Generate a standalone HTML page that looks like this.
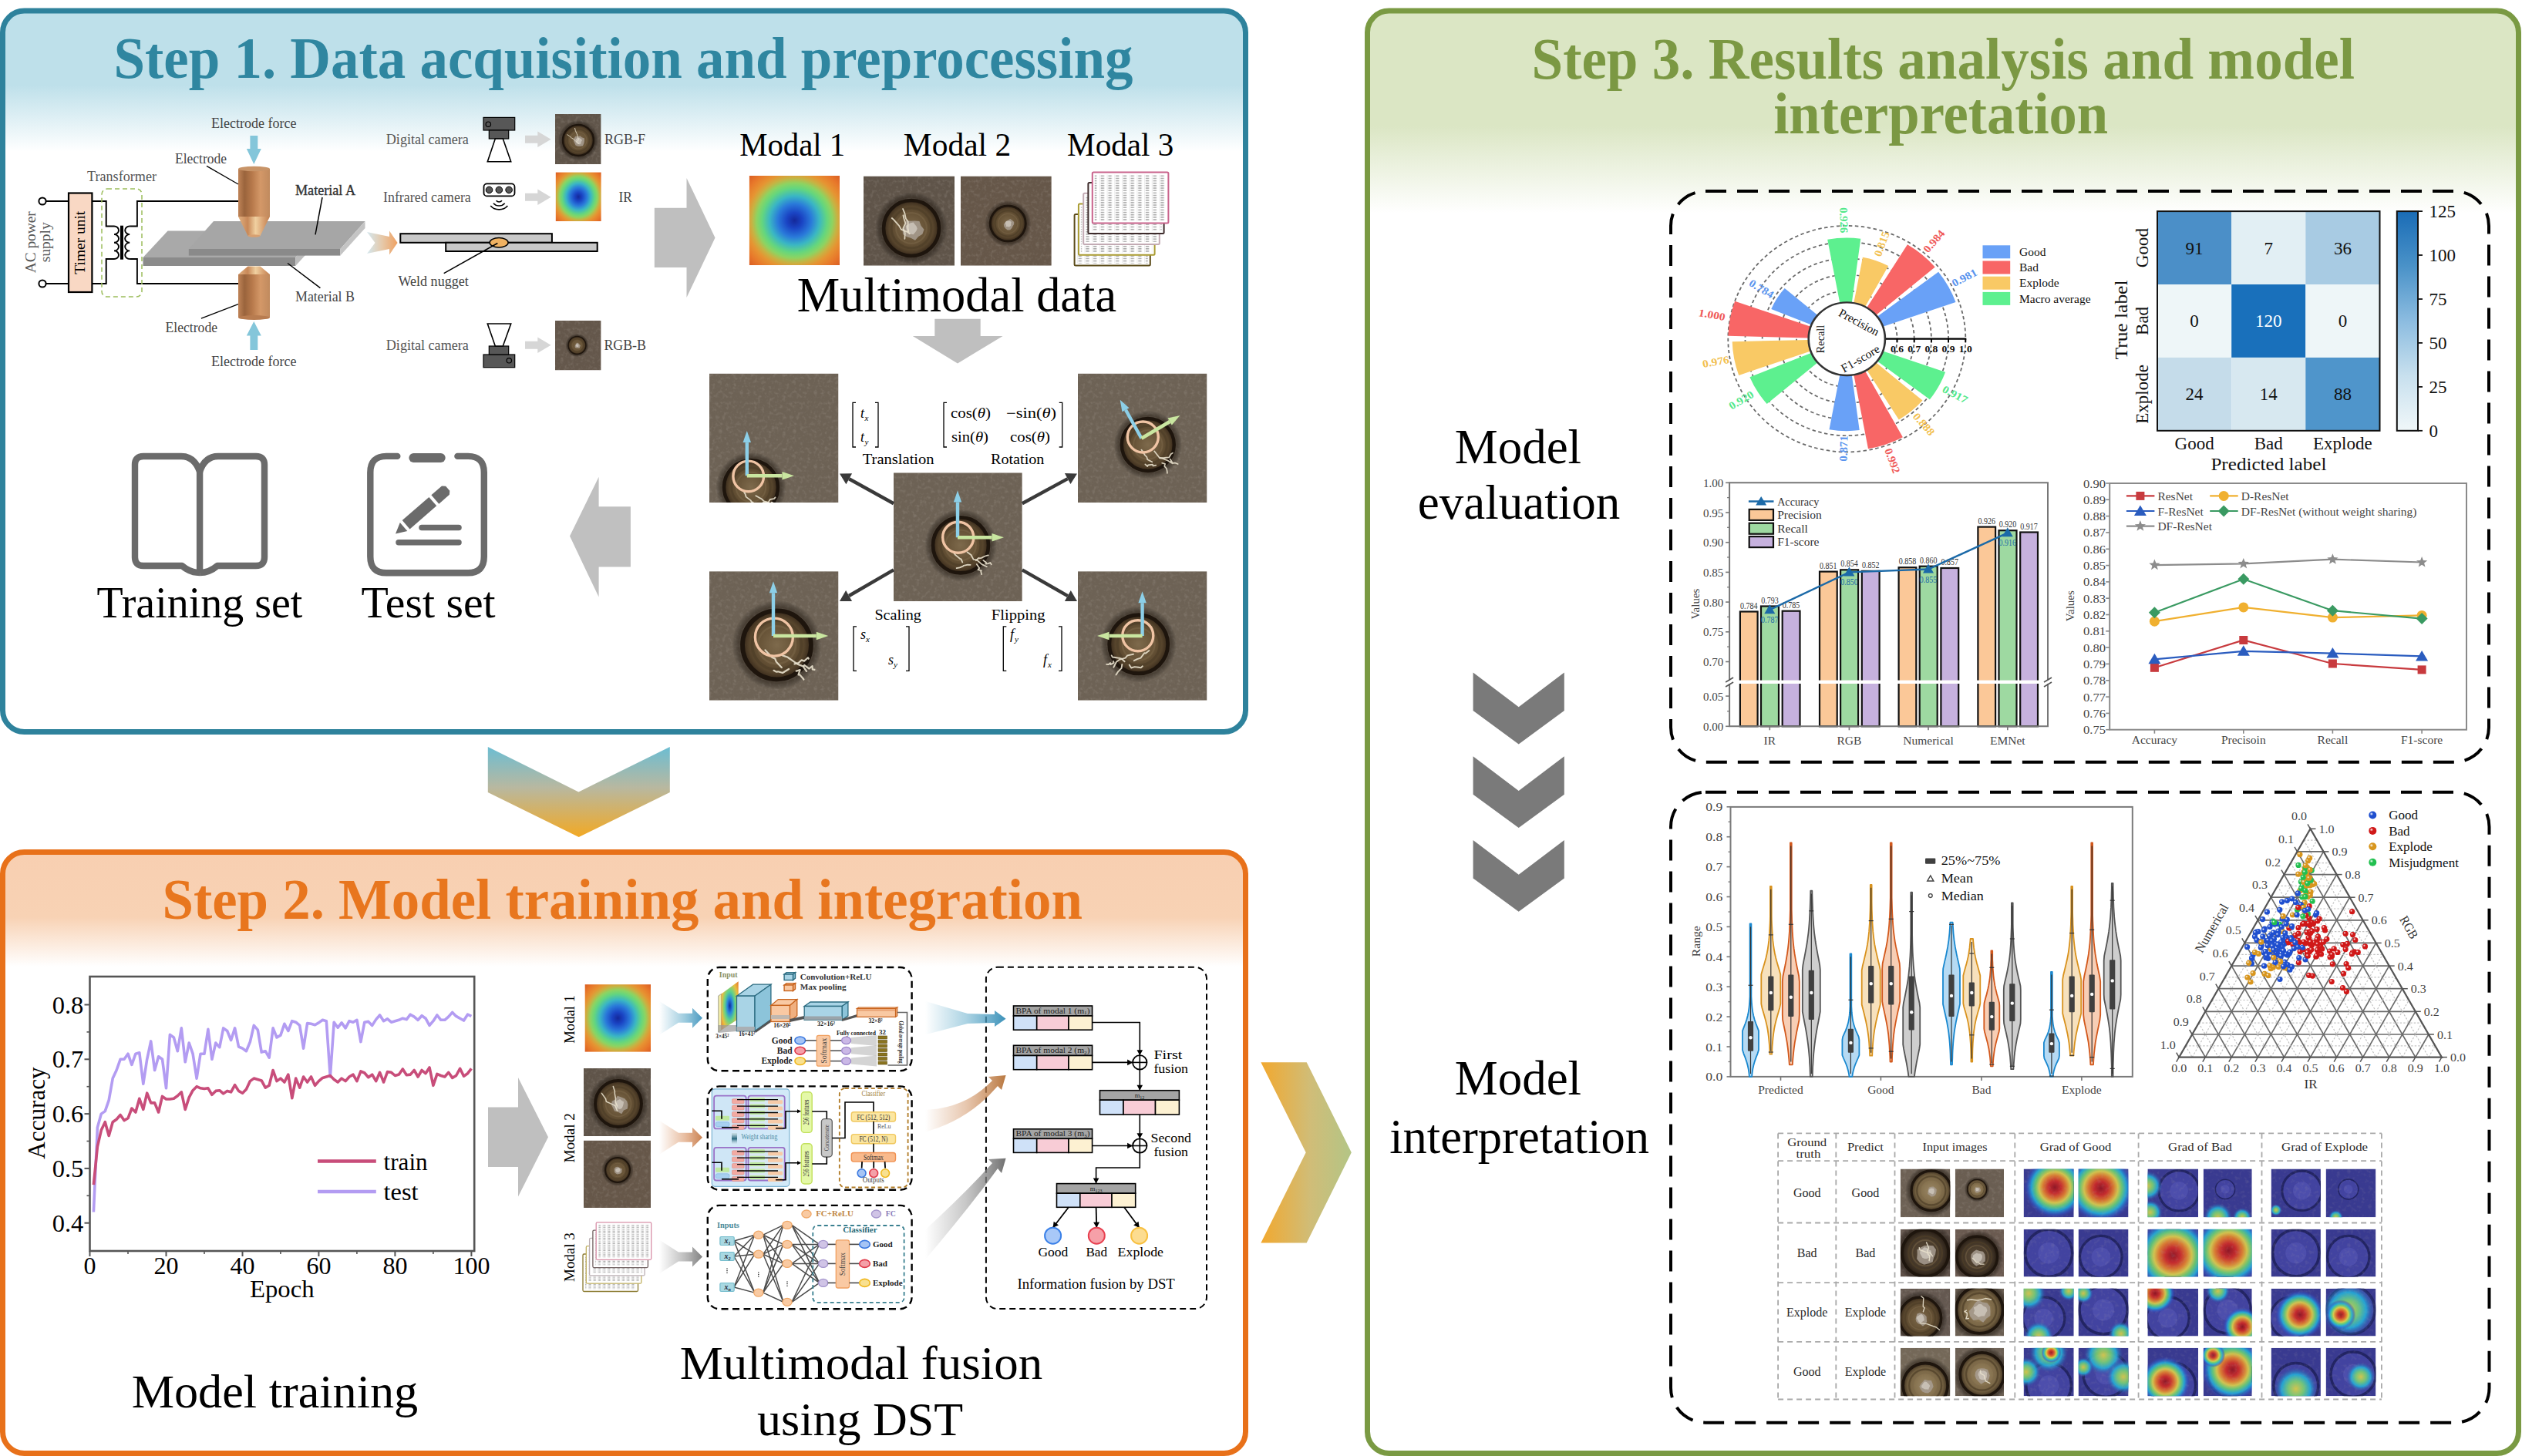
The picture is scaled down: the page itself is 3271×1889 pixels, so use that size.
<!DOCTYPE html>
<html><head><meta charset="utf-8"><title>Multimodal weld quality pipeline</title>
<style>html,body{margin:0;padding:0;background:#fff;}body{width:3271px;height:1889px;overflow:hidden;}
svg{display:block;font-family:"Liberation Serif",serif;}</style></head>
<body><svg width="3271" height="1889" viewBox="0 0 3271 1889">
<defs><radialGradient id="gIR" gradientUnits="objectBoundingBox" cx="0.5" cy="0.5" r="0.72" ><stop offset="0" stop-color="#14289a"/><stop offset="0.12" stop-color="#1a44c4"/><stop offset="0.26" stop-color="#2a7ada"/><stop offset="0.38" stop-color="#3ab6c4"/><stop offset="0.5" stop-color="#64d67e"/><stop offset="0.58" stop-color="#8cd462"/><stop offset="0.66" stop-color="#c8b242"/><stop offset="0.74" stop-color="#e69432"/><stop offset="0.86" stop-color="#e8782a"/><stop offset="1" stop-color="#d85a22"/></radialGradient>
<radialGradient id="gHalo" gradientUnits="objectBoundingBox" cx="0.5" cy="0.5" r="0.5" ><stop offset="0" stop-color="#000" stop-opacity="0"/><stop offset="0.7" stop-color="#000" stop-opacity="0"/><stop offset="0.85" stop-color="#1a120a" stop-opacity="0.45"/><stop offset="1" stop-color="#000" stop-opacity="0"/></radialGradient>
<radialGradient id="gNug" gradientUnits="objectBoundingBox" cx="0.5" cy="0.5" r="0.5" ><stop offset="0" stop-color="#7e6a4c"/><stop offset="0.55" stop-color="#665236"/><stop offset="0.8" stop-color="#56442c"/><stop offset="1" stop-color="#36281a"/></radialGradient>
<radialGradient id="gNugL" gradientUnits="objectBoundingBox" cx="0.5" cy="0.5" r="0.5" ><stop offset="0" stop-color="#9a8766"/><stop offset="0.5" stop-color="#86724f"/><stop offset="0.8" stop-color="#6e5c3e"/><stop offset="1" stop-color="#3e3020"/></radialGradient>
<radialGradient id="gNugD" gradientUnits="objectBoundingBox" cx="0.5" cy="0.5" r="0.5" ><stop offset="0" stop-color="#5a4a38"/><stop offset="0.55" stop-color="#4a3c2c"/><stop offset="0.8" stop-color="#3c3024"/><stop offset="1" stop-color="#261c12"/></radialGradient>
<radialGradient id="gSil" gradientUnits="objectBoundingBox" cx="0.5" cy="0.5" r="0.5" ><stop offset="0" stop-color="#d0c8be"/><stop offset="0.45" stop-color="#b0a598"/><stop offset="1" stop-color="#8c8070" stop-opacity="0"/></radialGradient>
<radialGradient id="gJet" gradientUnits="objectBoundingBox" cx="0.5" cy="0.5" r="0.5" ><stop offset="0" stop-color="#a01010"/><stop offset="0.2" stop-color="#e02818"/><stop offset="0.38" stop-color="#f88a20"/><stop offset="0.5" stop-color="#f0e040"/><stop offset="0.62" stop-color="#70e070"/><stop offset="0.75" stop-color="#20b8e0"/><stop offset="0.88" stop-color="#3060d0" stop-opacity="0.6"/><stop offset="1" stop-color="#3a3ea0" stop-opacity="0"/></radialGradient>
<radialGradient id="gJet2" gradientUnits="objectBoundingBox" cx="0.5" cy="0.5" r="0.5" ><stop offset="0" stop-color="#f0e040"/><stop offset="0.35" stop-color="#80e070"/><stop offset="0.65" stop-color="#20b8e0"/><stop offset="1" stop-color="#3a3ea0" stop-opacity="0"/></radialGradient>
<filter id="fNoise" x="0" y="0" width="100%" height="100%"><feTurbulence type="fractalNoise" baseFrequency="0.22" numOctaves="2" seed="3" stitchTiles="stitch"/><feColorMatrix type="matrix" values="0 0 0 0 0.5  0 0 0 0 0.45  0 0 0 0 0.4  1.6 0 0 0 -0.8"/></filter>
<pattern id="pNoise" patternUnits="userSpaceOnUse" width="96" height="96"><rect width="96" height="96" filter="url(#fNoise)"/></pattern>
<filter id="fNoiseD" x="0" y="0" width="100%" height="100%"><feTurbulence type="fractalNoise" baseFrequency="0.3" numOctaves="2" seed="8" stitchTiles="stitch"/><feColorMatrix type="matrix" values="0 0 0 0 0.2  0 0 0 0 0.17  0 0 0 0 0.15  1.6 0 0 0 -0.85"/></filter>
<pattern id="pNoiseD" patternUnits="userSpaceOnUse" width="80" height="80"><rect width="80" height="80" filter="url(#fNoiseD)"/></pattern>
<linearGradient id="gS1" gradientUnits="userSpaceOnUse" x1="0" y1="14" x2="0" y2="950"><stop offset="0" stop-color="#bee0ea"/><stop offset="0.103" stop-color="#bee0ea"/><stop offset="0.195" stop-color="#ffffff"/><stop offset="1" stop-color="#ffffff"/></linearGradient>
<linearGradient id="gS2" gradientUnits="userSpaceOnUse" x1="0" y1="1105" x2="0" y2="1889"><stop offset="0" stop-color="#f8cfb1"/><stop offset="0.108" stop-color="#f8d2b4"/><stop offset="0.19" stop-color="#ffffff"/><stop offset="1" stop-color="#ffffff"/></linearGradient>
<linearGradient id="gS3" gradientUnits="userSpaceOnUse" x1="0" y1="14" x2="0" y2="1889"><stop offset="0" stop-color="#dbe6c4"/><stop offset="0.08" stop-color="#dbe6c4"/><stop offset="0.14" stop-color="#ffffff"/><stop offset="1" stop-color="#ffffff"/></linearGradient>
<linearGradient id="gCh1" gradientUnits="userSpaceOnUse" x1="0" y1="969" x2="0" y2="1086"><stop offset="0" stop-color="#6cbdd2"/><stop offset="0.45" stop-color="#b8b8a0"/><stop offset="1" stop-color="#f2a924"/></linearGradient>
<linearGradient id="gCh2" gradientUnits="userSpaceOnUse" x1="1635" y1="0" x2="1753" y2="0"><stop offset="0" stop-color="#f2a82e"/><stop offset="0.55" stop-color="#d0bd78"/><stop offset="1" stop-color="#b3c586"/></linearGradient>
<linearGradient id="gCu" gradientUnits="userSpaceOnUse" x1="309" y1="0" x2="350" y2="0"><stop offset="0" stop-color="#c08458"/><stop offset="0.2" stop-color="#9a643c"/><stop offset="0.45" stop-color="#b87a4c"/><stop offset="0.7" stop-color="#d49868"/><stop offset="1" stop-color="#c08a5e"/></linearGradient>
<linearGradient id="gCu2" gradientUnits="userSpaceOnUse" x1="309" y1="0" x2="350" y2="0"><stop offset="0" stop-color="#e0b080"/><stop offset="0.3" stop-color="#c88858"/><stop offset="0.55" stop-color="#f0d0a0"/><stop offset="0.8" stop-color="#d8a070"/><stop offset="1" stop-color="#c08050"/></linearGradient>
<linearGradient id="gBO" gradientUnits="userSpaceOnUse" x1="476" y1="0" x2="516" y2="0"><stop offset="0" stop-color="#d4e8f0"/><stop offset="0.5" stop-color="#e6c8a8"/><stop offset="1" stop-color="#efa060"/></linearGradient>
<clipPath id="c1"><rect x="720" y="148" width="59.6" height="65"/></clipPath>
<clipPath id="c2"><rect x="720" y="416" width="59.6" height="64.4"/></clipPath>
<clipPath id="c3"><rect x="1120" y="228.5" width="118" height="116.2"/></clipPath>
<clipPath id="c4"><rect x="1246" y="228.5" width="117.8" height="116.2"/></clipPath>
<pattern id="tblpat" patternUnits="userSpaceOnUse" width="9.7" height="3.15"><rect x="1.8" y="0.7" width="4.4" height="1.5" fill="#a6a6a6"/><rect x="0" y="0" width="0.6" height="3.15" fill="#dedede"/></pattern>
<pattern id="tblpat2" patternUnits="userSpaceOnUse" width="6.2" height="2.3"><rect x="1.2" y="0.5" width="2.9" height="1.1" fill="#a6a6a6"/><rect x="0" y="0" width="0.5" height="2.3" fill="#dedede"/></pattern>
<clipPath id="c5"><rect x="920" y="484.6" width="167.5" height="167.5"/></clipPath>
<clipPath id="c6"><rect x="920" y="484.6" width="167.5" height="167.5"/></clipPath>
<clipPath id="c7"><rect x="1398" y="484.6" width="167.5" height="167.5"/></clipPath>
<clipPath id="c8"><rect x="1398" y="484.6" width="167.5" height="167.5"/></clipPath>
<clipPath id="c9"><rect x="1159" y="613.3" width="166.8" height="166.8"/></clipPath>
<clipPath id="c10"><rect x="1159" y="613.3" width="166.8" height="166.8"/></clipPath>
<clipPath id="c11"><rect x="920" y="741.2" width="167.5" height="167.5"/></clipPath>
<clipPath id="c12"><rect x="920" y="741.2" width="167.5" height="167.5"/></clipPath>
<clipPath id="c13"><rect x="1398" y="741.2" width="167.5" height="167.5"/></clipPath>
<clipPath id="c14"><rect x="1398" y="741.2" width="167.5" height="167.5"/></clipPath>
<clipPath id="c15"><rect x="116.5" y="1267" width="498.7" height="356"/></clipPath>
<clipPath id="c16"><rect x="757" y="1386" width="87" height="88"/></clipPath>
<clipPath id="c17"><rect x="757" y="1479.6" width="87" height="87.4"/></clipPath>
<linearGradient id="gFB" gradientUnits="userSpaceOnUse" x1="855" y1="0" x2="911" y2="0"><stop offset="0" stop-color="#5aa8c8" stop-opacity="0"/><stop offset="0.6" stop-color="#5aa8c8" stop-opacity="0.6"/><stop offset="1" stop-color="#4a98c0"/></linearGradient>
<linearGradient id="gFO" gradientUnits="userSpaceOnUse" x1="855" y1="0" x2="911" y2="0"><stop offset="0" stop-color="#d89060" stop-opacity="0"/><stop offset="0.6" stop-color="#d89060" stop-opacity="0.6"/><stop offset="1" stop-color="#c88050"/></linearGradient>
<linearGradient id="gFG" gradientUnits="userSpaceOnUse" x1="855" y1="0" x2="911" y2="0"><stop offset="0" stop-color="#909090" stop-opacity="0"/><stop offset="0.6" stop-color="#909090" stop-opacity="0.6"/><stop offset="1" stop-color="#808080"/></linearGradient>
<radialGradient id="gIRv" gradientUnits="objectBoundingBox" cx="0.5" cy="0.5" r="0.75" ><stop offset="0" stop-color="#0c2a9c"/><stop offset="0.2" stop-color="#2a86dc"/><stop offset="0.4" stop-color="#5ed48a"/><stop offset="0.65" stop-color="#e8c040"/><stop offset="1" stop-color="#e66428"/></radialGradient>
<linearGradient id="gWS" gradientUnits="userSpaceOnUse" x1="0" y1="1471" x2="0" y2="1484"><stop offset="0" stop-color="#c0d8e0"/><stop offset="0.5" stop-color="#2a6a80"/><stop offset="1" stop-color="#c0d8e0" stop-opacity="0.3"/></linearGradient>
<linearGradient id="gIA1" gradientUnits="userSpaceOnUse" x1="1200" y1="0" x2="1305" y2="0"><stop offset="0" stop-color="#5aa8c8" stop-opacity="0"/><stop offset="0.5" stop-color="#5aa8c8" stop-opacity="0.5"/><stop offset="1" stop-color="#3a90b8"/></linearGradient>
<linearGradient id="gIA2" gradientUnits="userSpaceOnUse" x1="1200" y1="0" x2="1305" y2="0"><stop offset="0" stop-color="#d09060" stop-opacity="0"/><stop offset="0.5" stop-color="#d09060" stop-opacity="0.5"/><stop offset="1" stop-color="#b87840"/></linearGradient>
<linearGradient id="gIA3" gradientUnits="userSpaceOnUse" x1="1200" y1="0" x2="1305" y2="0"><stop offset="0" stop-color="#909090" stop-opacity="0"/><stop offset="0.5" stop-color="#909090" stop-opacity="0.5"/><stop offset="1" stop-color="#707070"/></linearGradient>
<linearGradient id="gCB" gradientUnits="userSpaceOnUse" x1="0" y1="274.1" x2="0" y2="558.8"><stop offset="0" stop-color="#1a6cb6"/><stop offset="0.25" stop-color="#4a92c8"/><stop offset="0.5" stop-color="#8cbce0"/><stop offset="0.75" stop-color="#c8e0ee"/><stop offset="1" stop-color="#f0f7f9"/></linearGradient>
<radialGradient id="pB" gradientUnits="objectBoundingBox" cx="0.35" cy="0.35" r="0.65" ><stop offset="0" stop-color="#ffffff"/><stop offset="0.35" stop-color="#1f4fcf"/><stop offset="1" stop-color="#1f4fcf"/></radialGradient>
<radialGradient id="pR" gradientUnits="objectBoundingBox" cx="0.35" cy="0.35" r="0.65" ><stop offset="0" stop-color="#ffffff"/><stop offset="0.35" stop-color="#d01818"/><stop offset="1" stop-color="#d01818"/></radialGradient>
<radialGradient id="pO" gradientUnits="objectBoundingBox" cx="0.35" cy="0.35" r="0.65" ><stop offset="0" stop-color="#ffffff"/><stop offset="0.35" stop-color="#d8961e"/><stop offset="1" stop-color="#d8961e"/></radialGradient>
<radialGradient id="pG" gradientUnits="objectBoundingBox" cx="0.35" cy="0.35" r="0.65" ><stop offset="0" stop-color="#ffffff"/><stop offset="0.35" stop-color="#22c050"/><stop offset="1" stop-color="#22c050"/></radialGradient>
<clipPath id="c18"><rect x="2464.8" y="1516.5" width="64.5" height="62.8"/></clipPath>
<clipPath id="c19"><rect x="2535.8" y="1516.5" width="63.2" height="62.8"/></clipPath>
<clipPath id="c20"><rect x="2624.6" y="1516.5" width="65.1" height="62.8"/></clipPath>
<clipPath id="c21"><rect x="2695.6" y="1516.5" width="64.9" height="62.8"/></clipPath>
<clipPath id="c22"><rect x="2785.4" y="1516.5" width="65.6" height="62.8"/></clipPath>
<clipPath id="c23"><rect x="2857.7" y="1516.5" width="63" height="62.8"/></clipPath>
<clipPath id="c24"><rect x="2945.6" y="1516.5" width="64.3" height="62.8"/></clipPath>
<clipPath id="c25"><rect x="3016.6" y="1516.5" width="64.8" height="62.8"/></clipPath>
<clipPath id="c26"><rect x="2464.8" y="1594.8" width="64.5" height="61.7"/></clipPath>
<clipPath id="c27"><rect x="2535.8" y="1594.8" width="63.2" height="61.7"/></clipPath>
<clipPath id="c28"><rect x="2624.6" y="1594.8" width="65.1" height="61.7"/></clipPath>
<clipPath id="c29"><rect x="2695.6" y="1594.8" width="64.9" height="61.7"/></clipPath>
<clipPath id="c30"><rect x="2785.4" y="1594.8" width="65.6" height="61.7"/></clipPath>
<clipPath id="c31"><rect x="2857.7" y="1594.8" width="63" height="61.7"/></clipPath>
<clipPath id="c32"><rect x="2945.6" y="1594.8" width="64.3" height="61.7"/></clipPath>
<clipPath id="c33"><rect x="3016.6" y="1594.8" width="64.8" height="61.7"/></clipPath>
<clipPath id="c34"><rect x="2464.8" y="1671.8" width="64.5" height="61.7"/></clipPath>
<clipPath id="c35"><rect x="2535.8" y="1671.8" width="63.2" height="61.7"/></clipPath>
<clipPath id="c36"><rect x="2624.6" y="1671.8" width="65.1" height="61.7"/></clipPath>
<clipPath id="c37"><rect x="2695.6" y="1671.8" width="64.9" height="61.7"/></clipPath>
<clipPath id="c38"><rect x="2785.4" y="1671.8" width="65.6" height="61.7"/></clipPath>
<clipPath id="c39"><rect x="2857.7" y="1671.8" width="63" height="61.7"/></clipPath>
<clipPath id="c40"><rect x="2945.6" y="1671.8" width="64.3" height="61.7"/></clipPath>
<clipPath id="c41"><rect x="3016.6" y="1671.8" width="64.8" height="61.7"/></clipPath>
<clipPath id="c42"><rect x="2464.8" y="1748.8" width="64.5" height="62.5"/></clipPath>
<clipPath id="c43"><rect x="2535.8" y="1748.8" width="63.2" height="62.5"/></clipPath>
<clipPath id="c44"><rect x="2624.6" y="1748.8" width="65.1" height="62.5"/></clipPath>
<clipPath id="c45"><rect x="2695.6" y="1748.8" width="64.9" height="62.5"/></clipPath>
<clipPath id="c46"><rect x="2785.4" y="1748.8" width="65.6" height="62.5"/></clipPath>
<clipPath id="c47"><rect x="2857.7" y="1748.8" width="63" height="62.5"/></clipPath>
<clipPath id="c48"><rect x="2945.6" y="1748.8" width="64.3" height="62.5"/></clipPath>
<clipPath id="c49"><rect x="3016.6" y="1748.8" width="64.8" height="62.5"/></clipPath></defs>
<rect x="0" y="0" width="3271" height="1889" fill="#ffffff"/>
<rect x="3.5" y="14" width="1612" height="935.5" fill="url(#gS1)" stroke="#2e829c" stroke-width="7" rx="28"/>
<rect x="3.5" y="1105.5" width="1612" height="780" fill="url(#gS2)" stroke="#e8711a" stroke-width="7" rx="28"/>
<rect x="1773.5" y="14" width="1493" height="1871.5" fill="url(#gS3)" stroke="#7a9a43" stroke-width="7" rx="28"/>
<text x="147.5" y="101" font-size="77" fill="#2f86a0" font-weight="bold" textLength="1322" lengthAdjust="spacingAndGlyphs">Step 1. Data acquisition and preprocessing</text>
<text x="210.5" y="1191.5" font-size="75" fill="#e8761e" font-weight="bold" textLength="1193.5" lengthAdjust="spacingAndGlyphs">Step 2. Model training and integration</text>
<text x="1986.5" y="102.3" font-size="77" fill="#7b9843" font-weight="bold" textLength="1067.5" lengthAdjust="spacingAndGlyphs">Step 3. Results analysis and model</text>
<text x="2300.2" y="172.5" font-size="77" fill="#7b9843" font-weight="bold" textLength="434" lengthAdjust="spacingAndGlyphs">interpretation</text>
<polygon points="632.8,969 750.4,1027.4 868.8,969 868.8,1028 750.7,1086 632.8,1028" fill="url(#gCh1)"/>
<polygon points="1635.4,1378.2 1694.7,1378.2 1752.8,1495.2 1694.7,1612.6 1635.4,1612.6 1693.7,1495.2" fill="url(#gCh2)"/>
<circle cx="55" cy="261" r="4.6" fill="#fff" stroke="#000" stroke-width="2"/>
<circle cx="55" cy="368" r="4.6" fill="#fff" stroke="#000" stroke-width="2"/>
<polyline points="59.6,261 89,261" fill="none" stroke="#000" stroke-width="2" />
<polyline points="59.6,368 89,368" fill="none" stroke="#000" stroke-width="2" />
<rect x="89" y="250.5" width="30.4" height="128.5" fill="#f9d8c4" stroke="#000" stroke-width="2.2"/>
<text x="110.4" y="314.7" font-size="18.5" text-anchor="middle" textLength="82" lengthAdjust="spacingAndGlyphs" transform="rotate(-90 110.4 314.7)">Timer unit</text>
<text x="46" y="314.3" font-size="18" fill="#555" text-anchor="middle" textLength="80" lengthAdjust="spacingAndGlyphs" transform="rotate(-90 46 314.3)">AC power</text>
<text x="65.5" y="314.3" font-size="18" fill="#555" text-anchor="middle" textLength="52" lengthAdjust="spacingAndGlyphs" transform="rotate(-90 65.5 314.3)">supply</text>
<polyline points="119.4,261 137.7,261 137.7,293.5 148,293.5" fill="none" stroke="#000" stroke-width="2" />
<polyline points="119.4,368 137.7,368 137.7,336 148,336" fill="none" stroke="#000" stroke-width="2" />
<path d="M148,293.5 A6,5.3 0 0 1 148,304.1 A6,5.3 0 0 1 148,314.8 A6,5.3 0 0 1 148,325.4 A6,5.3 0 0 1 148,336" fill="none" stroke="#000" stroke-width="1.9"/>
<path d="M168.2,293.5 A6,5.3 0 0 0 168.2,304.1 A6,5.3 0 0 0 168.2,314.8 A6,5.3 0 0 0 168.2,325.4 A6,5.3 0 0 0 168.2,336" fill="none" stroke="#000" stroke-width="1.9"/>
<rect x="156" y="292.7" width="4" height="44" fill="#000"/>
<polyline points="168.2,293.5 177.9,293.5 177.9,261 309,261" fill="none" stroke="#000" stroke-width="1.9" />
<polyline points="168.2,336 177.9,336 177.9,368 309,368" fill="none" stroke="#000" stroke-width="1.9" />
<rect x="132" y="245" width="52" height="140" fill="none" stroke="#9cbd5c" stroke-width="1.5" rx="7" stroke-dasharray="6,4"/>
<text x="113" y="235" font-size="18" fill="#555" textLength="90" lengthAdjust="spacingAndGlyphs">Transformer</text>
<polygon points="185.5,334 217.6,299.5 415,299.5 383.3,334" fill="#a9a9a9"/>
<rect x="185.5" y="334" width="197.8" height="11" fill="#8b8b8b"/>
<polygon points="383.3,334 415,299.5 415,310 383.3,345" fill="#bcbcbc"/>
<polygon points="244.8,323 277,287 473.5,287 441.4,323" fill="#a6a6a6"/>
<rect x="244.8" y="323" width="196.6" height="8.6" fill="#8a8a8a"/>
<polygon points="441.4,323 473.5,287 473.5,296 441.4,331.6" fill="#c4c4c4"/>
<rect x="309" y="219" width="41" height="62" fill="url(#gCu)"/>
<ellipse cx="329.5" cy="219" rx="20.5" ry="3.2" fill="#c89468"/>
<polygon points="309,281 350,281 337.5,306 321.5,306" fill="url(#gCu2)"/>
<ellipse cx="329.5" cy="306" rx="8" ry="1.8" fill="#d8a070"/>
<polygon points="321.5,345.5 337.5,345.5 350,356 309,356" fill="url(#gCu2)"/>
<rect x="309" y="356" width="41" height="56" fill="url(#gCu)"/>
<ellipse cx="329.5" cy="412" rx="20.5" ry="3" fill="#b87c50"/>
<polygon points="324.4,176 334.3,176 334.3,193 338.8,193 329.3,213 319.8,193 324.4,193" fill="#84c6da"/>
<polygon points="324.4,454 334.3,454 334.3,435.5 338.8,435.5 329.3,417 319.8,435.5 324.4,435.5" fill="#84c6da"/>
<text x="274" y="165.5" font-size="18" fill="#444" textLength="110.5" lengthAdjust="spacingAndGlyphs">Electrode force</text>
<text x="274" y="475" font-size="18" fill="#444" textLength="110.5" lengthAdjust="spacingAndGlyphs">Electrode force</text>
<text x="227" y="211.7" font-size="18" fill="#444" textLength="67" lengthAdjust="spacingAndGlyphs">Electrode</text>
<text x="214.6" y="430.5" font-size="18" fill="#444" textLength="67.4" lengthAdjust="spacingAndGlyphs">Electrode</text>
<line x1="268" y1="215.4" x2="309" y2="239" stroke="#000" stroke-width="1.3" />
<line x1="260.9" y1="413.2" x2="309" y2="394.7" stroke="#000" stroke-width="1.3" />
<text x="383" y="252.5" font-size="18" fill="#333" textLength="78" lengthAdjust="spacingAndGlyphs" stroke="#333" stroke-width="0.35">Material A</text>
<text x="383" y="391" font-size="18" fill="#444" textLength="77" lengthAdjust="spacingAndGlyphs">Material B</text>
<line x1="418" y1="256" x2="409" y2="304.4" stroke="#000" stroke-width="1.5" />
<line x1="373" y1="341.5" x2="415.4" y2="373.7" stroke="#000" stroke-width="1.5" />
<polygon points="476,301 505,307 505,299.5 515.6,315 505,330.4 505,323 476,329 486.5,315" fill="url(#gBO)"/>
<rect x="519.3" y="303.2" width="196.6" height="11.6" fill="#c8c8c8" stroke="#000" stroke-width="2"/>
<rect x="578.2" y="314.8" width="196.5" height="11.2" fill="#c8c8c8" stroke="#000" stroke-width="2"/>
<ellipse cx="647.1" cy="314.8" rx="12" ry="6.2" fill="#f0b262" stroke="#000" stroke-width="1.5"/>
<line x1="645.4" y1="315.5" x2="575.7" y2="354.6" stroke="#000" stroke-width="1.5" />
<text x="516.4" y="371" font-size="18" fill="#444" textLength="91.4" lengthAdjust="spacingAndGlyphs">Weld nugget</text>
<text x="500.8" y="187" font-size="18" fill="#555" textLength="107" lengthAdjust="spacingAndGlyphs">Digital camera</text>
<text x="497" y="261.9" font-size="18" fill="#555" textLength="113.8" lengthAdjust="spacingAndGlyphs">Infrared camera</text>
<text x="500.8" y="454" font-size="18" fill="#555" textLength="107" lengthAdjust="spacingAndGlyphs">Digital camera</text>
<rect x="627" y="152.4" width="40.7" height="16.6" fill="#575757" stroke="#000" stroke-width="1.2"/>
<circle cx="633.3" cy="161.2" r="3.2" fill="#575757" stroke="#000" stroke-width="1.2"/>
<rect x="634.3" y="169" width="25.4" height="11" fill="#575757" stroke="#000" stroke-width="1.2"/>
<polygon points="642.3,180 652.3,180 662.7,209.7 632.3,209.7" fill="#fff" stroke="#000" stroke-width="1.6"/>
<rect x="627" y="460" width="40.7" height="16.7" fill="#575757" stroke="#000" stroke-width="1.2"/>
<circle cx="660.3" cy="467.8" r="3.2" fill="#575757" stroke="#000" stroke-width="1.2"/>
<rect x="634.3" y="449" width="25.4" height="11" fill="#575757" stroke="#000" stroke-width="1.2"/>
<polygon points="642.3,449 652.3,449 662.7,420 632.3,420" fill="#fff" stroke="#000" stroke-width="1.6"/>
<rect x="627.5" y="238.4" width="40" height="16" fill="#fff" stroke="#000" stroke-width="1.8" rx="4"/>
<circle cx="634.5" cy="246.4" r="4.3" fill="#575757" stroke="#000" stroke-width="1"/>
<circle cx="647.3" cy="246.4" r="4.3" fill="#575757" stroke="#000" stroke-width="1"/>
<circle cx="660.1" cy="246.4" r="4.3" fill="#575757" stroke="#000" stroke-width="1"/>
<path d="M643.6,260.3 A5,5 0 0 0 651,260.3" fill="none" stroke="#000" stroke-width="1.6"/>
<path d="M639.9,263.7 A10,10 0 0 0 654.7,263.7" fill="none" stroke="#000" stroke-width="1.6"/>
<path d="M636.2,267 A15,15 0 0 0 658.4,267" fill="none" stroke="#000" stroke-width="1.6"/>
<polygon points="681,175.8 697.3,175.8 697.3,170.5 714.6,180.8 697.3,191.1 697.3,185.8 681,185.8" fill="#d6d6d6"/>
<polygon points="681,250.7 697.3,250.7 697.3,245.4 714.6,255.7 697.3,266 697.3,260.7 681,260.7" fill="#d6d6d6"/>
<polygon points="681,442.8 697.3,442.8 697.3,437.5 714.6,447.8 697.3,458.1 697.3,452.8 681,452.8" fill="#d6d6d6"/>
<g clip-path="url(#c1)">
<rect x="720" y="148" width="59.6" height="65" fill="#5f5449"/>
<rect x="720" y="148" width="59.6" height="65" fill="url(#pNoise)" opacity="0.35"/>
<rect x="720" y="148" width="59.6" height="65" fill="url(#pNoiseD)" opacity="0.35"/>
<circle cx="750" cy="182" r="26" fill="url(#gHalo)"/>
<circle cx="750" cy="182" r="20" fill="url(#gNug)" stroke="#1e150d" stroke-width="2.6"/>
<circle cx="750" cy="182" r="14.4" fill="none" stroke="#4e3e28" stroke-width="1.6" opacity="0.7"/>
<circle cx="750" cy="182" r="11" fill="none" stroke="#7c684a" stroke-width="1.2" opacity="0.5"/>
<polygon points="757.9,183 757.4,186.1 756,189.3 752.5,189.7 749.4,189.8 746.5,188.6 745.4,185.7 744,183 744.4,179.8 746.2,177 749.7,177.1 752.5,176.6 754.7,178.3 758,179.6" fill="#a89e92" opacity="0.85"/>
<polygon points="754.9,182.4 753.6,183.9 753.5,186.2 751.5,187.2 749.4,186.7 747.7,185.8 747.1,184 746.9,182.4 746.6,180.6 748.2,179.6 749.6,178.7 751.3,178.7 752.6,179.7 754.1,180.6" fill="#cfc8be" opacity="0.8"/>
<polyline points="735.9,174.8 738.8,176.7 741.6,179.2 744.3,180.7 748.4,184.8 750.8,186.5" fill="none" stroke="#e8e0cc" stroke-width="1" stroke-linejoin="round" stroke-linecap="round" opacity="0.9"/>
<polyline points="745.6,166.4 746.3,169.4 748.2,173.6 749.2,176.9 750.3,181.4 748.8,183.3" fill="none" stroke="#e8e0cc" stroke-width="1" stroke-linejoin="round" stroke-linecap="round" opacity="0.9"/>
</g>
<rect x="720.8" y="223.6" width="58.8" height="63.4" fill="url(#gIR)"/>
<g clip-path="url(#c2)">
<rect x="720" y="416" width="59.6" height="64.4" fill="#64574b"/>
<rect x="720" y="416" width="59.6" height="64.4" fill="url(#pNoise)" opacity="0.35"/>
<rect x="720" y="416" width="59.6" height="64.4" fill="url(#pNoiseD)" opacity="0.35"/>
<circle cx="748.5" cy="448" r="15" fill="url(#gHalo)"/>
<circle cx="748.5" cy="448" r="11.5" fill="url(#gNug)" stroke="#1e150d" stroke-width="1.5"/>
<circle cx="748.5" cy="448" r="8.3" fill="none" stroke="#4e3e28" stroke-width="0.9" opacity="0.7"/>
<circle cx="748.5" cy="448" r="6.3" fill="none" stroke="#7c684a" stroke-width="0.7" opacity="0.5"/>
<polygon points="753,448.6 752.2,450.1 751.6,451.7 749.8,451.8 748.4,451.4 746.8,451.4 745.7,450.2 745.9,448.6 746.4,447.3 747.1,446 748.2,444.7 749.9,444.9 750.9,446.2 751.9,447.2" fill="#a89e92" opacity="0.85"/>
<polygon points="750.5,448.2 750.3,449 750.2,450 749.1,450 748.3,450.3 747.5,449.8 747.1,449 746.5,448.2 747.1,447.4 747.4,446.5 748.3,446.5 749.2,446.3 749.9,446.8 750.4,447.4" fill="#cfc8be" opacity="0.8"/>
</g>
<text x="783.9" y="187" font-size="18" fill="#444" textLength="53" lengthAdjust="spacingAndGlyphs">RGB-F</text>
<text x="802.4" y="261.9" font-size="18" fill="#444" textLength="17.3" lengthAdjust="spacingAndGlyphs">IR</text>
<text x="783.4" y="454" font-size="18" fill="#444" textLength="54.6" lengthAdjust="spacingAndGlyphs">RGB-B</text>
<polygon points="848.8,269.8 890.5,269.8 890.5,230.9 927.5,308.4 890.5,385.9 890.5,347 848.8,347" fill="#bfbfbf"/>
<text x="959.2" y="202.3" font-size="42" textLength="137" lengthAdjust="spacingAndGlyphs">Modal 1</text>
<text x="1171.8" y="202.3" font-size="42" textLength="139.4" lengthAdjust="spacingAndGlyphs">Modal 2</text>
<text x="1384.1" y="202.3" font-size="42" textLength="138.1" lengthAdjust="spacingAndGlyphs">Modal 3</text>
<rect x="971.9" y="228" width="117.1" height="116" fill="url(#gIR)"/>
<g clip-path="url(#c3)">
<rect x="1120" y="228.5" width="118" height="116.2" fill="#5f5449"/>
<rect x="1120" y="228.5" width="118" height="116.2" fill="url(#pNoise)" opacity="0.35"/>
<rect x="1120" y="228.5" width="118" height="116.2" fill="url(#pNoiseD)" opacity="0.35"/>
<circle cx="1182" cy="296" r="46.8" fill="url(#gHalo)"/>
<circle cx="1182" cy="296" r="36" fill="url(#gNug)" stroke="#1e150d" stroke-width="4.7"/>
<circle cx="1182" cy="296" r="25.9" fill="none" stroke="#4e3e28" stroke-width="2.9" opacity="0.7"/>
<circle cx="1182" cy="296" r="19.8" fill="none" stroke="#7c684a" stroke-width="2.2" opacity="0.5"/>
<polygon points="1198.5,297.8 1196.4,303.8 1191.1,307 1187,311.7 1181.3,308.8 1176.2,307.3 1171,303.9 1170.6,297.8 1174,293.1 1174.6,286.3 1181.3,286.7 1186.4,286.6 1192.4,287 1194.5,292.7" fill="#a89e92" opacity="0.85"/>
<polygon points="1189.7,296.7 1188.5,299.5 1186.8,301.8 1184.5,304.3 1181.2,303.4 1177.8,302.8 1176.2,299.9 1175.3,296.7 1174.8,292.9 1178,290.8 1181,289.2 1184.6,288.4 1186.9,291.5 1188.7,293.8" fill="#cfc8be" opacity="0.8"/>
<polyline points="1156.8,283 1159,284.9 1166.1,292.9 1168.8,297.6 1176.8,300.8 1179.9,303.3" fill="none" stroke="#e8e0cc" stroke-width="1.8" stroke-linejoin="round" stroke-linecap="round" opacity="0.9"/>
<polyline points="1171,271 1173.3,276.4 1174.8,283.4 1177.7,287.5 1177.4,295.9 1178.3,300.2" fill="none" stroke="#e8e0cc" stroke-width="1.8" stroke-linejoin="round" stroke-linecap="round" opacity="0.9"/>
<polyline points="1171.5,279.5 1172.4,283.5 1174.4,289.7 1171.3,296.4 1173.8,302 1173.4,309.8" fill="none" stroke="#e8e0cc" stroke-width="1.8" stroke-linejoin="round" stroke-linecap="round" opacity="0.9"/>
</g>
<g clip-path="url(#c4)">
<rect x="1246" y="228.5" width="117.8" height="116.2" fill="#665749"/>
<rect x="1246" y="228.5" width="117.8" height="116.2" fill="url(#pNoise)" opacity="0.35"/>
<rect x="1246" y="228.5" width="117.8" height="116.2" fill="url(#pNoiseD)" opacity="0.35"/>
<circle cx="1307.3" cy="290" r="29.9" fill="url(#gHalo)"/>
<circle cx="1307.3" cy="290" r="23" fill="url(#gNug)" stroke="#1e150d" stroke-width="3"/>
<circle cx="1307.3" cy="290" r="16.6" fill="none" stroke="#4e3e28" stroke-width="1.8" opacity="0.7"/>
<circle cx="1307.3" cy="290" r="12.7" fill="none" stroke="#7c684a" stroke-width="1.4" opacity="0.5"/>
<polygon points="1315.1,291.1 1313.5,293.6 1312.3,295.9 1310.1,298.3 1306.8,298.5 1304.2,296.5 1302.3,294.1 1301.8,291.1 1303.4,288.7 1305.1,286.9 1307.3,285.9 1310.1,284 1312.7,285.8 1315.2,287.9" fill="#a89e92" opacity="0.85"/>
<polygon points="1311,290.5 1311.4,292.2 1310.2,293.5 1308.7,294.5 1307,294 1304.9,294 1304.8,291.9 1303.8,290.5 1304,288.6 1305,287 1306.8,286.4 1308.7,286.4 1310.4,287.1 1311.7,288.5" fill="#cfc8be" opacity="0.8"/>
</g>
<rect x="1393.6" y="278" width="98.2" height="66.6" fill="#fff"/>
<rect x="1396.6" y="281" width="92.2" height="60.6" fill="url(#tblpat)"/>
<rect x="1393.6" y="278" width="98.2" height="66.6" fill="none" stroke="#5c4c1a" stroke-width="2" rx="1.5"/>
<rect x="1398.9" y="264.6" width="98.7" height="66.1" fill="#fff"/>
<rect x="1401.9" y="267.6" width="92.7" height="60.1" fill="url(#tblpat)"/>
<rect x="1398.9" y="264.6" width="98.7" height="66.1" fill="none" stroke="#aa9c32" stroke-width="2" rx="1.5"/>
<rect x="1405.2" y="250.8" width="98.6" height="66.1" fill="#fff"/>
<rect x="1408.2" y="253.8" width="92.6" height="60.1" fill="url(#tblpat)"/>
<rect x="1405.2" y="250.8" width="98.6" height="66.1" fill="none" stroke="#c3abb4" stroke-width="2" rx="1.5"/>
<rect x="1411.4" y="237" width="98.2" height="66" fill="#fff"/>
<rect x="1414.4" y="240" width="92.2" height="60" fill="url(#tblpat)"/>
<rect x="1411.4" y="237" width="98.2" height="66" fill="none" stroke="#3e2c2c" stroke-width="2" rx="1.5"/>
<rect x="1416.8" y="223.6" width="98.6" height="66" fill="#fff"/>
<rect x="1419.8" y="226.6" width="92.6" height="60" fill="url(#tblpat)"/>
<rect x="1416.8" y="223.6" width="98.6" height="66" fill="none" stroke="#c9638c" stroke-width="2" rx="1.5"/>
<text x="1033.8" y="403.8" font-size="63" textLength="414.3" lengthAdjust="spacingAndGlyphs">Multimodal data</text>
<polygon points="1212.3,413.7 1271.7,413.7 1271.7,436 1300.6,436 1242,471.6 1183.8,436 1212.3,436" fill="#bfbfbf"/>
<g clip-path="url(#c5)">
<rect x="920" y="484.6" width="167.5" height="167.5" fill="#6d6255"/>
<rect x="920" y="484.6" width="167.5" height="167.5" fill="url(#pNoise)" opacity="0.35"/>
<rect x="920" y="484.6" width="167.5" height="167.5" fill="url(#pNoiseD)" opacity="0.35"/>
<circle cx="974" cy="632" r="45.5" fill="url(#gHalo)"/>
<circle cx="974" cy="632" r="35" fill="url(#gNug)" stroke="#1e150d" stroke-width="4.5"/>
<circle cx="974" cy="632" r="25.2" fill="none" stroke="#4e3e28" stroke-width="2.8" opacity="0.7"/>
<circle cx="974" cy="632" r="19.2" fill="none" stroke="#7c684a" stroke-width="2.1" opacity="0.5"/>
<polyline points="980.4,643.3 987.6,647.2 990.5,650 997.2,652.3 1001.1,654.6 1005.8,658.7" fill="none" stroke="#e8e0cc" stroke-width="1.8" stroke-linejoin="round" stroke-linecap="round" opacity="0.9"/>
<polyline points="989.7,651.8 996.7,651.4 998.8,648 1001.9,647.4 1003.9,647.1 1005.5,645.3" fill="none" stroke="#e8e0cc" stroke-width="1.8" stroke-linejoin="round" stroke-linecap="round" opacity="0.9"/>
<polyline points="993,656.9 996,657.8 997.9,661.4 998.6,665.6 998.2,664.2 999.4,669.5" fill="none" stroke="#e8e0cc" stroke-width="1.8" stroke-linejoin="round" stroke-linecap="round" opacity="0.9"/>
<polyline points="1000.8,651.6 1005.8,654.4 1006,656 1007.6,655.8 1009.1,655.5 1013.8,658.2" fill="none" stroke="#e8e0cc" stroke-width="1.8" stroke-linejoin="round" stroke-linecap="round" opacity="0.9"/>
<polyline points="965.1,638.5 966.6,641 967.6,644.6 973.3,648.9 975.6,652.1 976.6,651.6" fill="none" stroke="#e8e0cc" stroke-width="1.8" stroke-linejoin="round" stroke-linecap="round" opacity="0.9"/>
<polyline points="984.3,657.3 980.5,658.2 979.4,658.9 975.3,660.7 975.3,659.5 968.7,658" fill="none" stroke="#e8e0cc" stroke-width="1.8" stroke-linejoin="round" stroke-linecap="round" opacity="0.9"/>
</g>
<g clip-path="url(#c6)">
<circle cx="970.7" cy="617.9" r="19.8" fill="none" stroke="#f0c4a4" stroke-width="3.4"/>
<line x1="968.8" y1="617.2" x2="968.8" y2="574.1" stroke="#8ccfe8" stroke-width="4.4" />
<polygon points="968.8,559.1 974,574.1 963.6,574.1" fill="#8ccfe8"/>
<line x1="968.8" y1="617.2" x2="1014.5" y2="617.2" stroke="#c9e6a0" stroke-width="4.6" />
<polygon points="1030,617.2 1014.5,622.4 1014.5,612" fill="#c9e6a0"/>
</g>
<g clip-path="url(#c7)">
<rect x="1398" y="484.6" width="167.5" height="167.5" fill="#6d6255"/>
<rect x="1398" y="484.6" width="167.5" height="167.5" fill="url(#pNoise)" opacity="0.35"/>
<rect x="1398" y="484.6" width="167.5" height="167.5" fill="url(#pNoiseD)" opacity="0.35"/>
<circle cx="1488.8" cy="577" r="44.2" fill="url(#gHalo)"/>
<circle cx="1488.8" cy="577" r="34" fill="url(#gNug)" stroke="#1e150d" stroke-width="4.4"/>
<circle cx="1488.8" cy="577" r="24.5" fill="none" stroke="#4e3e28" stroke-width="2.7" opacity="0.7"/>
<circle cx="1488.8" cy="577" r="18.7" fill="none" stroke="#7c684a" stroke-width="2" opacity="0.5"/>
<polyline points="1497.1,585.3 1501.2,590.5 1504.3,594.5 1507.9,594.9 1514.5,597.5 1520.7,601.4" fill="none" stroke="#e8e0cc" stroke-width="1.7" stroke-linejoin="round" stroke-linecap="round" opacity="0.9"/>
<polyline points="1504.3,593.9 1509.4,594.1 1512.5,593.6 1516.2,593.5 1518.8,589 1521,587.6" fill="none" stroke="#e8e0cc" stroke-width="1.7" stroke-linejoin="round" stroke-linecap="round" opacity="0.9"/>
<polyline points="1507.2,600.7 1511.1,601.9 1510.3,604.9 1513.1,608 1513.7,611.4 1513.9,613.9" fill="none" stroke="#e8e0cc" stroke-width="1.7" stroke-linejoin="round" stroke-linecap="round" opacity="0.9"/>
<polyline points="1517.7,595.7 1519.8,599 1518.6,598.6 1522.6,601.1 1523.7,600.4 1527.7,602" fill="none" stroke="#e8e0cc" stroke-width="1.7" stroke-linejoin="round" stroke-linecap="round" opacity="0.9"/>
<polyline points="1480.4,583.7 1481.9,585.3 1484.9,590.5 1487.3,592.8 1488.3,596.3 1494.2,599.3" fill="none" stroke="#e8e0cc" stroke-width="1.7" stroke-linejoin="round" stroke-linecap="round" opacity="0.9"/>
<polyline points="1499.2,603.7 1495.5,604.5 1495,602.6 1489.1,603.3 1488.3,605 1485.3,602.3" fill="none" stroke="#e8e0cc" stroke-width="1.7" stroke-linejoin="round" stroke-linecap="round" opacity="0.9"/>
</g>
<g clip-path="url(#c8)">
<circle cx="1482.3" cy="567" r="20" fill="none" stroke="#f0c4a4" stroke-width="3.4"/>
<line x1="1480.5" y1="568.8" x2="1460" y2="531.8" stroke="#8ccfe8" stroke-width="4.4" />
<polygon points="1452.7,518.7 1464.5,529.3 1455.4,534.3" fill="#8ccfe8"/>
<line x1="1480.5" y1="568.8" x2="1517.2" y2="546.9" stroke="#c9e6a0" stroke-width="4.6" />
<polygon points="1530.5,539 1519.8,551.4 1514.5,542.5" fill="#c9e6a0"/>
</g>
<g clip-path="url(#c9)">
<rect x="1159" y="613.3" width="166.8" height="166.8" fill="#6d6255"/>
<rect x="1159" y="613.3" width="166.8" height="166.8" fill="url(#pNoise)" opacity="0.35"/>
<rect x="1159" y="613.3" width="166.8" height="166.8" fill="url(#pNoiseD)" opacity="0.35"/>
<circle cx="1246" cy="707.4" r="46.8" fill="url(#gHalo)"/>
<circle cx="1246" cy="707.4" r="36" fill="url(#gNug)" stroke="#1e150d" stroke-width="4.7"/>
<circle cx="1246" cy="707.4" r="25.9" fill="none" stroke="#4e3e28" stroke-width="2.9" opacity="0.7"/>
<circle cx="1246" cy="707.4" r="19.8" fill="none" stroke="#7c684a" stroke-width="2.2" opacity="0.5"/>
<polyline points="1254.5,716.3 1259.5,720 1262.6,725.9 1266.8,726.4 1273.4,732.1 1279.9,735.2" fill="none" stroke="#e8e0cc" stroke-width="1.8" stroke-linejoin="round" stroke-linecap="round" opacity="0.9"/>
<polyline points="1265.9,727.2 1269.2,724 1269.3,724.4 1272.8,723.9 1277.6,721.5 1281.7,720.3" fill="none" stroke="#e8e0cc" stroke-width="1.8" stroke-linejoin="round" stroke-linecap="round" opacity="0.9"/>
<polyline points="1266.8,732.1 1270.2,736.9 1268.5,739.2 1272.9,740.3 1272.2,741.4 1273.2,745.2" fill="none" stroke="#e8e0cc" stroke-width="1.8" stroke-linejoin="round" stroke-linecap="round" opacity="0.9"/>
<polyline points="1275.3,727 1279,729.8 1278.7,731.7 1281.6,731.1 1284.3,730 1285.8,732.2" fill="none" stroke="#e8e0cc" stroke-width="1.8" stroke-linejoin="round" stroke-linecap="round" opacity="0.9"/>
<polyline points="1237.2,716.4 1237.1,717.4 1239.3,720.1 1245.2,725 1246.6,725.3 1248.3,729.5" fill="none" stroke="#e8e0cc" stroke-width="1.8" stroke-linejoin="round" stroke-linecap="round" opacity="0.9"/>
<polyline points="1258.6,732.8 1255.1,732.7 1249.7,733.9 1249,734.7 1244.7,736.4 1240.7,737.2" fill="none" stroke="#e8e0cc" stroke-width="1.8" stroke-linejoin="round" stroke-linecap="round" opacity="0.9"/>
</g>
<g clip-path="url(#c10)">
<circle cx="1242.7" cy="697.2" r="20" fill="none" stroke="#f0c4a4" stroke-width="3.4"/>
<line x1="1242" y1="697.2" x2="1242" y2="651.5" stroke="#8ccfe8" stroke-width="4.4" />
<polygon points="1242,636.5 1247.2,651.5 1236.8,651.5" fill="#8ccfe8"/>
<line x1="1242" y1="697.2" x2="1286.5" y2="697.2" stroke="#c9e6a0" stroke-width="4.6" />
<polygon points="1302,697.2 1286.5,702.4 1286.5,692" fill="#c9e6a0"/>
</g>
<g clip-path="url(#c11)">
<rect x="920" y="741.2" width="167.5" height="167.5" fill="#6d6255"/>
<rect x="920" y="741.2" width="167.5" height="167.5" fill="url(#pNoise)" opacity="0.35"/>
<rect x="920" y="741.2" width="167.5" height="167.5" fill="url(#pNoiseD)" opacity="0.35"/>
<circle cx="1007.5" cy="836.8" r="57.9" fill="url(#gHalo)"/>
<circle cx="1007.5" cy="836.8" r="44.5" fill="url(#gNug)" stroke="#1e150d" stroke-width="5.8"/>
<circle cx="1007.5" cy="836.8" r="32" fill="none" stroke="#4e3e28" stroke-width="3.6" opacity="0.7"/>
<circle cx="1007.5" cy="836.8" r="24.5" fill="none" stroke="#7c684a" stroke-width="2.7" opacity="0.5"/>
<polyline points="1014.4,850.2 1021.3,852.5 1029,857.8 1034.4,861.7 1041.5,864.4 1046,870.9" fill="none" stroke="#e8e0cc" stroke-width="2.2" stroke-linejoin="round" stroke-linecap="round" opacity="0.9"/>
<polyline points="1030.5,861.4 1035.6,860.1 1039.7,856.3 1043.1,857.6 1047.9,853.2 1048.8,854.6" fill="none" stroke="#e8e0cc" stroke-width="2.2" stroke-linejoin="round" stroke-linecap="round" opacity="0.9"/>
<polyline points="1032.7,870.6 1037.6,869.1 1035.5,875.4 1036.9,875.1 1041.3,880 1042.4,881.5" fill="none" stroke="#e8e0cc" stroke-width="2.2" stroke-linejoin="round" stroke-linecap="round" opacity="0.9"/>
<polyline points="1042.6,864.5 1043.2,862.8 1049.4,867.5 1053.6,864.1 1053.8,868.4 1056.5,868.9" fill="none" stroke="#e8e0cc" stroke-width="2.2" stroke-linejoin="round" stroke-linecap="round" opacity="0.9"/>
<polyline points="992.5,843.4 995.6,846.8 1001.5,852.9 1005.2,854.5 1006.7,858.4 1013.8,866.1" fill="none" stroke="#e8e0cc" stroke-width="2.2" stroke-linejoin="round" stroke-linecap="round" opacity="0.9"/>
<polyline points="1023.1,868 1015,873 1013.5,872.5 1009.2,871.3 1006.7,871.6 1003.6,869.8" fill="none" stroke="#e8e0cc" stroke-width="2.2" stroke-linejoin="round" stroke-linecap="round" opacity="0.9"/>
</g>
<g clip-path="url(#c12)">
<circle cx="1003.9" cy="826.6" r="24.5" fill="none" stroke="#f0c4a4" stroke-width="3.4"/>
<line x1="1003" y1="825" x2="1003" y2="769.2" stroke="#8ccfe8" stroke-width="4.4" />
<polygon points="1003,754.2 1008.2,769.2 997.8,769.2" fill="#8ccfe8"/>
<line x1="1003" y1="825" x2="1058.8" y2="825" stroke="#c9e6a0" stroke-width="4.6" />
<polygon points="1074.3,825 1058.8,830.2 1058.8,819.8" fill="#c9e6a0"/>
</g>
<g clip-path="url(#c13)">
<rect x="1398" y="741.2" width="167.5" height="167.5" fill="#6d6255"/>
<rect x="1398" y="741.2" width="167.5" height="167.5" fill="url(#pNoise)" opacity="0.35"/>
<rect x="1398" y="741.2" width="167.5" height="167.5" fill="url(#pNoiseD)" opacity="0.35"/>
<circle cx="1476.7" cy="835.8" r="49.4" fill="url(#gHalo)"/>
<circle cx="1476.7" cy="835.8" r="38" fill="url(#gNug)" stroke="#1e150d" stroke-width="4.9"/>
<circle cx="1476.7" cy="835.8" r="27.4" fill="none" stroke="#4e3e28" stroke-width="3" opacity="0.7"/>
<circle cx="1476.7" cy="835.8" r="20.9" fill="none" stroke="#7c684a" stroke-width="2.3" opacity="0.5"/>
<polyline points="1470,848.8 1462.3,850.4 1459.6,853.6 1451.7,855.9 1447.9,858.7 1444.3,865.7" fill="none" stroke="#e8e0cc" stroke-width="1.9" stroke-linejoin="round" stroke-linecap="round" opacity="0.9"/>
<polyline points="1458.6,858.3 1454.9,854.7 1451.3,853.7 1449.6,853.5 1442.9,852.5 1441.7,850.4" fill="none" stroke="#e8e0cc" stroke-width="1.9" stroke-linejoin="round" stroke-linecap="round" opacity="0.9"/>
<polyline points="1455.3,862 1454.6,866.8 1452.5,868.9 1451.7,870 1450.4,871.1 1447.5,875.6" fill="none" stroke="#e8e0cc" stroke-width="1.9" stroke-linejoin="round" stroke-linecap="round" opacity="0.9"/>
<polyline points="1444.1,857.9 1444.7,859.9 1440.5,862.1 1440.2,860.1 1437.9,862 1435.1,861.9" fill="none" stroke="#e8e0cc" stroke-width="1.9" stroke-linejoin="round" stroke-linecap="round" opacity="0.9"/>
<polyline points="1490.4,844 1486,847.6 1484.2,847.3 1479.5,853.6 1474.8,855.1 1470.9,857.2" fill="none" stroke="#e8e0cc" stroke-width="1.9" stroke-linejoin="round" stroke-linecap="round" opacity="0.9"/>
<polyline points="1464.7,862.5 1467.2,866.5 1471.6,865.1 1476.6,865.7 1479.7,866.4 1481.9,864.3" fill="none" stroke="#e8e0cc" stroke-width="1.9" stroke-linejoin="round" stroke-linecap="round" opacity="0.9"/>
</g>
<g clip-path="url(#c14)">
<circle cx="1475.8" cy="824.7" r="20" fill="none" stroke="#f0c4a4" stroke-width="3.4"/>
<line x1="1481.6" y1="825" x2="1481.6" y2="782.2" stroke="#8ccfe8" stroke-width="4.4" />
<polygon points="1481.6,767.2 1486.8,782.2 1476.4,782.2" fill="#8ccfe8"/>
<line x1="1481.6" y1="825" x2="1438.5" y2="825" stroke="#c9e6a0" stroke-width="4.6" />
<polygon points="1423,825 1438.5,819.8 1438.5,830.2" fill="#c9e6a0"/>
</g>
<line x1="1159" y1="653.3" x2="1101.2" y2="621.2" stroke="#3a3a3a" stroke-width="4.5" />
<polygon points="1089,614.4 1105.1,614.2 1097.4,628.2" fill="#3a3a3a"/>
<line x1="1325.8" y1="653.3" x2="1384.7" y2="621.1" stroke="#3a3a3a" stroke-width="4.5" />
<polygon points="1397,614.4 1388.5,628.1 1380.9,614.1" fill="#3a3a3a"/>
<line x1="1159" y1="739.4" x2="1101.1" y2="773" stroke="#3a3a3a" stroke-width="4.5" />
<polygon points="1089,780 1097.1,766.1 1105.1,779.9" fill="#3a3a3a"/>
<line x1="1325.8" y1="739.4" x2="1384.8" y2="773.1" stroke="#3a3a3a" stroke-width="4.5" />
<polygon points="1397,780 1380.9,780 1388.8,766.1" fill="#3a3a3a"/>
<polyline points="1110,522.4 1106,522.4 1106,580 1110,580" fill="none" stroke="#000" stroke-width="1.3" />
<polyline points="1135,522.4 1139,522.4 1139,580 1135,580" fill="none" stroke="#000" stroke-width="1.3" />
<text x="1116" y="542" font-size="18" font-style="italic">t</text>
<text x="1121.5" y="546" font-size="11" font-style="italic">x</text>
<text x="1116" y="572.5" font-size="18" font-style="italic">t</text>
<text x="1121.5" y="577" font-size="11" font-style="italic">y</text>
<polyline points="1228,522.4 1224,522.4 1224,580 1228,580" fill="none" stroke="#000" stroke-width="1.3" />
<polyline points="1373.7,522.4 1377.7,522.4 1377.7,580 1373.7,580" fill="none" stroke="#000" stroke-width="1.3" />
<text x="1233" y="542" font-size="18" textLength="52" lengthAdjust="spacingAndGlyphs">cos(<tspan font-style="italic">θ</tspan>)</text>
<text x="1305" y="542" font-size="18" textLength="65" lengthAdjust="spacingAndGlyphs">−sin(<tspan font-style="italic">θ</tspan>)</text>
<text x="1234" y="572.5" font-size="18" textLength="48" lengthAdjust="spacingAndGlyphs">sin(<tspan font-style="italic">θ</tspan>)</text>
<text x="1310" y="572.5" font-size="18" textLength="52" lengthAdjust="spacingAndGlyphs">cos(<tspan font-style="italic">θ</tspan>)</text>
<text x="1118.8" y="602" font-size="18" textLength="92.8" lengthAdjust="spacingAndGlyphs">Translation</text>
<text x="1285" y="602" font-size="18" textLength="69.4" lengthAdjust="spacingAndGlyphs">Rotation</text>
<text x="1134.4" y="803.6" font-size="18" textLength="60.5" lengthAdjust="spacingAndGlyphs">Scaling</text>
<text x="1285.8" y="803.6" font-size="18" textLength="69.7" lengthAdjust="spacingAndGlyphs">Flipping</text>
<polyline points="1111,812.8 1107,812.8 1107,870.3 1111,870.3" fill="none" stroke="#000" stroke-width="1.3" />
<polyline points="1175,812.8 1179,812.8 1179,870.3 1175,870.3" fill="none" stroke="#000" stroke-width="1.3" />
<text x="1116" y="829" font-size="18" font-style="italic">s</text>
<text x="1123" y="833" font-size="11" font-style="italic">x</text>
<text x="1152" y="862" font-size="18" font-style="italic">s</text>
<text x="1159" y="866" font-size="11" font-style="italic">y</text>
<polyline points="1305.3,812.8 1301.3,812.8 1301.3,870.3 1305.3,870.3" fill="none" stroke="#000" stroke-width="1.3" />
<polyline points="1373,812.8 1377,812.8 1377,870.3 1373,870.3" fill="none" stroke="#000" stroke-width="1.3" />
<text x="1310" y="829" font-size="18" font-style="italic">f</text>
<text x="1316" y="833" font-size="11" font-style="italic">y</text>
<text x="1353" y="862" font-size="18" font-style="italic">f</text>
<text x="1359" y="866" font-size="11" font-style="italic">x</text>
<path d="M259.1,743 V612" fill="none" stroke="#6b6b6b" stroke-width="8.4"/>
<path d="M259.1,612 C255,600 248,592 235,592 L186,592 Q175,592 175,603 L175,723 Q175,734 186,734 L236,734 C243,740 250,743 259.1,743" fill="none" stroke="#6b6b6b" stroke-width="8.4" stroke-linejoin="round"/>
<path d="M259.1,612 C263,600 270,592 283,592 L332,592 Q343,592 343,603 L343,723 Q343,734 332,734 L282,734 C275,740 268,743 259.1,743" fill="none" stroke="#6b6b6b" stroke-width="8.4" stroke-linejoin="round"/>
<path d="M515.3,591.9 H501 Q480.3,591.9 480.3,613 V722 Q480.3,743.3 501,743.3 H607 Q627.8,743.3 627.8,722 V613 Q627.8,591.9 607,591.9 H593.4" fill="none" stroke="#6b6b6b" stroke-width="8.4" stroke-linecap="round"/>
<rect x="530.4" y="588" width="47.3" height="12" fill="#6b6b6b" rx="6"/>
<polygon points="513,692.6 528.3,688.9 518.8,678" fill="#6b6b6b"/>
<polygon points="531.5,686.5 566.2,656.3 556.4,645 521.7,675.1" fill="#6b6b6b"/>
<polygon points="569.3,653.7 582.9,641.8 583.3,636.8 578.1,630.7 573,630.5 559.4,642.3" fill="#6b6b6b"/>
<line x1="547" y1="684.5" x2="595" y2="684.5" stroke="#6b6b6b" stroke-width="7.5" stroke-linecap="round"/>
<line x1="517" y1="703.8" x2="595" y2="703.8" stroke="#6b6b6b" stroke-width="7.5" stroke-linecap="round"/>
<text x="125.5" y="801.1" font-size="58" textLength="266.9" lengthAdjust="spacingAndGlyphs">Training set</text>
<text x="468.5" y="801.1" font-size="58" textLength="174.1" lengthAdjust="spacingAndGlyphs">Test set</text>
<polygon points="739,695.6 776.6,618.8 776.6,657.3 817.9,657.3 817.9,735.4 776.6,735.4 776.6,774.6" fill="#c0c0c0"/>
<g clip-path="url(#c15)">
<polyline points="121.4,1572.5 126.4,1462.8 131.3,1445.1 136.3,1441.6 141.2,1427.4 146.2,1399.1 151.1,1388.5 156.1,1374.3 161,1374.3 166,1367.2 170.9,1381.4 175.9,1367.2 180.8,1365.8 185.8,1406.2 190.7,1374.3 195.7,1350.9 200.6,1388.5 205.6,1370.8 210.5,1374.3 215.5,1411.8 220.4,1342.4 225.4,1346 230.3,1363.7 235.3,1333.9 240.2,1377.8 245.2,1353.1 250.1,1367.2 255.1,1399.1 260,1367.2 265,1367.2 269.9,1335.4 274.9,1374.3 279.8,1353.1 284.8,1358.7 289.7,1333.9 294.7,1337.5 299.6,1349.5 304.6,1333.9 309.5,1358 314.5,1360.1 319.4,1363.7 324.4,1351.6 329.3,1330.4 334.3,1336.1 339.2,1365.1 344.2,1363.7 349.1,1372.2 354.1,1333.9 359,1346 363.9,1343.1 368.9,1328.3 373.8,1337.5 378.8,1324.7 383.7,1326.2 388.7,1330.4 393.6,1360.1 398.6,1327.6 403.5,1328.3 408.5,1329.7 413.4,1326.9 418.4,1323.3 423.3,1324.7 428.3,1397 433.2,1326.2 438.2,1333.2 443.1,1326.9 448.1,1333.9 453,1324.7 458,1326.2 462.9,1323.3 467.9,1351.6 472.8,1326.2 477.8,1325.4 482.7,1330.4 487.7,1322.6 492.6,1317 497.6,1324.7 502.5,1321.9 507.5,1326.2 512.4,1324.7 517.4,1323.3 522.3,1321.2 527.3,1322.6 532.2,1316.2 537.2,1319.1 542.1,1323.3 547.1,1317.7 552,1321.2 557,1330.4 561.9,1324.7 566.9,1317 571.8,1323.3 576.8,1323.3 581.7,1319.1 586.7,1313.4 591.6,1318.4 596.6,1321.2 601.5,1324 606.5,1316.2 611.4,1318.4" fill="none" stroke="#b39cf2" stroke-width="3.6" stroke-linejoin="round"/>
<polyline points="121.4,1537.1 126.4,1487.6 131.3,1466.3 136.3,1455.7 141.2,1473.4 146.2,1455.7 151.1,1452.2 156.1,1446.5 161,1453.6 166,1450.8 170.9,1438 175.9,1443 180.8,1425.3 185.8,1439.4 190.7,1418.2 195.7,1430.9 200.6,1430.9 205.6,1443 210.5,1422.4 215.5,1426 220.4,1426 225.4,1425.3 230.3,1421.7 235.3,1416.8 240.2,1439.4 245.2,1423.9 250.1,1414.7 255.1,1409.7 260,1411.8 265,1412.5 269.9,1411.8 274.9,1420.3 279.8,1415.4 284.8,1414.7 289.7,1418.9 294.7,1415.4 299.6,1416.8 304.6,1407.6 309.5,1415.4 314.5,1418.2 319.4,1413.2 324.4,1402.6 329.3,1399.1 334.3,1400.5 339.2,1401.9 344.2,1411.1 349.1,1408.3 354.1,1388.5 359,1402.6 363.9,1399.1 368.9,1404 373.8,1394.1 378.8,1424.6 383.7,1399.1 388.7,1411.1 393.6,1397 398.6,1404 403.5,1397 408.5,1408.3 413.4,1402.6 418.4,1398.4 423.3,1397 428.3,1395.5 433.2,1400.5 438.2,1404 443.1,1399.1 448.1,1402.6 453,1397 458,1394.1 462.9,1402.6 467.9,1389.9 472.8,1392 477.8,1397.7 482.7,1394.1 487.7,1402.6 492.6,1391.3 497.6,1404 502.5,1390.6 507.5,1391.3 512.4,1395.5 517.4,1394.1 522.3,1387 527.3,1394.8 532.2,1394.1 537.2,1388.5 542.1,1397 547.1,1388.5 552,1392.7 557,1384.9 561.9,1408.3 566.9,1393.4 571.8,1395.5 576.8,1397 581.7,1391.3 586.7,1398.4 591.6,1395.5 596.6,1386.3 601.5,1396.2 606.5,1392.7 611.4,1386.3" fill="none" stroke="#c84d7a" stroke-width="3.6" stroke-linejoin="round"/>
</g>
<rect x="116.5" y="1267" width="498.7" height="356" fill="none" stroke="#555" stroke-width="2.6"/>
<line x1="109.5" y1="1586.7" x2="116.5" y2="1586.7" stroke="#555" stroke-width="2" />
<text x="108.4" y="1597.7" font-size="32" text-anchor="end" textLength="40.7" lengthAdjust="spacingAndGlyphs">0.4</text>
<line x1="109.5" y1="1515.9" x2="116.5" y2="1515.9" stroke="#555" stroke-width="2" />
<text x="108.4" y="1526.9" font-size="32" text-anchor="end" textLength="40.7" lengthAdjust="spacingAndGlyphs">0.5</text>
<line x1="109.5" y1="1445.1" x2="116.5" y2="1445.1" stroke="#555" stroke-width="2" />
<text x="108.4" y="1456.1" font-size="32" text-anchor="end" textLength="40.7" lengthAdjust="spacingAndGlyphs">0.6</text>
<line x1="109.5" y1="1374.3" x2="116.5" y2="1374.3" stroke="#555" stroke-width="2" />
<text x="108.4" y="1385.3" font-size="32" text-anchor="end" textLength="40.7" lengthAdjust="spacingAndGlyphs">0.7</text>
<line x1="109.5" y1="1303.5" x2="116.5" y2="1303.5" stroke="#555" stroke-width="2" />
<text x="108.4" y="1314.5" font-size="32" text-anchor="end" textLength="40.7" lengthAdjust="spacingAndGlyphs">0.8</text>
<line x1="112.5" y1="1551.3" x2="116.5" y2="1551.3" stroke="#555" stroke-width="1.6" />
<line x1="112.5" y1="1480.5" x2="116.5" y2="1480.5" stroke="#555" stroke-width="1.6" />
<line x1="112.5" y1="1409.7" x2="116.5" y2="1409.7" stroke="#555" stroke-width="1.6" />
<line x1="112.5" y1="1338.9" x2="116.5" y2="1338.9" stroke="#555" stroke-width="1.6" />
<line x1="116.5" y1="1623" x2="116.5" y2="1630" stroke="#555" stroke-width="2" />
<text x="116.5" y="1652.8" font-size="32" text-anchor="middle">0</text>
<line x1="215.5" y1="1623" x2="215.5" y2="1630" stroke="#555" stroke-width="2" />
<text x="215.5" y="1652.8" font-size="32" text-anchor="middle">20</text>
<line x1="314.5" y1="1623" x2="314.5" y2="1630" stroke="#555" stroke-width="2" />
<text x="314.5" y="1652.8" font-size="32" text-anchor="middle">40</text>
<line x1="413.4" y1="1623" x2="413.4" y2="1630" stroke="#555" stroke-width="2" />
<text x="413.4" y="1652.8" font-size="32" text-anchor="middle">60</text>
<line x1="512.4" y1="1623" x2="512.4" y2="1630" stroke="#555" stroke-width="2" />
<text x="512.4" y="1652.8" font-size="32" text-anchor="middle">80</text>
<line x1="611.4" y1="1623" x2="611.4" y2="1630" stroke="#555" stroke-width="2" />
<text x="611.4" y="1652.8" font-size="32" text-anchor="middle">100</text>
<line x1="166" y1="1623" x2="166" y2="1627" stroke="#555" stroke-width="1.6" />
<line x1="265" y1="1623" x2="265" y2="1627" stroke="#555" stroke-width="1.6" />
<line x1="363.9" y1="1623" x2="363.9" y2="1627" stroke="#555" stroke-width="1.6" />
<line x1="462.9" y1="1623" x2="462.9" y2="1627" stroke="#555" stroke-width="1.6" />
<line x1="561.9" y1="1623" x2="561.9" y2="1627" stroke="#555" stroke-width="1.6" />
<text x="365.8" y="1682.6" font-size="32" text-anchor="middle" textLength="83.6" lengthAdjust="spacingAndGlyphs">Epoch</text>
<text x="57.5" y="1444" font-size="32" text-anchor="middle" textLength="119.3" lengthAdjust="spacingAndGlyphs" transform="rotate(-90 57.5 1444)">Accuracy</text>
<line x1="412" y1="1506.5" x2="487.8" y2="1506.5" stroke="#c84d7a" stroke-width="4.5" />
<line x1="412" y1="1546" x2="487.8" y2="1546" stroke="#b39cf2" stroke-width="4.5" />
<text x="497.6" y="1517.5" font-size="32" textLength="57" lengthAdjust="spacingAndGlyphs">train</text>
<text x="497.6" y="1557" font-size="32" textLength="45" lengthAdjust="spacingAndGlyphs">test</text>
<text x="170.7" y="1826.3" font-size="62" textLength="371.5" lengthAdjust="spacingAndGlyphs">Model training</text>
<polygon points="633,1436.5 672,1436.5 672,1398 711,1475.3 672,1552.6 672,1514.1 633,1514.1" fill="#bfbfbf"/>
<text x="745.5" y="1322.4" font-size="19" text-anchor="middle" textLength="62.7" lengthAdjust="spacingAndGlyphs" transform="rotate(-90 745.5 1322.4)">Modal 1</text>
<text x="745.5" y="1476.3" font-size="19" text-anchor="middle" textLength="64.6" lengthAdjust="spacingAndGlyphs" transform="rotate(-90 745.5 1476.3)">Modal 2</text>
<text x="745.5" y="1631.1" font-size="19" text-anchor="middle" textLength="63.6" lengthAdjust="spacingAndGlyphs" transform="rotate(-90 745.5 1631.1)">Modal 3</text>
<rect x="758.7" y="1277.2" width="85.3" height="87.4" fill="url(#gIR)"/>
<g clip-path="url(#c16)">
<rect x="757" y="1386" width="87" height="88" fill="#5f5449"/>
<rect x="757" y="1386" width="87" height="88" fill="url(#pNoise)" opacity="0.35"/>
<rect x="757" y="1386" width="87" height="88" fill="url(#pNoiseD)" opacity="0.35"/>
<circle cx="802" cy="1432" r="39" fill="url(#gHalo)"/>
<circle cx="802" cy="1432" r="30" fill="url(#gNug)" stroke="#1e150d" stroke-width="3.9"/>
<circle cx="802" cy="1432" r="21.6" fill="none" stroke="#4e3e28" stroke-width="2.4" opacity="0.7"/>
<circle cx="802" cy="1432" r="16.5" fill="none" stroke="#7c684a" stroke-width="1.8" opacity="0.5"/>
<polygon points="814.4,1433.5 813.8,1438.5 809,1440.4 806.2,1445.3 801.4,1442.5 797,1441.6 795.1,1437.5 793,1433.5 793.7,1428.8 798,1426.6 800.8,1421.7 805.8,1423.5 810.1,1425.2 813.3,1428.8" fill="#a89e92" opacity="0.85"/>
<polygon points="808.6,1432.6 807.9,1435.1 806.7,1437.8 804,1438.9 801.3,1438.3 798.4,1437.9 797.3,1435.1 797.4,1432.6 797.4,1430.1 799.3,1428.5 801.4,1427.2 804.1,1425.9 806.4,1427.9 809.1,1429.5" fill="#cfc8be" opacity="0.8"/>
<polyline points="780.4,1418.4 785.5,1425.5 786.4,1429.3 791.8,1431.6 798,1434.7 800.6,1441.1" fill="none" stroke="#e8e0cc" stroke-width="1.5" stroke-linejoin="round" stroke-linecap="round" opacity="0.9"/>
<polyline points="795.3,1409.4 797.4,1416 797.3,1418.9 798.5,1425.5 798.2,1429.5 800.6,1435.1" fill="none" stroke="#e8e0cc" stroke-width="1.5" stroke-linejoin="round" stroke-linecap="round" opacity="0.9"/>
</g>
<g clip-path="url(#c17)">
<rect x="757" y="1479.6" width="87" height="87.4" fill="#665749"/>
<rect x="757" y="1479.6" width="87" height="87.4" fill="url(#pNoise)" opacity="0.35"/>
<rect x="757" y="1479.6" width="87" height="87.4" fill="url(#pNoiseD)" opacity="0.35"/>
<circle cx="801" cy="1518" r="20.8" fill="url(#gHalo)"/>
<circle cx="801" cy="1518" r="16" fill="url(#gNug)" stroke="#1e150d" stroke-width="2.1"/>
<circle cx="801" cy="1518" r="11.5" fill="none" stroke="#4e3e28" stroke-width="1.3" opacity="0.7"/>
<circle cx="801" cy="1518" r="8.8" fill="none" stroke="#7c684a" stroke-width="1" opacity="0.5"/>
<polygon points="806.5,1518.8 806.4,1521 804.7,1522.5 802.8,1523.1 800.7,1523.6 798.9,1522.4 797.1,1521.1 796.9,1518.8 796.7,1516.4 798.3,1514.5 800.6,1513.7 802.8,1514.5 804.4,1515.6 806.7,1516.4" fill="#a89e92" opacity="0.85"/>
<polygon points="804.5,1518.3 804,1519.6 803,1520.5 801.9,1520.9 800.6,1521.3 799.5,1520.6 798.6,1519.6 798.3,1518.3 798.5,1517 799.7,1516.3 800.7,1515.8 802.1,1515 803.4,1515.7 804.3,1516.9" fill="#cfc8be" opacity="0.8"/>
</g>
<rect x="756" y="1627" width="71.5" height="48.5" fill="#fff"/>
<rect x="759" y="1630" width="65.5" height="42.5" fill="url(#tblpat2)"/>
<rect x="756" y="1627" width="71.5" height="48.5" fill="none" stroke="#8a7a30" stroke-width="1.3" rx="1.5"/>
<rect x="760.3" y="1616.7" width="71.5" height="48.5" fill="#fff"/>
<rect x="763.3" y="1619.7" width="65.5" height="42.5" fill="url(#tblpat2)"/>
<rect x="760.3" y="1616.7" width="71.5" height="48.5" fill="none" stroke="#c0b060" stroke-width="1.3" rx="1.5"/>
<rect x="764.6" y="1606.4" width="71.5" height="48.5" fill="#fff"/>
<rect x="767.6" y="1609.4" width="65.5" height="42.5" fill="url(#tblpat2)"/>
<rect x="764.6" y="1606.4" width="71.5" height="48.5" fill="none" stroke="#bcb0b4" stroke-width="1.3" rx="1.5"/>
<rect x="768.9" y="1596.1" width="71.5" height="48.5" fill="#fff"/>
<rect x="771.9" y="1599.1" width="65.5" height="42.5" fill="url(#tblpat2)"/>
<rect x="768.9" y="1596.1" width="71.5" height="48.5" fill="none" stroke="#706060" stroke-width="1.3" rx="1.5"/>
<rect x="773.2" y="1585.8" width="71.5" height="48.5" fill="#fff"/>
<rect x="776.2" y="1588.8" width="65.5" height="42.5" fill="url(#tblpat2)"/>
<rect x="773.2" y="1585.8" width="71.5" height="48.5" fill="none" stroke="#d890a8" stroke-width="1.3" rx="1.5"/>
<polygon points="855,1298.8 880,1314.8 898,1314.8 898,1307.8 911,1320.8 898,1333.8 898,1326.8 880,1326.8 855,1342.8" fill="url(#gFB)"/>
<polygon points="855,1453.7 880,1469.7 898,1469.7 898,1462.7 911,1475.7 898,1488.7 898,1481.7 880,1481.7 855,1497.7" fill="url(#gFO)"/>
<polygon points="855,1608.6 880,1624.6 898,1624.6 898,1617.6 911,1630.6 898,1643.6 898,1636.6 880,1636.6 855,1652.6" fill="url(#gFG)"/>
<rect x="917.8" y="1255" width="264.8" height="134.3" fill="none" stroke="#000" stroke-width="2.4" rx="15" stroke-dasharray="9,5.5"/>
<rect x="917.8" y="1409.4" width="264.8" height="134.4" fill="none" stroke="#000" stroke-width="2.4" rx="15" stroke-dasharray="9,5.5"/>
<rect x="917.8" y="1563.9" width="264.8" height="134.3" fill="none" stroke="#000" stroke-width="2.4" rx="15" stroke-dasharray="9,5.5"/>
<polygon points="931.6,1292 935.5,1289.5 935.5,1336.5 931.6,1339" fill="#efe9a6" stroke="#777" stroke-width="0.6"/>
<polygon points="935.5,1289.5 957.7,1273.3 957.7,1322 935.5,1336.5" fill="url(#gIRv)"/>
<polygon points="931.6,1330 957.7,1330 955.5,1334 955.5,1338 931.6,1340" fill="#9a9a9a" opacity="0.7"/>
<polygon points="955.5,1292.2 976.6,1277.2 999.9,1277.2 978.8,1292.2" fill="#a9d4e6" stroke="#2b6b80" stroke-width="1.3"/>
<polygon points="978.8,1292.2 999.9,1277.2 999.9,1322.7 978.8,1337.7" fill="#8cc4da" stroke="#2b6b80" stroke-width="1.3"/>
<rect x="955.5" y="1292.2" width="23.3" height="45.5" fill="#a9d4e6" stroke="#2b6b80" stroke-width="1.3"/>
<rect x="955.5" y="1332" width="23.3" height="5.7" fill="#aab0b4"/>
<polygon points="978.8,1337.7 999.9,1322.6 1000,1326 980,1340" fill="#555"/>
<polygon points="999.9,1304.4 1009.3,1296.6 1033.8,1296.6 1024.4,1304.4" fill="#f9c9a3" stroke="#c8641e" stroke-width="1.3"/>
<polygon points="1024.4,1304.4 1033.8,1296.6 1033.8,1317.7 1024.4,1325.5" fill="#f0b080" stroke="#c8641e" stroke-width="1.3"/>
<rect x="999.9" y="1304.4" width="24.5" height="21.1" fill="#f9c9a3" stroke="#c8641e" stroke-width="1.3"/>
<rect x="999.9" y="1317" width="24.5" height="5" fill="#c0b8b0"/>
<polygon points="1024.4,1322 1043.2,1318 1043.2,1322 1024.4,1326" fill="#555"/>
<polygon points="1043.2,1305.5 1051,1300 1099.9,1300 1092.1,1305.5" fill="#a9d4e6" stroke="#2b6b80" stroke-width="1.3"/>
<polygon points="1092.1,1305.5 1099.9,1300 1099.9,1317.8 1092.1,1323.3" fill="#8cc4da" stroke="#2b6b80" stroke-width="1.3"/>
<rect x="1043.2" y="1305.5" width="48.9" height="17.8" fill="#a9d4e6" stroke="#2b6b80" stroke-width="1.3"/>
<rect x="1043.2" y="1318.5" width="48.9" height="4.8" fill="#9aa4aa"/>
<polygon points="1092.1,1322 1111.5,1316 1111.5,1319.4 1092.1,1325" fill="#555"/>
<polygon points="1111.5,1308.5 1113.7,1307 1163.7,1307 1161.5,1308.5" fill="#f9c9a3" stroke="#c8641e" stroke-width="1.2"/>
<polygon points="1161.5,1308.5 1163.7,1307 1163.7,1317.9 1161.5,1319.4" fill="#f0b080" stroke="#c8641e" stroke-width="1.2"/>
<rect x="1111.5" y="1308.5" width="50" height="10.9" fill="#f9c9a3" stroke="#c8641e" stroke-width="1.2"/>
<rect x="1112" y="1309.5" width="49" height="2" fill="#e8a070"/>
<text x="928.3" y="1346.6" font-size="8.5" fill="#222" font-weight="bold" textLength="17" lengthAdjust="spacingAndGlyphs">3×45²</text>
<text x="958.3" y="1344.4" font-size="8.5" fill="#222" font-weight="bold" textLength="21" lengthAdjust="spacingAndGlyphs">16×41²</text>
<text x="1003.3" y="1332.7" font-size="8.5" fill="#222" font-weight="bold" textLength="22" lengthAdjust="spacingAndGlyphs">16×20²</text>
<text x="1059.9" y="1330.5" font-size="8.5" fill="#222" font-weight="bold" textLength="23" lengthAdjust="spacingAndGlyphs">32×16²</text>
<text x="1126.5" y="1326.6" font-size="8.5" fill="#222" font-weight="bold" textLength="18" lengthAdjust="spacingAndGlyphs">32×8²</text>
<text x="932.8" y="1268.3" font-size="10" fill="#8a9264" font-weight="bold" textLength="23.8" lengthAdjust="spacingAndGlyphs">Input</text>
<polygon points="1017.1,1264 1020.1,1261.6 1031.5,1261.6 1028.5,1264" fill="#a9d4e6" stroke="#2b6b80" stroke-width="1.4"/>
<polygon points="1028.5,1264 1031.5,1261.6 1031.5,1269.2 1028.5,1271.6" fill="#8cc4da" stroke="#2b6b80" stroke-width="1.4"/>
<rect x="1017.1" y="1264" width="11.4" height="7.6" fill="#a9d4e6" stroke="#2b6b80" stroke-width="1.4"/>
<polygon points="1017.1,1278 1020.1,1275.6 1031.5,1275.6 1028.5,1278" fill="#f9c9a3" stroke="#c8641e" stroke-width="1.4"/>
<polygon points="1028.5,1278 1031.5,1275.6 1031.5,1283.1 1028.5,1285.5" fill="#f0b080" stroke="#c8641e" stroke-width="1.4"/>
<rect x="1017.1" y="1278" width="11.4" height="7.5" fill="#f9c9a3" stroke="#c8641e" stroke-width="1.4"/>
<text x="1037.7" y="1271" font-size="10.5" fill="#333" font-weight="bold" textLength="92.7" lengthAdjust="spacingAndGlyphs">Convolution+ReLU</text>
<text x="1037.7" y="1284.4" font-size="10.5" fill="#333" font-weight="bold" textLength="60" lengthAdjust="spacingAndGlyphs">Max pooling</text>
<polyline points="1163.7,1313.5 1176.5,1313.5 1176.5,1382 1151.5,1382" fill="none" stroke="#666" stroke-width="1.6" />
<text x="1166" y="1352" font-size="7.5" fill="#222" font-weight="bold" text-anchor="middle" textLength="55" lengthAdjust="spacingAndGlyphs" transform="rotate(90 1166 1352)">Global average pooling</text>
<ellipse cx="1037.7" cy="1349.9" rx="6.8" ry="4.9" fill="#a6c4f4" stroke="#3a78e0" stroke-width="1.6"/>
<text x="1027.7" y="1353.7" font-size="11.5" fill="#222" font-weight="bold" text-anchor="end">Good</text>
<line x1="1044.5" y1="1349.9" x2="1059.3" y2="1349.9" stroke="#555" stroke-width="1.6" />
<line x1="1076.5" y1="1349.9" x2="1091" y2="1349.9" stroke="#555" stroke-width="1.6" />
<ellipse cx="1097.6" cy="1349.9" rx="6" ry="4.8" fill="#cab8e6" stroke="#9a84c8" stroke-width="1.3"/>
<polygon points="1104,1345.9 1137,1342.9 1137,1356.9 1104,1353.9" fill="#b0b0b0" opacity="0.55"/>
<ellipse cx="1037.7" cy="1363.2" rx="6.8" ry="4.9" fill="#f4a0a8" stroke="#e03848" stroke-width="1.6"/>
<text x="1027.7" y="1367" font-size="11.5" fill="#222" font-weight="bold" text-anchor="end">Bad</text>
<line x1="1044.5" y1="1363.2" x2="1059.3" y2="1363.2" stroke="#555" stroke-width="1.6" />
<line x1="1076.5" y1="1363.2" x2="1091" y2="1363.2" stroke="#555" stroke-width="1.6" />
<ellipse cx="1097.6" cy="1363.2" rx="6" ry="4.8" fill="#cab8e6" stroke="#9a84c8" stroke-width="1.3"/>
<polygon points="1104,1359.2 1137,1356.2 1137,1370.2 1104,1367.2" fill="#b0b0b0" opacity="0.55"/>
<ellipse cx="1037.7" cy="1376.6" rx="6.8" ry="4.9" fill="#f8e090" stroke="#f0b820" stroke-width="1.6"/>
<text x="1027.7" y="1380.4" font-size="11.5" fill="#222" font-weight="bold" text-anchor="end">Explode</text>
<line x1="1044.5" y1="1376.6" x2="1059.3" y2="1376.6" stroke="#555" stroke-width="1.6" />
<line x1="1076.5" y1="1376.6" x2="1091" y2="1376.6" stroke="#555" stroke-width="1.6" />
<ellipse cx="1097.6" cy="1376.6" rx="6" ry="4.8" fill="#cab8e6" stroke="#9a84c8" stroke-width="1.3"/>
<polygon points="1104,1372.6 1137,1369.6 1137,1383.6 1104,1380.6" fill="#b0b0b0" opacity="0.55"/>
<rect x="1059.3" y="1343.3" width="17.2" height="39.9" fill="#f9c9a3" stroke="#f0a060" stroke-width="1.3" rx="2.5"/>
<text x="1072" y="1363.2" font-size="10" fill="#444" text-anchor="middle" textLength="33" lengthAdjust="spacingAndGlyphs" transform="rotate(-90 1072 1363.2)">Softmax</text>
<rect x="1139" y="1344" width="11.5" height="4" fill="#8a7420" stroke="#5c4a10" stroke-width="0.6"/>
<rect x="1139" y="1349.5" width="11.5" height="4" fill="#8a7420" stroke="#5c4a10" stroke-width="0.6"/>
<rect x="1139" y="1355" width="11.5" height="4" fill="#8a7420" stroke="#5c4a10" stroke-width="0.6"/>
<rect x="1139" y="1360.5" width="11.5" height="4" fill="#8a7420" stroke="#5c4a10" stroke-width="0.6"/>
<rect x="1139" y="1366" width="11.5" height="4" fill="#8a7420" stroke="#5c4a10" stroke-width="0.6"/>
<rect x="1139" y="1371.5" width="11.5" height="4" fill="#8a7420" stroke="#5c4a10" stroke-width="0.6"/>
<rect x="1139" y="1377" width="11.5" height="4" fill="#8a7420" stroke="#5c4a10" stroke-width="0.6"/>
<text x="1084.9" y="1342.7" font-size="8.5" fill="#222" font-weight="bold" textLength="51" lengthAdjust="spacingAndGlyphs">Fully connected</text>
<text x="1140" y="1342" font-size="9" fill="#222" font-weight="bold">32</text>
<rect x="923.3" y="1412.8" width="100.5" height="126.5" fill="#d2e9f8" stroke="#7ab2d2" stroke-width="1.2" rx="4"/>
<rect x="926.1" y="1421.7" width="41.6" height="42.7" fill="#cfe6f6" stroke="#9a72c8" stroke-width="1.8" rx="3"/>
<rect x="970.5" y="1421.7" width="47.2" height="42.7" fill="#d8e8f0" stroke="#9a72c8" stroke-width="1.8" rx="3"/>
<rect x="949.5" y="1425.7" width="15.5" height="6" fill="#f2aaa2" stroke="#e08c84" stroke-width="0.6" rx="1.2"/>
<rect x="972.5" y="1424.2" width="19.5" height="5" fill="#bfe8a0" rx="1.2"/>
<rect x="996" y="1427.2" width="19" height="5" fill="#f8cba8" rx="1.2"/>
<line x1="956" y1="1426.7" x2="1009" y2="1426.7" stroke="#000" stroke-width="1.3" />
<rect x="949.5" y="1434.1" width="15.5" height="6" fill="#f2aaa2" stroke="#e08c84" stroke-width="0.6" rx="1.2"/>
<rect x="972.5" y="1432.6" width="19.5" height="5" fill="#bfe8a0" rx="1.2"/>
<rect x="996" y="1435.6" width="19" height="5" fill="#f8cba8" rx="1.2"/>
<line x1="956" y1="1435.1" x2="1009" y2="1435.1" stroke="#000" stroke-width="1.3" />
<rect x="949.5" y="1442.5" width="15.5" height="6" fill="#f2aaa2" stroke="#e08c84" stroke-width="0.6" rx="1.2"/>
<rect x="972.5" y="1441" width="19.5" height="5" fill="#bfe8a0" rx="1.2"/>
<rect x="996" y="1444" width="19" height="5" fill="#f8cba8" rx="1.2"/>
<line x1="956" y1="1443.5" x2="1009" y2="1443.5" stroke="#000" stroke-width="1.3" />
<rect x="949.5" y="1450.9" width="15.5" height="6" fill="#f2aaa2" stroke="#e08c84" stroke-width="0.6" rx="1.2"/>
<rect x="972.5" y="1449.4" width="19.5" height="5" fill="#bfe8a0" rx="1.2"/>
<rect x="996" y="1452.4" width="19" height="5" fill="#f8cba8" rx="1.2"/>
<line x1="956" y1="1451.9" x2="1009" y2="1451.9" stroke="#000" stroke-width="1.3" />
<rect x="949.5" y="1459.3" width="15.5" height="6" fill="#f2aaa2" stroke="#e08c84" stroke-width="0.6" rx="1.2"/>
<rect x="972.5" y="1457.8" width="19.5" height="5" fill="#bfe8a0" rx="1.2"/>
<rect x="996" y="1460.8" width="19" height="5" fill="#f8cba8" rx="1.2"/>
<line x1="956" y1="1460.3" x2="1009" y2="1460.3" stroke="#000" stroke-width="1.3" />
<rect x="928" y="1447.7" width="18" height="6" fill="#bfe8a0" rx="1.2"/>
<rect x="928" y="1455.7" width="18" height="6" fill="#a8d0f0" stroke="#7ab0e0" stroke-width="0.6" rx="2.5"/>
<polyline points="923.3,1441.2 936,1441.2 936,1451.7" fill="none" stroke="#000" stroke-width="1.6" />
<line x1="936" y1="1462.7" x2="958" y2="1462.7" stroke="#000" stroke-width="1.6" />
<polyline points="1006,1463.7 1019,1463.7 1019,1441.7 1035,1441.7" fill="none" stroke="#000" stroke-width="1.6" />
<polygon points="1039.3,1441.7 1034,1439.2 1034,1444.2" fill="#000"/>
<rect x="926.1" y="1488.8" width="41.6" height="42.7" fill="#cfe6f6" stroke="#9a72c8" stroke-width="1.8" rx="3"/>
<rect x="970.5" y="1488.8" width="47.2" height="42.7" fill="#d8e8f0" stroke="#9a72c8" stroke-width="1.8" rx="3"/>
<rect x="949.5" y="1492.8" width="15.5" height="6" fill="#f2aaa2" stroke="#e08c84" stroke-width="0.6" rx="1.2"/>
<rect x="972.5" y="1491.3" width="19.5" height="5" fill="#bfe8a0" rx="1.2"/>
<rect x="996" y="1494.3" width="19" height="5" fill="#f8cba8" rx="1.2"/>
<line x1="956" y1="1493.8" x2="1009" y2="1493.8" stroke="#000" stroke-width="1.3" />
<rect x="949.5" y="1501.2" width="15.5" height="6" fill="#f2aaa2" stroke="#e08c84" stroke-width="0.6" rx="1.2"/>
<rect x="972.5" y="1499.7" width="19.5" height="5" fill="#bfe8a0" rx="1.2"/>
<rect x="996" y="1502.7" width="19" height="5" fill="#f8cba8" rx="1.2"/>
<line x1="956" y1="1502.2" x2="1009" y2="1502.2" stroke="#000" stroke-width="1.3" />
<rect x="949.5" y="1509.6" width="15.5" height="6" fill="#f2aaa2" stroke="#e08c84" stroke-width="0.6" rx="1.2"/>
<rect x="972.5" y="1508.1" width="19.5" height="5" fill="#bfe8a0" rx="1.2"/>
<rect x="996" y="1511.1" width="19" height="5" fill="#f8cba8" rx="1.2"/>
<line x1="956" y1="1510.6" x2="1009" y2="1510.6" stroke="#000" stroke-width="1.3" />
<rect x="949.5" y="1518" width="15.5" height="6" fill="#f2aaa2" stroke="#e08c84" stroke-width="0.6" rx="1.2"/>
<rect x="972.5" y="1516.5" width="19.5" height="5" fill="#bfe8a0" rx="1.2"/>
<rect x="996" y="1519.5" width="19" height="5" fill="#f8cba8" rx="1.2"/>
<line x1="956" y1="1519" x2="1009" y2="1519" stroke="#000" stroke-width="1.3" />
<rect x="949.5" y="1526.4" width="15.5" height="6" fill="#f2aaa2" stroke="#e08c84" stroke-width="0.6" rx="1.2"/>
<rect x="972.5" y="1524.9" width="19.5" height="5" fill="#bfe8a0" rx="1.2"/>
<rect x="996" y="1527.9" width="19" height="5" fill="#f8cba8" rx="1.2"/>
<line x1="956" y1="1527.4" x2="1009" y2="1527.4" stroke="#000" stroke-width="1.3" />
<rect x="928" y="1514.8" width="18" height="6" fill="#bfe8a0" rx="1.2"/>
<rect x="928" y="1522.8" width="18" height="6" fill="#a8d0f0" stroke="#7ab0e0" stroke-width="0.6" rx="2.5"/>
<polyline points="923.3,1508.3 936,1508.3 936,1518.8" fill="none" stroke="#000" stroke-width="1.6" />
<line x1="936" y1="1529.8" x2="958" y2="1529.8" stroke="#000" stroke-width="1.6" />
<polyline points="1006,1530.8 1019,1530.8 1019,1508.8 1035,1508.8" fill="none" stroke="#000" stroke-width="1.6" />
<polygon points="1039.3,1508.8 1034,1506.3 1034,1511.3" fill="#000"/>
<rect x="949" y="1470" width="7" height="14" fill="url(#gWS)"/>
<text x="961.6" y="1478.3" font-size="9.5" fill="#4a8aa0" textLength="46.7" lengthAdjust="spacingAndGlyphs">Weight sharing</text>
<rect x="1039.3" y="1416.7" width="13.9" height="52.7" fill="#e4f8a8" stroke="#c2e05c" stroke-width="1.4" rx="4"/>
<text x="1049.5" y="1443.1" font-size="9.5" fill="#333" text-anchor="middle" textLength="33" lengthAdjust="spacingAndGlyphs" transform="rotate(-90 1049.5 1443.1)">256 features</text>
<rect x="1039.3" y="1483.8" width="13.9" height="52.2" fill="#e4f8a8" stroke="#c2e05c" stroke-width="1.4" rx="4"/>
<text x="1049.5" y="1509.9" font-size="9.5" fill="#333" text-anchor="middle" textLength="33" lengthAdjust="spacingAndGlyphs" transform="rotate(-90 1049.5 1509.9)">256 features</text>
<rect x="1065.4" y="1451.6" width="13.9" height="49.4" fill="#c8c8c8" stroke="#666" stroke-width="1.4" rx="4"/>
<text x="1075.5" y="1476.3" font-size="9" fill="#444" text-anchor="middle" textLength="34" lengthAdjust="spacingAndGlyphs" transform="rotate(-90 1075.5 1476.3)">Concatenate</text>
<polyline points="1053.2,1442 1072.3,1442 1072.3,1451.6" fill="none" stroke="#000" stroke-width="1.6" />
<polyline points="1053.2,1510 1072.3,1510 1072.3,1501" fill="none" stroke="#000" stroke-width="1.6" />
<polyline points="1079.3,1476.5 1096,1476.5 1096,1430 1133,1430 1133,1442.7" fill="none" stroke="#000" stroke-width="1.6" />
<rect x="1088.8" y="1412.2" width="88.8" height="128.3" fill="none" stroke="#b07a24" stroke-width="1.8" rx="7" stroke-dasharray="5,3.5"/>
<text x="1132.8" y="1421.7" font-size="9.5" fill="#a08040" text-anchor="middle" textLength="30.5" lengthAdjust="spacingAndGlyphs">Classifier</text>
<rect x="1104.3" y="1442.7" width="57.2" height="12.3" fill="#fce6a0" stroke="#f0c860" stroke-width="1.4" rx="3"/>
<text x="1132.9" y="1452.5" font-size="9.5" fill="#333" text-anchor="middle" textLength="43" lengthAdjust="spacingAndGlyphs">FC (512, 512)</text>
<line x1="1133" y1="1455" x2="1133" y2="1471.6" stroke="#000" stroke-width="1.6" />
<text x="1138" y="1464.4" font-size="9" fill="#555" textLength="17.5" lengthAdjust="spacingAndGlyphs">ReLu</text>
<rect x="1104.3" y="1471.6" width="57.2" height="12.2" fill="#fce6a0" stroke="#f0c860" stroke-width="1.4" rx="3"/>
<text x="1132.9" y="1481.3" font-size="9.5" fill="#333" text-anchor="middle" textLength="37" lengthAdjust="spacingAndGlyphs">FC (512, N)</text>
<line x1="1133" y1="1483.8" x2="1133" y2="1495.5" stroke="#000" stroke-width="1.6" />
<rect x="1104.3" y="1495.5" width="57.2" height="11.6" fill="#f9ba8c" stroke="#f09050" stroke-width="1.4" rx="3"/>
<text x="1132.9" y="1504.8" font-size="9.5" fill="#333" text-anchor="middle" textLength="26" lengthAdjust="spacingAndGlyphs">Softmax</text>
<line x1="1118.1" y1="1507.1" x2="1117.6" y2="1515.5" stroke="#000" stroke-width="1.8" />
<circle cx="1117.6" cy="1522.1" r="5.4" fill="#a6c4f4" stroke="#3a78e0" stroke-width="1.6"/>
<line x1="1133.2" y1="1507.1" x2="1133.2" y2="1515.5" stroke="#000" stroke-width="1.8" />
<circle cx="1133.2" cy="1522.1" r="5.4" fill="#f4a0a8" stroke="#e03848" stroke-width="1.6"/>
<line x1="1147.6" y1="1507.1" x2="1148.1" y2="1515.5" stroke="#000" stroke-width="1.8" />
<circle cx="1148.1" cy="1522.1" r="5.4" fill="#f8e090" stroke="#f0b820" stroke-width="1.6"/>
<text x="1132.8" y="1534.3" font-size="10" fill="#444" text-anchor="middle" textLength="28" lengthAdjust="spacingAndGlyphs">Outputs</text>
<ellipse cx="1046" cy="1575" rx="6.1" ry="5" fill="#f9caa2" stroke="#f0a868" stroke-width="1.3"/>
<text x="1058.2" y="1577.8" font-size="10.5" fill="#c08848" font-weight="bold" textLength="48.8" lengthAdjust="spacingAndGlyphs">FC+ReLU</text>
<ellipse cx="1136.5" cy="1575" rx="6.1" ry="5" fill="#d0c4e6" stroke="#a494cc" stroke-width="1.3"/>
<text x="1148.7" y="1577.8" font-size="10.5" fill="#8878b8" font-weight="bold" textLength="13" lengthAdjust="spacingAndGlyphs">FC</text>
<text x="930" y="1592.8" font-size="10.5" fill="#4a8a98" font-weight="bold" textLength="28.9" lengthAdjust="spacingAndGlyphs">Inputs</text>
<line x1="952" y1="1610" x2="978.8" y2="1602.2" stroke="#4a4a4a" stroke-width="1.5" />
<line x1="952" y1="1610" x2="978.8" y2="1627.2" stroke="#4a4a4a" stroke-width="1.5" />
<line x1="952" y1="1610" x2="978.8" y2="1677.1" stroke="#4a4a4a" stroke-width="1.5" />
<line x1="952" y1="1630" x2="978.8" y2="1602.2" stroke="#4a4a4a" stroke-width="1.5" />
<line x1="952" y1="1630" x2="978.8" y2="1627.2" stroke="#4a4a4a" stroke-width="1.5" />
<line x1="952" y1="1630" x2="978.8" y2="1677.1" stroke="#4a4a4a" stroke-width="1.5" />
<line x1="952" y1="1670" x2="978.8" y2="1602.2" stroke="#4a4a4a" stroke-width="1.5" />
<line x1="952" y1="1670" x2="978.8" y2="1627.2" stroke="#4a4a4a" stroke-width="1.5" />
<line x1="952" y1="1670" x2="978.8" y2="1677.1" stroke="#4a4a4a" stroke-width="1.5" />
<line x1="989.8" y1="1602.2" x2="1016" y2="1589.4" stroke="#4a4a4a" stroke-width="1.5" />
<line x1="989.8" y1="1602.2" x2="1016" y2="1614.4" stroke="#4a4a4a" stroke-width="1.5" />
<line x1="989.8" y1="1602.2" x2="1016" y2="1639.4" stroke="#4a4a4a" stroke-width="1.5" />
<line x1="989.8" y1="1602.2" x2="1016" y2="1689.3" stroke="#4a4a4a" stroke-width="1.5" />
<line x1="989.8" y1="1627.2" x2="1016" y2="1589.4" stroke="#4a4a4a" stroke-width="1.5" />
<line x1="989.8" y1="1627.2" x2="1016" y2="1614.4" stroke="#4a4a4a" stroke-width="1.5" />
<line x1="989.8" y1="1627.2" x2="1016" y2="1639.4" stroke="#4a4a4a" stroke-width="1.5" />
<line x1="989.8" y1="1627.2" x2="1016" y2="1689.3" stroke="#4a4a4a" stroke-width="1.5" />
<line x1="989.8" y1="1677.1" x2="1016" y2="1589.4" stroke="#4a4a4a" stroke-width="1.5" />
<line x1="989.8" y1="1677.1" x2="1016" y2="1614.4" stroke="#4a4a4a" stroke-width="1.5" />
<line x1="989.8" y1="1677.1" x2="1016" y2="1639.4" stroke="#4a4a4a" stroke-width="1.5" />
<line x1="989.8" y1="1677.1" x2="1016" y2="1689.3" stroke="#4a4a4a" stroke-width="1.5" />
<line x1="1027" y1="1589.4" x2="1062.7" y2="1614.4" stroke="#4a4a4a" stroke-width="1.5" />
<line x1="1027" y1="1589.4" x2="1062.7" y2="1639.4" stroke="#4a4a4a" stroke-width="1.5" />
<line x1="1027" y1="1589.4" x2="1062.7" y2="1664.4" stroke="#4a4a4a" stroke-width="1.5" />
<line x1="1027" y1="1614.4" x2="1062.7" y2="1614.4" stroke="#4a4a4a" stroke-width="1.5" />
<line x1="1027" y1="1614.4" x2="1062.7" y2="1639.4" stroke="#4a4a4a" stroke-width="1.5" />
<line x1="1027" y1="1614.4" x2="1062.7" y2="1664.4" stroke="#4a4a4a" stroke-width="1.5" />
<line x1="1027" y1="1639.4" x2="1062.7" y2="1614.4" stroke="#4a4a4a" stroke-width="1.5" />
<line x1="1027" y1="1639.4" x2="1062.7" y2="1639.4" stroke="#4a4a4a" stroke-width="1.5" />
<line x1="1027" y1="1639.4" x2="1062.7" y2="1664.4" stroke="#4a4a4a" stroke-width="1.5" />
<line x1="1027" y1="1689.3" x2="1062.7" y2="1614.4" stroke="#4a4a4a" stroke-width="1.5" />
<line x1="1027" y1="1689.3" x2="1062.7" y2="1639.4" stroke="#4a4a4a" stroke-width="1.5" />
<line x1="1027" y1="1689.3" x2="1062.7" y2="1664.4" stroke="#4a4a4a" stroke-width="1.5" />
<rect x="1054.3" y="1590" width="118.3" height="99.9" fill="none" stroke="#3a8090" stroke-width="1.8" rx="6" stroke-dasharray="5,3.5"/>
<text x="1093.2" y="1598.9" font-size="10.5" fill="#2a6a78" font-weight="bold" textLength="44.4" lengthAdjust="spacingAndGlyphs">Classifier</text>
<rect x="933.9" y="1604.5" width="18.3" height="11" fill="#a8d8e2" stroke="#74bccc" stroke-width="1.2" rx="1.5"/>
<text x="939.5" y="1613" font-size="10" fill="#223" font-weight="bold" font-style="italic">x<tspan font-size="6" dy="2">1</tspan></text>
<rect x="933.9" y="1624.5" width="18.3" height="11" fill="#a8d8e2" stroke="#74bccc" stroke-width="1.2" rx="1.5"/>
<text x="939.5" y="1633" font-size="10" fill="#223" font-weight="bold" font-style="italic">x<tspan font-size="6" dy="2">2</tspan></text>
<rect x="933.9" y="1664.5" width="18.3" height="11" fill="#a8d8e2" stroke="#74bccc" stroke-width="1.2" rx="1.5"/>
<text x="939.5" y="1673" font-size="10" fill="#223" font-weight="bold" font-style="italic">x<tspan font-size="6" dy="2">n</tspan></text>
<circle cx="943" cy="1646" r="0.8" fill="#333"/>
<circle cx="943" cy="1648.6" r="0.8" fill="#333"/>
<circle cx="943" cy="1651.2" r="0.8" fill="#333"/>
<circle cx="983.8" cy="1651" r="0.8" fill="#333"/>
<circle cx="983.8" cy="1653.6" r="0.8" fill="#333"/>
<circle cx="983.8" cy="1656.2" r="0.8" fill="#333"/>
<circle cx="1021" cy="1663" r="0.8" fill="#333"/>
<circle cx="1021" cy="1665.6" r="0.8" fill="#333"/>
<circle cx="1021" cy="1668.2" r="0.8" fill="#333"/>
<ellipse cx="983.8" cy="1602.2" rx="6.1" ry="5" fill="#f9caa2" stroke="#f0a868" stroke-width="1.3"/>
<ellipse cx="983.8" cy="1627.2" rx="6.1" ry="5" fill="#f9caa2" stroke="#f0a868" stroke-width="1.3"/>
<ellipse cx="983.8" cy="1677.1" rx="6.1" ry="5" fill="#f9caa2" stroke="#f0a868" stroke-width="1.3"/>
<ellipse cx="1021" cy="1589.4" rx="6.1" ry="5" fill="#f9caa2" stroke="#f0a868" stroke-width="1.3"/>
<ellipse cx="1021" cy="1614.4" rx="6.1" ry="5" fill="#f9caa2" stroke="#f0a868" stroke-width="1.3"/>
<ellipse cx="1021" cy="1639.4" rx="6.1" ry="5" fill="#f9caa2" stroke="#f0a868" stroke-width="1.3"/>
<ellipse cx="1021" cy="1689.3" rx="6.1" ry="5" fill="#f9caa2" stroke="#f0a868" stroke-width="1.3"/>
<ellipse cx="1067.7" cy="1614.4" rx="6" ry="5" fill="#d0c4e6" stroke="#a494cc" stroke-width="1.3"/>
<line x1="1073.7" y1="1614.4" x2="1084.3" y2="1614.4" stroke="#4a4a4a" stroke-width="1.6" />
<ellipse cx="1067.7" cy="1639.4" rx="6" ry="5" fill="#d0c4e6" stroke="#a494cc" stroke-width="1.3"/>
<line x1="1073.7" y1="1639.4" x2="1084.3" y2="1639.4" stroke="#4a4a4a" stroke-width="1.6" />
<ellipse cx="1067.7" cy="1664.4" rx="6" ry="5" fill="#d0c4e6" stroke="#a494cc" stroke-width="1.3"/>
<line x1="1073.7" y1="1664.4" x2="1084.3" y2="1664.4" stroke="#4a4a4a" stroke-width="1.6" />
<rect x="1084.3" y="1608.9" width="17.2" height="62.1" fill="#f9c9a3" stroke="#f0a060" stroke-width="1.3" rx="2.5"/>
<text x="1096" y="1640" font-size="10.5" fill="#444" text-anchor="middle" textLength="30" lengthAdjust="spacingAndGlyphs" transform="rotate(-90 1096 1640)">Softmax</text>
<line x1="1101.5" y1="1614.4" x2="1114" y2="1614.4" stroke="#4a4a4a" stroke-width="1.6" />
<ellipse cx="1121.5" cy="1614.4" rx="6.8" ry="5" fill="#a6c4f4" stroke="#3a78e0" stroke-width="1.6"/>
<text x="1132" y="1618" font-size="11" fill="#222" font-weight="bold">Good</text>
<line x1="1101.5" y1="1639.4" x2="1114" y2="1639.4" stroke="#4a4a4a" stroke-width="1.6" />
<ellipse cx="1121.5" cy="1639.4" rx="6.8" ry="5" fill="#f4a0a8" stroke="#e03848" stroke-width="1.6"/>
<text x="1132" y="1643" font-size="11" fill="#222" font-weight="bold">Bad</text>
<line x1="1101.5" y1="1664.4" x2="1114" y2="1664.4" stroke="#4a4a4a" stroke-width="1.6" />
<ellipse cx="1121.5" cy="1664.4" rx="6.8" ry="5" fill="#f8e090" stroke="#f0b820" stroke-width="1.6"/>
<text x="1132" y="1668" font-size="11" fill="#222" font-weight="bold">Explode</text>
<rect x="1278.9" y="1254.8" width="286.1" height="443.3" fill="none" stroke="#000" stroke-width="2" rx="15" stroke-dasharray="8,5"/>
<rect x="1314.5" y="1305" width="102.1" height="13" fill="#a4a4a4" stroke="#000" stroke-width="1.6"/>
<rect x="1314.5" y="1318" width="30.2" height="18.2" fill="#cfe1f8" stroke="#000" stroke-width="1.6"/>
<rect x="1344.7" y="1318" width="41.2" height="18.2" fill="#f8ccd6" stroke="#000" stroke-width="1.6"/>
<rect x="1386" y="1318" width="30.6" height="18.2" fill="#fdf1d2" stroke="#000" stroke-width="1.6"/>
<text x="1365.5" y="1314.8" font-size="9.5" fill="#222" text-anchor="middle" textLength="96.1" lengthAdjust="spacingAndGlyphs">BPA of modal 1 (m<tspan font-size="6" dy="1.5">1</tspan><tspan dy="-1.5">)</tspan></text>
<rect x="1314.5" y="1356.3" width="102.1" height="13.2" fill="#a4a4a4" stroke="#000" stroke-width="1.6"/>
<rect x="1314.5" y="1369.5" width="30.2" height="18.2" fill="#cfe1f8" stroke="#000" stroke-width="1.6"/>
<rect x="1344.7" y="1369.5" width="41.2" height="18.2" fill="#f8ccd6" stroke="#000" stroke-width="1.6"/>
<rect x="1386" y="1369.5" width="30.6" height="18.2" fill="#fdf1d2" stroke="#000" stroke-width="1.6"/>
<text x="1365.5" y="1366.3" font-size="9.5" fill="#222" text-anchor="middle" textLength="96.1" lengthAdjust="spacingAndGlyphs">BPA of modal 2 (m<tspan font-size="6" dy="1.5">2</tspan><tspan dy="-1.5">)</tspan></text>
<rect x="1314.5" y="1464.8" width="102.1" height="12.5" fill="#a4a4a4" stroke="#000" stroke-width="1.6"/>
<rect x="1314.5" y="1477.3" width="30.2" height="18.1" fill="#cfe1f8" stroke="#000" stroke-width="1.6"/>
<rect x="1344.7" y="1477.3" width="41.2" height="18.1" fill="#f8ccd6" stroke="#000" stroke-width="1.6"/>
<rect x="1386" y="1477.3" width="30.6" height="18.1" fill="#fdf1d2" stroke="#000" stroke-width="1.6"/>
<text x="1365.5" y="1474.1" font-size="9.5" fill="#222" text-anchor="middle" textLength="96.1" lengthAdjust="spacingAndGlyphs">BPA of modal 3 (m<tspan font-size="6" dy="1.5">3</tspan><tspan dy="-1.5">)</tspan></text>
<rect x="1426.5" y="1414.7" width="102.9" height="12.5" fill="#a4a4a4" stroke="#000" stroke-width="1.6"/>
<rect x="1426.5" y="1427.2" width="30.5" height="18.8" fill="#cfe1f8" stroke="#000" stroke-width="1.6"/>
<rect x="1457" y="1427.2" width="41.6" height="18.8" fill="#f8ccd6" stroke="#000" stroke-width="1.6"/>
<rect x="1498.5" y="1427.2" width="30.9" height="18.8" fill="#fdf1d2" stroke="#000" stroke-width="1.6"/>
<text x="1478" y="1424" font-size="8.5" fill="#222" text-anchor="middle">m<tspan font-size="6" dy="1.5">12</tspan></text>
<rect x="1370.5" y="1535.6" width="102.2" height="12.6" fill="#a4a4a4" stroke="#000" stroke-width="1.6"/>
<rect x="1370.5" y="1548.2" width="30.3" height="18.1" fill="#cfe1f8" stroke="#000" stroke-width="1.6"/>
<rect x="1400.8" y="1548.2" width="41.3" height="18.1" fill="#f8ccd6" stroke="#000" stroke-width="1.6"/>
<rect x="1442" y="1548.2" width="30.7" height="18.1" fill="#fdf1d2" stroke="#000" stroke-width="1.6"/>
<text x="1421.6" y="1545" font-size="8.5" fill="#222" text-anchor="middle">m<tspan font-size="6" dy="1.5">123</tspan></text>
<polyline points="1416.6,1326.5 1478.3,1326.5 1478.3,1369.2" fill="none" stroke="#000" stroke-width="1.6" />
<polygon points="1478.3,1369.2 1474.5,1362.2 1482.1,1362.2" fill="#000"/>
<polyline points="1416.6,1378.4 1469.1,1378.4" fill="none" stroke="#000" stroke-width="1.6" />
<polygon points="1469.1,1378.4 1462.1,1382.2 1462.1,1374.6" fill="#000"/>
<polyline points="1478.3,1387.6 1478.3,1414.7" fill="none" stroke="#000" stroke-width="1.6" />
<polygon points="1478.3,1414.7 1474.5,1407.7 1482.1,1407.7" fill="#000"/>
<polyline points="1478.3,1446 1478.3,1477.3" fill="none" stroke="#000" stroke-width="1.6" />
<polygon points="1478.3,1477.3 1474.5,1470.3 1482.1,1470.3" fill="#000"/>
<polyline points="1416.6,1486.5 1469.1,1486.5" fill="none" stroke="#000" stroke-width="1.6" />
<polygon points="1469.1,1486.5 1462.1,1490.3 1462.1,1482.7" fill="#000"/>
<polyline points="1478.3,1495.7 1478.3,1515 1421.6,1515 1421.6,1535.6" fill="none" stroke="#000" stroke-width="1.6" />
<polygon points="1421.6,1535.6 1417.8,1528.6 1425.4,1528.6" fill="#000"/>
<circle cx="1478.3" cy="1378.4" r="9.2" fill="#fff" stroke="#000" stroke-width="1.8"/>
<line x1="1469.1" y1="1378.4" x2="1487.5" y2="1378.4" stroke="#000" stroke-width="1.6" />
<line x1="1478.3" y1="1369.2" x2="1478.3" y2="1387.6" stroke="#000" stroke-width="1.6" />
<circle cx="1478.3" cy="1486.5" r="9.2" fill="#fff" stroke="#000" stroke-width="1.8"/>
<line x1="1469.1" y1="1486.5" x2="1487.5" y2="1486.5" stroke="#000" stroke-width="1.6" />
<line x1="1478.3" y1="1477.3" x2="1478.3" y2="1495.7" stroke="#000" stroke-width="1.6" />
<text x="1496.4" y="1373.5" font-size="17.5" textLength="37" lengthAdjust="spacingAndGlyphs">First</text>
<text x="1496.4" y="1391.6" font-size="17.5" textLength="44.6" lengthAdjust="spacingAndGlyphs">fusion</text>
<text x="1492.5" y="1482.3" font-size="17.5" textLength="52.5" lengthAdjust="spacingAndGlyphs">Second</text>
<text x="1496.4" y="1500.4" font-size="17.5" textLength="44.6" lengthAdjust="spacingAndGlyphs">fusion</text>
<polyline points="1386,1566.3 1365.6,1592.7" fill="none" stroke="#000" stroke-width="1.8" />
<polygon points="1365.6,1592.7 1366.7,1584.7 1373,1589.6" fill="#000"/>
<circle cx="1365.6" cy="1603.2" r="10.5" fill="#a8c8f8" stroke="#3a80e8" stroke-width="2"/>
<text x="1346.4" y="1630" font-size="17.5" textLength="38.9" lengthAdjust="spacingAndGlyphs">Good</text>
<polyline points="1421.6,1566.3 1422.3,1592.7" fill="none" stroke="#000" stroke-width="1.8" />
<polygon points="1422.3,1592.7 1418.1,1585.8 1426.1,1585.6" fill="#000"/>
<circle cx="1422.3" cy="1603.2" r="10.5" fill="#f6a0a8" stroke="#e84050" stroke-width="2"/>
<text x="1408.4" y="1630" font-size="17.5" textLength="27.6" lengthAdjust="spacingAndGlyphs">Bad</text>
<polyline points="1458,1566.3 1477.6,1592.7" fill="none" stroke="#000" stroke-width="1.8" />
<polygon points="1477.6,1592.7 1470.2,1589.5 1476.6,1584.7" fill="#000"/>
<circle cx="1477.6" cy="1603.2" r="10.5" fill="#fcdc90" stroke="#f8c040" stroke-width="2"/>
<text x="1449.6" y="1630" font-size="17.5" textLength="59.4" lengthAdjust="spacingAndGlyphs">Explode</text>
<text x="1319.4" y="1671.8" font-size="19" textLength="204.4" lengthAdjust="spacingAndGlyphs">Information fusion by DST</text>
<polygon points="1190,1296 1255,1315 1290,1316 1290,1311 1304.6,1321.7 1290,1332 1290,1327 1255,1328 1190,1345" fill="url(#gIA1)"/>
<path d="M1195,1440 Q1250,1440 1287,1402 L1282,1397 L1304.6,1395 L1299,1414 L1294,1409 Q1255,1455 1195,1470 Z" fill="url(#gIA2)"/>
<path d="M1195,1600 Q1250,1550 1287,1509 L1282,1504 L1304.6,1502.7 L1299,1522 L1294,1516 Q1255,1570 1195,1640 Z" fill="url(#gIA3)"/>
<text x="881.8" y="1788.7" font-size="62" textLength="470.5" lengthAdjust="spacingAndGlyphs">Multimodal fusion</text>
<text x="982.1" y="1862.3" font-size="62" textLength="266.9" lengthAdjust="spacingAndGlyphs">using DST</text>
<text x="1886.8" y="601.1" font-size="63" textLength="164.3" lengthAdjust="spacingAndGlyphs">Model</text>
<text x="1838.7" y="672.6" font-size="63" textLength="262.6" lengthAdjust="spacingAndGlyphs">evaluation</text>
<text x="1886.8" y="1420.3" font-size="63" textLength="164.3" lengthAdjust="spacingAndGlyphs">Model</text>
<text x="1802.2" y="1496" font-size="63" textLength="336.9" lengthAdjust="spacingAndGlyphs">interpretation</text>
<polygon points="1910.6,872.6 1969.7,917.3 2028.8,872.6 2028.8,922 1969.7,965.4 1910.6,922" fill="#7a7a7a"/>
<polygon points="1910.6,981.3 1969.7,1026 2028.8,981.3 2028.8,1030.7 1969.7,1074.1 1910.6,1030.7" fill="#7a7a7a"/>
<polygon points="1910.6,1090 1969.7,1134.7 2028.8,1090 2028.8,1139.4 1969.7,1182.8 1910.6,1139.4" fill="#7a7a7a"/>
<rect x="2167" y="248" width="1061" height="740.7" fill="none" stroke="#000" stroke-width="4" rx="45" stroke-dasharray="27,14"/>
<rect x="2167" y="1027.7" width="1061.5" height="818" fill="none" stroke="#000" stroke-width="4" rx="45" stroke-dasharray="27,14"/>
<g transform="translate(0 20.7) scale(1 0.953)">
<circle cx="2395.3" cy="439.6" r="65.2" fill="none" stroke="#6a6a6a" stroke-width="1.8" stroke-dasharray="4.5,3.5"/>
<circle cx="2395.3" cy="439.6" r="87.4" fill="none" stroke="#6a6a6a" stroke-width="1.8" stroke-dasharray="4.5,3.5"/>
<circle cx="2395.3" cy="439.6" r="109.6" fill="none" stroke="#6a6a6a" stroke-width="1.8" stroke-dasharray="4.5,3.5"/>
<circle cx="2395.3" cy="439.6" r="131.8" fill="none" stroke="#6a6a6a" stroke-width="1.8" stroke-dasharray="4.5,3.5"/>
<circle cx="2395.3" cy="439.6" r="154" fill="none" stroke="#6a6a6a" stroke-width="1.8" stroke-dasharray="4.5,3.5"/>
<path d="M2442.1,423 L2536.5,389.6 A149.8,149.8 0 0 0 2514.1,348.4 L2434.7,409.4 A49.6,49.6 0 0 1 2442.1,423 Z" fill="#69a1f7"/>
<text x="2548" y="361.2" font-size="14.5" fill="#5a94ee" font-weight="bold" text-anchor="middle" textLength="35" lengthAdjust="spacingAndGlyphs" transform="rotate(-28.5 2548 356.7)">0.981</text>
<path d="M2433,407.4 L2509.7,341.9 A150.4,150.4 0 0 0 2473.9,311.3 L2421.2,397.3 A49.6,49.6 0 0 1 2433,407.4 Z" fill="#f86666"/>
<text x="2508.6" y="311.4" font-size="14.5" fill="#ef5a5a" font-weight="bold" text-anchor="middle" textLength="35" lengthAdjust="spacingAndGlyphs" transform="rotate(-49.5 2508.6 306.9)">0.984</text>
<path d="M2419,396 L2449.2,340.4 A112.9,112.9 0 0 0 2415.9,328.6 L2404.3,390.8 A49.6,49.6 0 0 1 2419,396 Z" fill="#f9c965"/>
<text x="2441" y="315" font-size="14.5" fill="#f2c050" font-weight="bold" text-anchor="middle" textLength="35" lengthAdjust="spacingAndGlyphs" transform="rotate(-70.5 2441 310.5)">0.815</text>
<path d="M2401.8,390.4 L2413.3,303.2 A137.6,137.6 0 0 0 2370.2,304.3 L2386.3,390.8 A49.6,49.6 0 0 1 2401.8,390.4 Z" fill="#5df08f"/>
<text x="2391.1" y="282.6" font-size="14.5" fill="#52e88a" font-weight="bold" text-anchor="middle" textLength="35" lengthAdjust="spacingAndGlyphs" transform="rotate(88.5 2391.1 278.1)">0.926</text>
<path d="M2357.6,407.4 L2314.7,370.7 A106,106 0 0 0 2297.3,399 L2349.5,420.6 A49.6,49.6 0 0 1 2357.6,407.4 Z" fill="#69a1f7"/>
<text x="2284.4" y="376.2" font-size="14.5" fill="#5a94ee" font-weight="bold" text-anchor="middle" textLength="35" lengthAdjust="spacingAndGlyphs" transform="rotate(31.5 2284.4 371.7)">0.784</text>
<path d="M2348.5,423 L2250.1,388.2 A154,154 0 0 0 2241.4,435.6 L2345.7,438.3 A49.6,49.6 0 0 1 2348.5,423 Z" fill="#f86666"/>
<text x="2220.3" y="411.7" font-size="14.5" fill="#ef5a5a" font-weight="bold" text-anchor="middle" textLength="35" lengthAdjust="spacingAndGlyphs" transform="rotate(10.5 2220.3 407.2)">1.000</text>
<path d="M2345.7,440.9 L2246.7,443.5 A148.7,148.7 0 0 0 2255.2,489.2 L2348.5,456.2 A49.6,49.6 0 0 1 2345.7,440.9 Z" fill="#f9c965"/>
<text x="2225.5" y="475.6" font-size="14.5" fill="#f2c050" font-weight="bold" text-anchor="middle" textLength="35" lengthAdjust="spacingAndGlyphs" transform="rotate(-10.5 2225.5 471.1)">0.976</text>
<path d="M2349.5,458.6 L2269.4,491.7 A136.2,136.2 0 0 0 2291.7,528.1 L2357.6,471.8 A49.6,49.6 0 0 1 2349.5,458.6 Z" fill="#5df08f"/>
<text x="2258.7" y="527.8" font-size="14.5" fill="#52e88a" font-weight="bold" text-anchor="middle" textLength="35" lengthAdjust="spacingAndGlyphs" transform="rotate(-31.5 2258.7 523.3)">0.920</text>
<path d="M2386.3,488.4 L2372.5,562.9 A125.4,125.4 0 0 0 2411.7,563.9 L2401.8,488.8 A49.6,49.6 0 0 1 2386.3,488.4 Z" fill="#69a1f7"/>
<text x="2391.4" y="593.4" font-size="14.5" fill="#5a94ee" font-weight="bold" text-anchor="middle" textLength="35" lengthAdjust="spacingAndGlyphs" transform="rotate(-88.5 2391.4 588.9)">0.871</text>
<path d="M2404.3,488.4 L2423,589.3 A152.2,152.2 0 0 0 2467.9,573.4 L2419,483.2 A49.6,49.6 0 0 1 2404.3,488.4 Z" fill="#f86666"/>
<text x="2454.1" y="610.2" font-size="14.5" fill="#ef5a5a" font-weight="bold" text-anchor="middle" textLength="35" lengthAdjust="spacingAndGlyphs" transform="rotate(-289.5 2454.1 605.7)">0.992</text>
<path d="M2421.2,481.9 L2462.8,549.7 A129.1,129.1 0 0 0 2493.5,523.5 L2433,471.8 A49.6,49.6 0 0 1 2421.2,481.9 Z" fill="#f9c965"/>
<text x="2494.8" y="560.5" font-size="14.5" fill="#f2c050" font-weight="bold" text-anchor="middle" textLength="35" lengthAdjust="spacingAndGlyphs" transform="rotate(-310.5 2494.8 556)">0.888</text>
<path d="M2434.7,469.8 L2502.9,522.1 A135.6,135.6 0 0 0 2523.1,484.9 L2442.1,456.2 A49.6,49.6 0 0 1 2434.7,469.8 Z" fill="#5df08f"/>
<text x="2535.5" y="520.2" font-size="14.5" fill="#52e88a" font-weight="bold" text-anchor="middle" textLength="35" lengthAdjust="spacingAndGlyphs" transform="rotate(-331.5 2535.5 515.7)">0.917</text>
<circle cx="2395.3" cy="439.6" r="49.6" fill="#fff" stroke="#333" stroke-width="2.6"/>
<line x1="2445.9" y1="439.6" x2="2550.3" y2="439.6" stroke="#000" stroke-width="2.2" />
<line x1="2460.5" y1="439.6" x2="2460.5" y2="444.6" stroke="#000" stroke-width="1.8" />
<text x="2460.5" y="458.1" font-size="13.5" fill="#111" font-weight="bold" text-anchor="middle" textLength="17" lengthAdjust="spacingAndGlyphs">0.6</text>
<line x1="2482.7" y1="439.6" x2="2482.7" y2="444.6" stroke="#000" stroke-width="1.8" />
<text x="2482.7" y="458.1" font-size="13.5" fill="#111" font-weight="bold" text-anchor="middle" textLength="17" lengthAdjust="spacingAndGlyphs">0.7</text>
<line x1="2504.9" y1="439.6" x2="2504.9" y2="444.6" stroke="#000" stroke-width="1.8" />
<text x="2504.9" y="458.1" font-size="13.5" fill="#111" font-weight="bold" text-anchor="middle" textLength="17" lengthAdjust="spacingAndGlyphs">0.8</text>
<line x1="2527.1" y1="439.6" x2="2527.1" y2="444.6" stroke="#000" stroke-width="1.8" />
<text x="2527.1" y="458.1" font-size="13.5" fill="#111" font-weight="bold" text-anchor="middle" textLength="17" lengthAdjust="spacingAndGlyphs">0.9</text>
<line x1="2549.3" y1="439.6" x2="2549.3" y2="444.6" stroke="#000" stroke-width="1.8" />
<text x="2549.3" y="458.1" font-size="13.5" fill="#111" font-weight="bold" text-anchor="middle" textLength="17" lengthAdjust="spacingAndGlyphs">1.0</text>
</g>
<text x="2408.6" y="422.7" font-size="15.5" fill="#111" text-anchor="middle" textLength="57" lengthAdjust="spacingAndGlyphs" transform="rotate(28.4 2408.6 422.7)">Precision</text>
<text x="2366" y="440" font-size="15.5" fill="#111" text-anchor="middle" textLength="36.3" lengthAdjust="spacingAndGlyphs" transform="rotate(-90 2366 440)">Recall</text>
<text x="2415.5" y="469.8" font-size="15.5" fill="#111" text-anchor="middle" textLength="55.4" lengthAdjust="spacingAndGlyphs" transform="rotate(-30.4 2415.5 469.8)">F1-score</text>
<rect x="2571.5" y="318.3" width="35.7" height="17" fill="#69a1f7"/>
<text x="2619" y="331.9" font-size="15.5" fill="#111">Good</text>
<rect x="2571.5" y="338.5" width="35.7" height="17" fill="#f86666"/>
<text x="2619" y="352.1" font-size="15.5" fill="#111">Bad</text>
<rect x="2571.5" y="358.7" width="35.7" height="17" fill="#f9c965"/>
<text x="2619" y="372.3" font-size="15.5" fill="#111">Explode</text>
<rect x="2571.5" y="378.9" width="35.7" height="17" fill="#5df08f"/>
<text x="2619" y="392.5" font-size="15.5" fill="#111">Macro average</text>
<rect x="2798" y="274.1" width="96.2" height="94.9" fill="#4b8fc8"/>
<text x="2846.1" y="329.6" font-size="23" fill="#111" text-anchor="middle">91</text>
<rect x="2894.2" y="274.1" width="96.2" height="94.9" fill="#e2eff4"/>
<text x="2942.3" y="329.6" font-size="23" fill="#111" text-anchor="middle">7</text>
<rect x="2990.3" y="274.1" width="96.2" height="94.9" fill="#a8cbe3"/>
<text x="3038.4" y="329.6" font-size="23" fill="#111" text-anchor="middle">36</text>
<rect x="2798" y="369" width="96.2" height="94.9" fill="#eef6f8"/>
<text x="2846.1" y="424.4" font-size="23" fill="#111" text-anchor="middle">0</text>
<rect x="2894.2" y="369" width="96.2" height="94.9" fill="#1970bb"/>
<text x="2942.3" y="424.4" font-size="23" fill="#fff" text-anchor="middle">120</text>
<rect x="2990.3" y="369" width="96.2" height="94.9" fill="#eef6f8"/>
<text x="3038.4" y="424.4" font-size="23" fill="#111" text-anchor="middle">0</text>
<rect x="2798" y="463.9" width="96.2" height="94.9" fill="#c5dcea"/>
<text x="2846.1" y="519.4" font-size="23" fill="#111" text-anchor="middle">24</text>
<rect x="2894.2" y="463.9" width="96.2" height="94.9" fill="#d7e8f0"/>
<text x="2942.3" y="519.4" font-size="23" fill="#111" text-anchor="middle">14</text>
<rect x="2990.3" y="463.9" width="96.2" height="94.9" fill="#4f95cb"/>
<text x="3038.4" y="519.4" font-size="23" fill="#111" text-anchor="middle">88</text>
<rect x="2798" y="274.1" width="288.5" height="284.7" fill="none" stroke="#111" stroke-width="2"/>
<rect x="3108.8" y="274.1" width="27.2" height="284.7" fill="url(#gCB)" stroke="#111" stroke-width="2"/>
<line x1="3136" y1="274.1" x2="3142" y2="274.1" stroke="#111" stroke-width="1.8" />
<text x="3150.6" y="282.1" font-size="23" fill="#111">125</text>
<line x1="3136" y1="331" x2="3142" y2="331" stroke="#111" stroke-width="1.8" />
<text x="3150.6" y="339" font-size="23" fill="#111">100</text>
<line x1="3136" y1="388" x2="3142" y2="388" stroke="#111" stroke-width="1.8" />
<text x="3150.6" y="396" font-size="23" fill="#111">75</text>
<line x1="3136" y1="444.9" x2="3142" y2="444.9" stroke="#111" stroke-width="1.8" />
<text x="3150.6" y="452.9" font-size="23" fill="#111">50</text>
<line x1="3136" y1="501.9" x2="3142" y2="501.9" stroke="#111" stroke-width="1.8" />
<text x="3150.6" y="509.9" font-size="23" fill="#111">25</text>
<line x1="3136" y1="558.8" x2="3142" y2="558.8" stroke="#111" stroke-width="1.8" />
<text x="3150.6" y="566.8" font-size="23" fill="#111">0</text>
<text x="2786" y="321.6" font-size="23" fill="#111" text-anchor="middle" transform="rotate(-90 2786 321.6)">Good</text>
<text x="2846.1" y="583" font-size="23" fill="#111" text-anchor="middle">Good</text>
<text x="2786" y="416.4" font-size="23" fill="#111" text-anchor="middle" transform="rotate(-90 2786 416.4)">Bad</text>
<text x="2942.3" y="583" font-size="23" fill="#111" text-anchor="middle">Bad</text>
<text x="2786" y="511.4" font-size="23" fill="#111" text-anchor="middle" transform="rotate(-90 2786 511.4)">Explode</text>
<text x="3038.4" y="583" font-size="23" fill="#111" text-anchor="middle">Explode</text>
<text x="2758.5" y="415" font-size="23" fill="#111" text-anchor="middle" textLength="103" lengthAdjust="spacingAndGlyphs" transform="rotate(-90 2758.5 415)">True label</text>
<text x="2942.4" y="609.6" font-size="23" fill="#111" text-anchor="middle" textLength="150" lengthAdjust="spacingAndGlyphs">Predicted label</text>
<rect x="2256.9" y="793.5" width="22.7" height="148.8" fill="#fbc898" stroke="#111" stroke-width="2.2"/>
<text x="2268.2" y="789.5" font-size="11.5" fill="#333" text-anchor="middle" textLength="22.5" lengthAdjust="spacingAndGlyphs">0.784</text>
<rect x="2284" y="786.5" width="23" height="155.8" fill="#9ed9a1" stroke="#111" stroke-width="2.2"/>
<text x="2295.5" y="782.5" font-size="11.5" fill="#333" text-anchor="middle" textLength="22.5" lengthAdjust="spacingAndGlyphs">0.793</text>
<rect x="2311.7" y="792.7" width="22.8" height="149.6" fill="#c6b1de" stroke="#111" stroke-width="2.2"/>
<text x="2323.1" y="788.7" font-size="11.5" fill="#333" text-anchor="middle" textLength="22.5" lengthAdjust="spacingAndGlyphs">0.785</text>
<text x="2295.3" y="966.3" font-size="15.5" fill="#444" text-anchor="middle">IR</text>
<line x1="2295.3" y1="942.3" x2="2295.3" y2="947.3" stroke="#777" stroke-width="1.6" />
<rect x="2360" y="741.6" width="22.7" height="200.7" fill="#fbc898" stroke="#111" stroke-width="2.2"/>
<text x="2371.3" y="737.6" font-size="11.5" fill="#333" text-anchor="middle" textLength="22.5" lengthAdjust="spacingAndGlyphs">0.851</text>
<rect x="2387.1" y="739.3" width="23" height="203" fill="#9ed9a1" stroke="#111" stroke-width="2.2"/>
<text x="2398.6" y="735.3" font-size="11.5" fill="#333" text-anchor="middle" textLength="22.5" lengthAdjust="spacingAndGlyphs">0.854</text>
<rect x="2414.8" y="740.9" width="22.8" height="201.4" fill="#c6b1de" stroke="#111" stroke-width="2.2"/>
<text x="2426.2" y="736.9" font-size="11.5" fill="#333" text-anchor="middle" textLength="22.5" lengthAdjust="spacingAndGlyphs">0.852</text>
<text x="2398.4" y="966.3" font-size="15.5" fill="#444" text-anchor="middle">RGB</text>
<line x1="2398.4" y1="942.3" x2="2398.4" y2="947.3" stroke="#777" stroke-width="1.6" />
<rect x="2462.6" y="736.2" width="22.7" height="206.1" fill="#fbc898" stroke="#111" stroke-width="2.2"/>
<text x="2473.9" y="732.2" font-size="11.5" fill="#333" text-anchor="middle" textLength="22.5" lengthAdjust="spacingAndGlyphs">0.858</text>
<rect x="2489.7" y="734.7" width="23" height="207.6" fill="#9ed9a1" stroke="#111" stroke-width="2.2"/>
<text x="2501.2" y="730.7" font-size="11.5" fill="#333" text-anchor="middle" textLength="22.5" lengthAdjust="spacingAndGlyphs">0.860</text>
<rect x="2517.4" y="737" width="22.8" height="205.3" fill="#c6b1de" stroke="#111" stroke-width="2.2"/>
<text x="2528.8" y="733" font-size="11.5" fill="#333" text-anchor="middle" textLength="22.5" lengthAdjust="spacingAndGlyphs">0.857</text>
<text x="2501" y="966.3" font-size="15.5" fill="#444" text-anchor="middle">Numerical</text>
<line x1="2501" y1="942.3" x2="2501" y2="947.3" stroke="#777" stroke-width="1.6" />
<rect x="2565.4" y="683.6" width="22.7" height="258.7" fill="#fbc898" stroke="#111" stroke-width="2.2"/>
<text x="2576.8" y="679.6" font-size="11.5" fill="#333" text-anchor="middle" textLength="22.5" lengthAdjust="spacingAndGlyphs">0.926</text>
<rect x="2592.5" y="688.2" width="23" height="254.1" fill="#9ed9a1" stroke="#111" stroke-width="2.2"/>
<text x="2604" y="684.2" font-size="11.5" fill="#333" text-anchor="middle" textLength="22.5" lengthAdjust="spacingAndGlyphs">0.920</text>
<rect x="2620.2" y="690.5" width="22.8" height="251.8" fill="#c6b1de" stroke="#111" stroke-width="2.2"/>
<text x="2631.6" y="686.5" font-size="11.5" fill="#333" text-anchor="middle" textLength="22.5" lengthAdjust="spacingAndGlyphs">0.917</text>
<text x="2603.8" y="966.3" font-size="15.5" fill="#444" text-anchor="middle">EMNet</text>
<line x1="2603.8" y1="942.3" x2="2603.8" y2="947.3" stroke="#777" stroke-width="1.6" />
<rect x="2245.1" y="882.6" width="408.9" height="4.4" fill="#fff"/>
<polyline points="2295.3,791.2 2398.4,742.4 2501,738.5 2603.8,691.3" fill="none" stroke="#1c6aa8" stroke-width="2.4" />
<polygon points="2295.3,784.2 2288.3,796.2 2302.3,796.2" fill="#1c6aa8"/>
<text x="2295.3" y="808.2" font-size="11.5" fill="#1c6aa8" text-anchor="middle" textLength="22.5" lengthAdjust="spacingAndGlyphs">0.787</text>
<polygon points="2398.4,735.4 2391.4,747.4 2405.4,747.4" fill="#1c6aa8"/>
<text x="2398.4" y="759.4" font-size="11.5" fill="#1c6aa8" text-anchor="middle" textLength="22.5" lengthAdjust="spacingAndGlyphs">0.850</text>
<polygon points="2501,731.5 2494,743.5 2508,743.5" fill="#1c6aa8"/>
<text x="2501" y="755.5" font-size="11.5" fill="#1c6aa8" text-anchor="middle" textLength="22.5" lengthAdjust="spacingAndGlyphs">0.855</text>
<polygon points="2603.8,684.3 2596.8,696.3 2610.8,696.3" fill="#1c6aa8"/>
<text x="2603.8" y="708.3" font-size="11.5" fill="#1c6aa8" text-anchor="middle" textLength="22.5" lengthAdjust="spacingAndGlyphs">0.916</text>
<polyline points="2243.1,882.6 2243.1,626.2 2656,626.2 2656,882.6" fill="none" stroke="#777" stroke-width="2" />
<polyline points="2243.1,887 2243.1,942.3 2656,942.3 2656,887" fill="none" stroke="#777" stroke-width="2" />
<line x1="2238.1" y1="885" x2="2248.1" y2="879" stroke="#555" stroke-width="1.6" />
<line x1="2238.1" y1="891" x2="2248.1" y2="885" stroke="#555" stroke-width="1.6" />
<line x1="2651" y1="885" x2="2661" y2="879" stroke="#555" stroke-width="1.6" />
<line x1="2651" y1="891" x2="2661" y2="885" stroke="#555" stroke-width="1.6" />
<line x1="2238.1" y1="858.5" x2="2243.1" y2="858.5" stroke="#777" stroke-width="1.6" />
<text x="2235.3" y="864" font-size="15.5" fill="#444" text-anchor="end" textLength="26.3" lengthAdjust="spacingAndGlyphs">0.70</text>
<line x1="2238.1" y1="819.8" x2="2243.1" y2="819.8" stroke="#777" stroke-width="1.6" />
<text x="2235.3" y="825.3" font-size="15.5" fill="#444" text-anchor="end" textLength="26.3" lengthAdjust="spacingAndGlyphs">0.75</text>
<line x1="2238.1" y1="781.1" x2="2243.1" y2="781.1" stroke="#777" stroke-width="1.6" />
<text x="2235.3" y="786.6" font-size="15.5" fill="#444" text-anchor="end" textLength="26.3" lengthAdjust="spacingAndGlyphs">0.80</text>
<line x1="2238.1" y1="742.4" x2="2243.1" y2="742.4" stroke="#777" stroke-width="1.6" />
<text x="2235.3" y="747.9" font-size="15.5" fill="#444" text-anchor="end" textLength="26.3" lengthAdjust="spacingAndGlyphs">0.85</text>
<line x1="2238.1" y1="703.7" x2="2243.1" y2="703.7" stroke="#777" stroke-width="1.6" />
<text x="2235.3" y="709.2" font-size="15.5" fill="#444" text-anchor="end" textLength="26.3" lengthAdjust="spacingAndGlyphs">0.90</text>
<line x1="2238.1" y1="665" x2="2243.1" y2="665" stroke="#777" stroke-width="1.6" />
<text x="2235.3" y="670.5" font-size="15.5" fill="#444" text-anchor="end" textLength="26.3" lengthAdjust="spacingAndGlyphs">0.95</text>
<line x1="2238.1" y1="626.3" x2="2243.1" y2="626.3" stroke="#777" stroke-width="1.6" />
<text x="2235.3" y="631.8" font-size="15.5" fill="#444" text-anchor="end" textLength="26.3" lengthAdjust="spacingAndGlyphs">1.00</text>
<line x1="2240.1" y1="839.1" x2="2243.1" y2="839.1" stroke="#777" stroke-width="1.3" />
<line x1="2240.1" y1="800.4" x2="2243.1" y2="800.4" stroke="#777" stroke-width="1.3" />
<line x1="2240.1" y1="761.8" x2="2243.1" y2="761.8" stroke="#777" stroke-width="1.3" />
<line x1="2240.1" y1="723" x2="2243.1" y2="723" stroke="#777" stroke-width="1.3" />
<line x1="2240.1" y1="684.3" x2="2243.1" y2="684.3" stroke="#777" stroke-width="1.3" />
<line x1="2240.1" y1="645.6" x2="2243.1" y2="645.6" stroke="#777" stroke-width="1.3" />
<line x1="2238.1" y1="942.3" x2="2243.1" y2="942.3" stroke="#777" stroke-width="1.6" />
<text x="2235.3" y="947.8" font-size="15.5" fill="#444" text-anchor="end" textLength="26.3" lengthAdjust="spacingAndGlyphs">0.00</text>
<line x1="2238.1" y1="903.1" x2="2243.1" y2="903.1" stroke="#777" stroke-width="1.6" />
<text x="2235.3" y="908.6" font-size="15.5" fill="#444" text-anchor="end" textLength="26.3" lengthAdjust="spacingAndGlyphs">0.05</text>
<line x1="2240.1" y1="922.7" x2="2243.1" y2="922.7" stroke="#777" stroke-width="1.3" />
<text x="2204.5" y="783.6" font-size="15.5" fill="#444" text-anchor="middle" textLength="40" lengthAdjust="spacingAndGlyphs" transform="rotate(-90 2204.5 783.6)">Values</text>
<line x1="2267.9" y1="650.5" x2="2300.5" y2="650.5" stroke="#1c6aa8" stroke-width="2.4" />
<polygon points="2284.2,644 2277.2,655.5 2291.2,655.5" fill="#1c6aa8"/>
<text x="2305.2" y="655.7" font-size="15.5" fill="#333" textLength="54" lengthAdjust="spacingAndGlyphs">Accuracy</text>
<rect x="2268.7" y="660.9" width="31.3" height="14" fill="#fbc898" stroke="#111" stroke-width="2.2"/>
<text x="2305.2" y="672.7" font-size="15.5" fill="#333">Precision</text>
<rect x="2268.7" y="678.7" width="31.3" height="14" fill="#9ed9a1" stroke="#111" stroke-width="2.2"/>
<text x="2305.2" y="690.5" font-size="15.5" fill="#333">Recall</text>
<rect x="2268.7" y="696.1" width="31.3" height="14" fill="#c6b1de" stroke="#111" stroke-width="2.2"/>
<text x="2305.2" y="707.9" font-size="15.5" fill="#333">F1-score</text>
<rect x="2736.2" y="627" width="462.8" height="319.7" fill="none" stroke="#8a8a8a" stroke-width="2"/>
<line x1="2731.2" y1="946.7" x2="2736.2" y2="946.7" stroke="#888" stroke-width="1.6" />
<text x="2731" y="952.2" font-size="15.5" fill="#444" text-anchor="end" textLength="29" lengthAdjust="spacingAndGlyphs">0.75</text>
<line x1="2731.2" y1="925.4" x2="2736.2" y2="925.4" stroke="#888" stroke-width="1.6" />
<text x="2731" y="930.9" font-size="15.5" fill="#444" text-anchor="end" textLength="29" lengthAdjust="spacingAndGlyphs">0.76</text>
<line x1="2731.2" y1="904.1" x2="2736.2" y2="904.1" stroke="#888" stroke-width="1.6" />
<text x="2731" y="909.6" font-size="15.5" fill="#444" text-anchor="end" textLength="29" lengthAdjust="spacingAndGlyphs">0.77</text>
<line x1="2731.2" y1="882.8" x2="2736.2" y2="882.8" stroke="#888" stroke-width="1.6" />
<text x="2731" y="888.3" font-size="15.5" fill="#444" text-anchor="end" textLength="29" lengthAdjust="spacingAndGlyphs">0.78</text>
<line x1="2731.2" y1="861.4" x2="2736.2" y2="861.4" stroke="#888" stroke-width="1.6" />
<text x="2731" y="866.9" font-size="15.5" fill="#444" text-anchor="end" textLength="29" lengthAdjust="spacingAndGlyphs">0.79</text>
<line x1="2731.2" y1="840.1" x2="2736.2" y2="840.1" stroke="#888" stroke-width="1.6" />
<text x="2731" y="845.6" font-size="15.5" fill="#444" text-anchor="end" textLength="29" lengthAdjust="spacingAndGlyphs">0.80</text>
<line x1="2731.2" y1="818.8" x2="2736.2" y2="818.8" stroke="#888" stroke-width="1.6" />
<text x="2731" y="824.3" font-size="15.5" fill="#444" text-anchor="end" textLength="29" lengthAdjust="spacingAndGlyphs">0.81</text>
<line x1="2731.2" y1="797.5" x2="2736.2" y2="797.5" stroke="#888" stroke-width="1.6" />
<text x="2731" y="803" font-size="15.5" fill="#444" text-anchor="end" textLength="29" lengthAdjust="spacingAndGlyphs">0.82</text>
<line x1="2731.2" y1="776.2" x2="2736.2" y2="776.2" stroke="#888" stroke-width="1.6" />
<text x="2731" y="781.7" font-size="15.5" fill="#444" text-anchor="end" textLength="29" lengthAdjust="spacingAndGlyphs">0.83</text>
<line x1="2731.2" y1="754.9" x2="2736.2" y2="754.9" stroke="#888" stroke-width="1.6" />
<text x="2731" y="760.4" font-size="15.5" fill="#444" text-anchor="end" textLength="29" lengthAdjust="spacingAndGlyphs">0.84</text>
<line x1="2731.2" y1="733.6" x2="2736.2" y2="733.6" stroke="#888" stroke-width="1.6" />
<text x="2731" y="739.1" font-size="15.5" fill="#444" text-anchor="end" textLength="29" lengthAdjust="spacingAndGlyphs">0.85</text>
<line x1="2731.2" y1="712.3" x2="2736.2" y2="712.3" stroke="#888" stroke-width="1.6" />
<text x="2731" y="717.8" font-size="15.5" fill="#444" text-anchor="end" textLength="29" lengthAdjust="spacingAndGlyphs">0.86</text>
<line x1="2731.2" y1="690.9" x2="2736.2" y2="690.9" stroke="#888" stroke-width="1.6" />
<text x="2731" y="696.4" font-size="15.5" fill="#444" text-anchor="end" textLength="29" lengthAdjust="spacingAndGlyphs">0.87</text>
<line x1="2731.2" y1="669.6" x2="2736.2" y2="669.6" stroke="#888" stroke-width="1.6" />
<text x="2731" y="675.1" font-size="15.5" fill="#444" text-anchor="end" textLength="29" lengthAdjust="spacingAndGlyphs">0.88</text>
<line x1="2731.2" y1="648.3" x2="2736.2" y2="648.3" stroke="#888" stroke-width="1.6" />
<text x="2731" y="653.8" font-size="15.5" fill="#444" text-anchor="end" textLength="29" lengthAdjust="spacingAndGlyphs">0.89</text>
<line x1="2731.2" y1="627" x2="2736.2" y2="627" stroke="#888" stroke-width="1.6" />
<text x="2731" y="632.5" font-size="15.5" fill="#444" text-anchor="end" textLength="29" lengthAdjust="spacingAndGlyphs">0.90</text>
<line x1="2794.4" y1="946.7" x2="2794.4" y2="951.7" stroke="#888" stroke-width="1.6" />
<text x="2794.4" y="964.5" font-size="15.5" fill="#444" text-anchor="middle">Accuracy</text>
<line x1="2909.8" y1="946.7" x2="2909.8" y2="951.7" stroke="#888" stroke-width="1.6" />
<text x="2909.8" y="964.5" font-size="15.5" fill="#444" text-anchor="middle">Precisoin</text>
<line x1="3025.4" y1="946.7" x2="3025.4" y2="951.7" stroke="#888" stroke-width="1.6" />
<text x="3025.4" y="964.5" font-size="15.5" fill="#444" text-anchor="middle">Recall</text>
<line x1="3141.1" y1="946.7" x2="3141.1" y2="951.7" stroke="#888" stroke-width="1.6" />
<text x="3141.1" y="964.5" font-size="15.5" fill="#444" text-anchor="middle">F1-score</text>
<text x="2690.5" y="786.2" font-size="15.5" fill="#444" text-anchor="middle" textLength="40" lengthAdjust="spacingAndGlyphs" transform="rotate(-90 2690.5 786.2)">Values</text>
<polyline points="2794.4,866.3 2909.8,830.5 3025.4,861 3141.1,868.9" fill="none" stroke="#c83a3e" stroke-width="2.2" />
<polyline points="2794.4,855.3 2909.8,844.8 3025.4,847.6 3141.1,851.4" fill="none" stroke="#2a5cbf" stroke-width="2.2" />
<polyline points="2794.4,806.2 2909.8,787.9 3025.4,801.1 3141.1,798.4" fill="none" stroke="#f0b030" stroke-width="2.2" />
<polyline points="2794.4,794.7 2909.8,751.3 3025.4,792.2 3141.1,802.6" fill="none" stroke="#3a9a62" stroke-width="2.2" />
<polyline points="2794.4,733.1 2909.8,731.4 3025.4,725.7 3141.1,729.5" fill="none" stroke="#8c8c8c" stroke-width="2.2" />
<rect x="2788.9" y="860.8" width="11" height="11" fill="#c83a3e"/>
<rect x="2904.3" y="825" width="11" height="11" fill="#c83a3e"/>
<rect x="3019.9" y="855.5" width="11" height="11" fill="#c83a3e"/>
<rect x="3135.6" y="863.4" width="11" height="11" fill="#c83a3e"/>
<polygon points="2794.4,847.8 2786.4,861.3 2802.4,861.3" fill="#2a5cbf"/>
<polygon points="2909.8,837.3 2901.8,850.8 2917.8,850.8" fill="#2a5cbf"/>
<polygon points="3025.4,840.1 3017.4,853.6 3033.4,853.6" fill="#2a5cbf"/>
<polygon points="3141.1,843.9 3133.1,857.4 3149.1,857.4" fill="#2a5cbf"/>
<circle cx="2794.4" cy="806.2" r="6.5" fill="#f0b030"/>
<circle cx="2909.8" cy="787.9" r="6.5" fill="#f0b030"/>
<circle cx="3025.4" cy="801.1" r="6.5" fill="#f0b030"/>
<circle cx="3141.1" cy="798.4" r="6.5" fill="#f0b030"/>
<polygon points="2794.4,787.2 2801.9,794.7 2794.4,802.2 2786.9,794.7" fill="#3a9a62"/>
<polygon points="2909.8,743.8 2917.3,751.3 2909.8,758.8 2902.3,751.3" fill="#3a9a62"/>
<polygon points="3025.4,784.7 3032.9,792.2 3025.4,799.7 3017.9,792.2" fill="#3a9a62"/>
<polygon points="3141.1,795.1 3148.6,802.6 3141.1,810.1 3133.6,802.6" fill="#3a9a62"/>
<polygon points="2794.4,725.6 2792.5,730.5 2787.3,730.8 2791.4,734.1 2790,739.2 2794.4,736.3 2798.8,739.2 2797.4,734.1 2801.5,730.8 2796.3,730.5" fill="#8c8c8c"/>
<polygon points="2909.8,723.9 2907.9,728.8 2902.7,729.1 2906.8,732.4 2905.4,737.5 2909.8,734.6 2914.2,737.5 2912.8,732.4 2916.9,729.1 2911.7,728.8" fill="#8c8c8c"/>
<polygon points="3025.4,718.2 3023.5,723.1 3018.3,723.4 3022.4,726.7 3021,731.7 3025.4,728.9 3029.8,731.7 3028.4,726.7 3032.5,723.4 3027.3,723.1" fill="#8c8c8c"/>
<polygon points="3141.1,722 3139.2,726.9 3134,727.2 3138.1,730.5 3136.7,735.6 3141.1,732.7 3145.5,735.6 3144.1,730.5 3148.2,727.2 3143,726.9" fill="#8c8c8c"/>
<line x1="2757.9" y1="643.4" x2="2794.4" y2="643.4" stroke="#c83a3e" stroke-width="2.2" />
<rect x="2770.4" y="637.9" width="11" height="11" fill="#c83a3e"/>
<text x="2798.4" y="648.9" font-size="15.5" fill="#444">ResNet</text>
<line x1="2866.2" y1="643.4" x2="2902.7" y2="643.4" stroke="#f0b030" stroke-width="2.2" />
<circle cx="2884.2" cy="643.4" r="6.5" fill="#f0b030"/>
<text x="2906.7" y="648.9" font-size="15.5" fill="#444">D-ResNet</text>
<line x1="2757.9" y1="663" x2="2794.4" y2="663" stroke="#2a5cbf" stroke-width="2.2" />
<polygon points="2775.9,655.5 2767.9,669 2783.9,669" fill="#2a5cbf"/>
<text x="2798.4" y="668.5" font-size="15.5" fill="#444">F-ResNet</text>
<line x1="2866.2" y1="663" x2="2902.7" y2="663" stroke="#3a9a62" stroke-width="2.2" />
<polygon points="2884.2,655.5 2891.7,663 2884.2,670.5 2876.7,663" fill="#3a9a62"/>
<text x="2906.7" y="668.5" font-size="15.5" fill="#444">DF-ResNet (without weight sharing)</text>
<line x1="2757.9" y1="682.6" x2="2794.4" y2="682.6" stroke="#8c8c8c" stroke-width="2.2" />
<polygon points="2775.9,675.1 2774,680 2768.8,680.3 2772.9,683.6 2771.5,688.7 2775.9,685.8 2780.3,688.7 2778.9,683.6 2783,680.3 2777.8,680" fill="#8c8c8c"/>
<text x="2798.4" y="688.1" font-size="15.5" fill="#444">DF-ResNet</text>
<rect x="2244.5" y="1046.9" width="521.3" height="350" fill="none" stroke="#7a7a7a" stroke-width="2"/>
<line x1="2239.5" y1="1396.9" x2="2244.5" y2="1396.9" stroke="#777" stroke-width="1.6" />
<text x="2234.2" y="1402.4" font-size="15.5" fill="#444" text-anchor="end" textLength="22" lengthAdjust="spacingAndGlyphs">0.0</text>
<line x1="2241.5" y1="1377.5" x2="2244.5" y2="1377.5" stroke="#777" stroke-width="1.3" />
<line x1="2239.5" y1="1358" x2="2244.5" y2="1358" stroke="#777" stroke-width="1.6" />
<text x="2234.2" y="1363.5" font-size="15.5" fill="#444" text-anchor="end" textLength="22" lengthAdjust="spacingAndGlyphs">0.1</text>
<line x1="2241.5" y1="1338.6" x2="2244.5" y2="1338.6" stroke="#777" stroke-width="1.3" />
<line x1="2239.5" y1="1319.1" x2="2244.5" y2="1319.1" stroke="#777" stroke-width="1.6" />
<text x="2234.2" y="1324.6" font-size="15.5" fill="#444" text-anchor="end" textLength="22" lengthAdjust="spacingAndGlyphs">0.2</text>
<line x1="2241.5" y1="1299.7" x2="2244.5" y2="1299.7" stroke="#777" stroke-width="1.3" />
<line x1="2239.5" y1="1280.2" x2="2244.5" y2="1280.2" stroke="#777" stroke-width="1.6" />
<text x="2234.2" y="1285.7" font-size="15.5" fill="#444" text-anchor="end" textLength="22" lengthAdjust="spacingAndGlyphs">0.3</text>
<line x1="2241.5" y1="1260.8" x2="2244.5" y2="1260.8" stroke="#777" stroke-width="1.3" />
<line x1="2239.5" y1="1241.3" x2="2244.5" y2="1241.3" stroke="#777" stroke-width="1.6" />
<text x="2234.2" y="1246.8" font-size="15.5" fill="#444" text-anchor="end" textLength="22" lengthAdjust="spacingAndGlyphs">0.4</text>
<line x1="2241.5" y1="1221.9" x2="2244.5" y2="1221.9" stroke="#777" stroke-width="1.3" />
<line x1="2239.5" y1="1202.4" x2="2244.5" y2="1202.4" stroke="#777" stroke-width="1.6" />
<text x="2234.2" y="1207.9" font-size="15.5" fill="#444" text-anchor="end" textLength="22" lengthAdjust="spacingAndGlyphs">0.5</text>
<line x1="2241.5" y1="1183" x2="2244.5" y2="1183" stroke="#777" stroke-width="1.3" />
<line x1="2239.5" y1="1163.5" x2="2244.5" y2="1163.5" stroke="#777" stroke-width="1.6" />
<text x="2234.2" y="1169" font-size="15.5" fill="#444" text-anchor="end" textLength="22" lengthAdjust="spacingAndGlyphs">0.6</text>
<line x1="2241.5" y1="1144.1" x2="2244.5" y2="1144.1" stroke="#777" stroke-width="1.3" />
<line x1="2239.5" y1="1124.6" x2="2244.5" y2="1124.6" stroke="#777" stroke-width="1.6" />
<text x="2234.2" y="1130.1" font-size="15.5" fill="#444" text-anchor="end" textLength="22" lengthAdjust="spacingAndGlyphs">0.7</text>
<line x1="2241.5" y1="1105.2" x2="2244.5" y2="1105.2" stroke="#777" stroke-width="1.3" />
<line x1="2239.5" y1="1085.7" x2="2244.5" y2="1085.7" stroke="#777" stroke-width="1.6" />
<text x="2234.2" y="1091.2" font-size="15.5" fill="#444" text-anchor="end" textLength="22" lengthAdjust="spacingAndGlyphs">0.8</text>
<line x1="2241.5" y1="1066.2" x2="2244.5" y2="1066.2" stroke="#777" stroke-width="1.3" />
<line x1="2239.5" y1="1046.8" x2="2244.5" y2="1046.8" stroke="#777" stroke-width="1.6" />
<text x="2234.2" y="1052.3" font-size="15.5" fill="#444" text-anchor="end" textLength="22" lengthAdjust="spacingAndGlyphs">0.9</text>
<text x="2205.5" y="1221.2" font-size="15.5" fill="#444" text-anchor="middle" textLength="40" lengthAdjust="spacingAndGlyphs" transform="rotate(-90 2205.5 1221.2)">Range</text>
<polygon points="2272.1,1396.9 2272.6,1391.9 2273.3,1387 2274.4,1382 2275.8,1377.1 2277.5,1372.1 2279.5,1367.1 2281,1362.2 2281,1357.2 2281,1352.3 2281,1347.3 2281,1342.3 2281,1337.4 2279.1,1332.4 2277.2,1327.5 2275.5,1322.5 2274.2,1317.5 2273.2,1312.6 2272.5,1307.6 2272,1302.7 2271.7,1297.7 2271.4,1292.7 2271.4,1287.8 2271.4,1282.8 2271.4,1277.9 2271.4,1272.9 2271.4,1267.9 2271.4,1263 2271.4,1258 2271.4,1253.1 2271.4,1248.1 2271.4,1243.1 2271.4,1238.2 2271.4,1233.2 2271.4,1228.3 2271.4,1223.3 2271.4,1218.3 2271.4,1213.4 2271.4,1208.4 2271.4,1203.5 2271.4,1198.5 2269.6,1198.5 2269.6,1203.5 2269.6,1208.4 2269.6,1213.4 2269.6,1218.3 2269.6,1223.3 2269.6,1228.3 2269.6,1233.2 2269.6,1238.2 2269.6,1243.1 2269.6,1248.1 2269.6,1253.1 2269.6,1258 2269.6,1263 2269.6,1267.9 2269.6,1272.9 2269.6,1277.9 2269.6,1282.8 2269.6,1287.8 2269.6,1292.7 2269.3,1297.7 2269,1302.7 2268.5,1307.6 2267.8,1312.6 2266.8,1317.5 2265.5,1322.5 2263.8,1327.5 2261.9,1332.4 2260,1337.4 2260,1342.3 2260,1347.3 2260,1352.3 2260,1357.2 2260,1362.2 2261.5,1367.1 2263.5,1372.1 2265.2,1377.1 2266.6,1382 2267.7,1387 2268.4,1391.9 2268.9,1396.9" fill="#a9d3f1" stroke="#1a88cf" stroke-width="1.8" stroke-linejoin="round" fill-opacity="0.85"/>
<line x1="2270.5" y1="1393" x2="2270.5" y2="1202.4" stroke="#333" stroke-width="1.2" />
<rect x="2266.9" y="1324.9" width="7.2" height="38.9" fill="#404040" rx="1"/>
<circle cx="2270.5" cy="1346.3" r="2.2" fill="#fff"/>
<line x1="2267.5" y1="1278.3" x2="2273.5" y2="1278.3" stroke="#333" stroke-width="1.2" />
<polygon points="2298.1,1367.7 2298.3,1362.3 2298.6,1356.8 2299.1,1351.4 2299.6,1345.9 2300.3,1340.5 2301.1,1335 2302.2,1329.6 2303.5,1324.2 2305,1318.7 2306.6,1313.3 2308.2,1307.8 2309.3,1302.4 2309.3,1296.9 2309.3,1291.5 2309.3,1286 2309.3,1280.6 2309.3,1275.1 2309.3,1269.7 2309.3,1264.3 2307.8,1258.8 2306.2,1253.4 2304.6,1247.9 2303.1,1242.5 2301.9,1237 2300.9,1231.6 2300.1,1226.1 2299.4,1220.7 2298.9,1215.2 2298.6,1209.8 2298.3,1204.3 2298,1198.9 2297.8,1193.5 2297.7,1188 2297.7,1182.6 2297.7,1177.1 2297.7,1171.7 2297.7,1166.2 2297.7,1160.8 2297.7,1155.3 2297.7,1149.9 2295.9,1149.9 2295.9,1155.3 2295.9,1160.8 2295.9,1166.2 2295.9,1171.7 2295.9,1177.1 2295.9,1182.6 2295.9,1188 2295.8,1193.5 2295.6,1198.9 2295.3,1204.3 2295,1209.8 2294.7,1215.2 2294.2,1220.7 2293.5,1226.1 2292.7,1231.6 2291.7,1237 2290.5,1242.5 2289,1247.9 2287.4,1253.4 2285.8,1258.8 2284.3,1264.3 2284.3,1269.7 2284.3,1275.1 2284.3,1280.6 2284.3,1286 2284.3,1291.5 2284.3,1296.9 2284.3,1302.4 2285.4,1307.8 2287,1313.3 2288.6,1318.7 2290.1,1324.2 2291.4,1329.6 2292.5,1335 2293.3,1340.5 2294,1345.9 2294.5,1351.4 2295,1356.8 2295.3,1362.3 2295.5,1367.7" fill="#f6dcb2" stroke="#d8921e" stroke-width="1.8" stroke-linejoin="round" fill-opacity="0.85"/>
<line x1="2296.8" y1="1363.8" x2="2296.8" y2="1153.8" stroke="#333" stroke-width="1.2" />
<rect x="2293.2" y="1266.6" width="7.2" height="44.7" fill="#404040" rx="1"/>
<circle cx="2296.8" cy="1288" r="2.2" fill="#fff"/>
<line x1="2293.8" y1="1365" x2="2299.8" y2="1365" stroke="#333" stroke-width="1.2" />
<line x1="2293.8" y1="1212.9" x2="2299.8" y2="1212.9" stroke="#333" stroke-width="1.2" />
<polygon points="2324.8,1381.3 2325.3,1374.1 2326,1366.9 2326.8,1359.8 2327.8,1352.6 2329.1,1345.4 2330.4,1338.2 2331.9,1331 2333.4,1323.8 2333.8,1316.6 2333.8,1309.4 2333.8,1302.2 2333.8,1295 2333.8,1287.8 2333.8,1280.6 2333.8,1273.4 2333.1,1266.2 2331.6,1259 2330.1,1251.8 2328.8,1244.6 2327.6,1237.4 2326.6,1230.2 2325.8,1223 2325.2,1215.8 2324.7,1208.6 2324.4,1201.4 2324.1,1194.2 2323.9,1187 2323.7,1179.8 2323.7,1172.6 2323.7,1165.4 2323.7,1158.2 2323.7,1151.1 2323.7,1143.9 2323.7,1136.7 2323.7,1129.5 2323.7,1122.3 2323.7,1115.1 2323.7,1107.9 2323.7,1100.7 2323.7,1093.5 2321.9,1093.5 2321.9,1100.7 2321.9,1107.9 2321.9,1115.1 2321.9,1122.3 2321.9,1129.5 2321.9,1136.7 2321.9,1143.9 2321.9,1151.1 2321.9,1158.2 2321.9,1165.4 2321.9,1172.6 2321.9,1179.8 2321.7,1187 2321.5,1194.2 2321.2,1201.4 2320.9,1208.6 2320.4,1215.8 2319.8,1223 2319,1230.2 2318,1237.4 2316.8,1244.6 2315.5,1251.8 2314,1259 2312.5,1266.2 2311.8,1273.4 2311.8,1280.6 2311.8,1287.8 2311.8,1295 2311.8,1302.2 2311.8,1309.4 2311.8,1316.6 2312.2,1323.8 2313.7,1331 2315.2,1338.2 2316.5,1345.4 2317.8,1352.6 2318.8,1359.8 2319.6,1366.9 2320.3,1374.1 2320.8,1381.3" fill="#f6c6a8" stroke="#d2581c" stroke-width="1.8" stroke-linejoin="round" fill-opacity="0.85"/>
<line x1="2322.8" y1="1377.5" x2="2322.8" y2="1097.4" stroke="#333" stroke-width="1.2" />
<rect x="2319.2" y="1264.6" width="7.2" height="54.5" fill="#404040" rx="1"/>
<circle cx="2322.8" cy="1293.8" r="2.2" fill="#fff"/>
<line x1="2319.8" y1="1199.3" x2="2325.8" y2="1199.3" stroke="#333" stroke-width="1.2" />
<polygon points="2350.7,1396.9 2350.9,1390.9 2351.1,1384.8 2351.5,1378.8 2351.8,1372.8 2352.3,1366.8 2352.9,1360.7 2353.6,1354.7 2354.4,1348.7 2355.3,1342.6 2356.3,1336.6 2357.4,1330.6 2358.6,1324.5 2359.7,1318.5 2360.8,1312.5 2360.8,1306.5 2360.8,1300.4 2360.8,1294.4 2360.8,1288.4 2360.8,1282.3 2360.8,1276.3 2360.8,1270.3 2360.8,1264.3 2360.8,1258.2 2360.2,1252.2 2359.1,1246.2 2357.9,1240.1 2356.8,1234.1 2355.7,1228.1 2354.7,1222 2353.9,1216 2353.1,1210 2352.5,1204 2352,1197.9 2351.6,1191.9 2351.3,1185.9 2351,1179.8 2350.8,1173.8 2350.6,1167.8 2350.4,1161.7 2350.3,1155.7 2348.3,1155.7 2348.2,1161.7 2348,1167.8 2347.8,1173.8 2347.6,1179.8 2347.3,1185.9 2347,1191.9 2346.6,1197.9 2346.1,1204 2345.5,1210 2344.7,1216 2343.9,1222 2342.9,1228.1 2341.8,1234.1 2340.7,1240.1 2339.5,1246.2 2338.4,1252.2 2337.8,1258.2 2337.8,1264.3 2337.8,1270.3 2337.8,1276.3 2337.8,1282.3 2337.8,1288.4 2337.8,1294.4 2337.8,1300.4 2337.8,1306.5 2337.8,1312.5 2338.9,1318.5 2340,1324.5 2341.2,1330.6 2342.3,1336.6 2343.3,1342.6 2344.2,1348.7 2345,1354.7 2345.7,1360.7 2346.3,1366.8 2346.8,1372.8 2347.1,1378.8 2347.5,1384.8 2347.7,1390.9 2347.9,1396.9" fill="#c6c6c6" stroke="#555555" stroke-width="1.8" stroke-linejoin="round" fill-opacity="0.85"/>
<line x1="2349.3" y1="1393" x2="2349.3" y2="1159.6" stroke="#333" stroke-width="1.2" />
<rect x="2345.7" y="1258.8" width="7.2" height="64.2" fill="#404040" rx="1"/>
<circle cx="2349.3" cy="1288" r="2.2" fill="#fff"/>
<line x1="2346.3" y1="1181.8" x2="2352.3" y2="1181.8" stroke="#333" stroke-width="1.2" />
<polygon points="2402.3,1396.9 2402.9,1392.9 2403.8,1388.9 2404.9,1384.9 2406.3,1381 2408,1377 2409.8,1373 2411.4,1369 2411.4,1365 2411.4,1361 2411.4,1357 2411.4,1353 2411.4,1349.1 2410.7,1345.1 2408.9,1341.1 2407.1,1337.1 2405.6,1333.1 2404.3,1329.1 2403.3,1325.1 2402.6,1321.1 2402.1,1317.2 2401.7,1313.2 2401.5,1309.2 2401.3,1305.2 2401.3,1301.2 2401.3,1297.2 2401.3,1293.2 2401.3,1289.2 2401.3,1285.3 2401.3,1281.3 2401.3,1277.3 2401.3,1273.3 2401.3,1269.3 2401.3,1265.3 2401.3,1261.3 2401.3,1257.3 2401.3,1253.4 2401.3,1249.4 2401.3,1245.4 2401.3,1241.4 2401.3,1237.4 2399.5,1237.4 2399.5,1241.4 2399.5,1245.4 2399.5,1249.4 2399.5,1253.4 2399.5,1257.3 2399.5,1261.3 2399.5,1265.3 2399.5,1269.3 2399.5,1273.3 2399.5,1277.3 2399.5,1281.3 2399.5,1285.3 2399.5,1289.2 2399.5,1293.2 2399.5,1297.2 2399.5,1301.2 2399.5,1305.2 2399.3,1309.2 2399.1,1313.2 2398.7,1317.2 2398.2,1321.1 2397.5,1325.1 2396.5,1329.1 2395.2,1333.1 2393.7,1337.1 2391.9,1341.1 2390.1,1345.1 2389.4,1349.1 2389.4,1353 2389.4,1357 2389.4,1361 2389.4,1365 2389.4,1369 2391,1373 2392.8,1377 2394.5,1381 2395.9,1384.9 2397,1388.9 2397.9,1392.9 2398.5,1396.9" fill="#a9d3f1" stroke="#1a88cf" stroke-width="1.8" stroke-linejoin="round" fill-opacity="0.85"/>
<line x1="2400.4" y1="1393" x2="2400.4" y2="1241.3" stroke="#333" stroke-width="1.2" />
<rect x="2396.8" y="1334.7" width="7.2" height="31.1" fill="#404040" rx="1"/>
<circle cx="2400.4" cy="1352.9" r="2.2" fill="#fff"/>
<line x1="2397.4" y1="1297.3" x2="2403.4" y2="1297.3" stroke="#333" stroke-width="1.2" />
<polygon points="2428.2,1369.7 2428.4,1364.1 2428.8,1358.6 2429.2,1353 2429.7,1347.5 2430.4,1342 2431.2,1336.4 2432.2,1330.9 2433.3,1325.3 2434.6,1319.8 2435.9,1314.2 2437.3,1308.7 2438.7,1303.2 2438.7,1297.6 2438.7,1292.1 2438.7,1286.5 2438.7,1281 2438.7,1275.4 2438.7,1269.9 2438.7,1264.3 2438.7,1258.8 2437.7,1253.3 2436.3,1247.7 2435,1242.2 2433.7,1236.6 2432.5,1231.1 2431.4,1225.5 2430.6,1220 2429.9,1214.5 2429.3,1208.9 2428.9,1203.4 2428.5,1197.8 2428.2,1192.3 2428,1186.7 2427.8,1181.2 2427.7,1175.7 2427.6,1170.1 2427.6,1164.6 2427.6,1159 2427.6,1153.5 2427.6,1147.9 2425.8,1147.9 2425.8,1153.5 2425.8,1159 2425.8,1164.6 2425.8,1170.1 2425.7,1175.7 2425.6,1181.2 2425.4,1186.7 2425.2,1192.3 2424.9,1197.8 2424.5,1203.4 2424.1,1208.9 2423.5,1214.5 2422.8,1220 2422,1225.5 2420.9,1231.1 2419.7,1236.6 2418.4,1242.2 2417.1,1247.7 2415.7,1253.3 2414.7,1258.8 2414.7,1264.3 2414.7,1269.9 2414.7,1275.4 2414.7,1281 2414.7,1286.5 2414.7,1292.1 2414.7,1297.6 2414.7,1303.2 2416.1,1308.7 2417.5,1314.2 2418.8,1319.8 2420.1,1325.3 2421.2,1330.9 2422.2,1336.4 2423,1342 2423.7,1347.5 2424.2,1353 2424.6,1358.6 2425,1364.1 2425.2,1369.7" fill="#f6dcb2" stroke="#d8921e" stroke-width="1.8" stroke-linejoin="round" fill-opacity="0.85"/>
<line x1="2426.7" y1="1365.8" x2="2426.7" y2="1151.8" stroke="#333" stroke-width="1.2" />
<rect x="2423.1" y="1253" width="7.2" height="48.6" fill="#404040" rx="1"/>
<circle cx="2426.7" cy="1276.3" r="2.2" fill="#fff"/>
<line x1="2423.7" y1="1359.9" x2="2429.7" y2="1359.9" stroke="#333" stroke-width="1.2" />
<line x1="2423.7" y1="1194.6" x2="2429.7" y2="1194.6" stroke="#333" stroke-width="1.2" />
<polygon points="2453.9,1377.5 2454.1,1370.4 2454.5,1363.3 2454.9,1356.2 2455.5,1349.1 2456.2,1342 2457.2,1334.9 2458.4,1327.8 2459.8,1320.7 2461.3,1313.6 2462.9,1306.5 2464.2,1299.4 2464.2,1292.3 2464.2,1285.2 2464.2,1278.1 2464.2,1271 2464.2,1263.9 2464.2,1256.8 2463.7,1249.7 2462.1,1242.6 2460.5,1235.5 2459,1228.4 2457.7,1221.3 2456.7,1214.2 2455.8,1207.1 2455.2,1200 2454.7,1192.9 2454.3,1185.8 2454,1178.7 2453.8,1171.6 2453.6,1164.5 2453.6,1157.4 2453.6,1150.3 2453.6,1143.2 2453.6,1136.1 2453.6,1129 2453.6,1121.9 2453.6,1114.8 2453.6,1107.7 2453.6,1100.6 2453.6,1093.5 2451.8,1093.5 2451.8,1100.6 2451.8,1107.7 2451.8,1114.8 2451.8,1121.9 2451.8,1129 2451.8,1136.1 2451.8,1143.2 2451.8,1150.3 2451.8,1157.4 2451.8,1164.5 2451.6,1171.6 2451.4,1178.7 2451.1,1185.8 2450.7,1192.9 2450.2,1200 2449.6,1207.1 2448.7,1214.2 2447.7,1221.3 2446.4,1228.4 2444.9,1235.5 2443.3,1242.6 2441.7,1249.7 2441.2,1256.8 2441.2,1263.9 2441.2,1271 2441.2,1278.1 2441.2,1285.2 2441.2,1292.3 2441.2,1299.4 2442.5,1306.5 2444.1,1313.6 2445.6,1320.7 2447,1327.8 2448.2,1334.9 2449.2,1342 2449.9,1349.1 2450.5,1356.2 2450.9,1363.3 2451.3,1370.4 2451.5,1377.5" fill="#f6c6a8" stroke="#d2581c" stroke-width="1.8" stroke-linejoin="round" fill-opacity="0.85"/>
<line x1="2452.7" y1="1373.6" x2="2452.7" y2="1097.4" stroke="#333" stroke-width="1.2" />
<rect x="2449.1" y="1253" width="7.2" height="50.6" fill="#404040" rx="1"/>
<circle cx="2452.7" cy="1276.3" r="2.2" fill="#fff"/>
<line x1="2449.7" y1="1364.2" x2="2455.7" y2="1364.2" stroke="#333" stroke-width="1.2" />
<line x1="2449.7" y1="1192.3" x2="2455.7" y2="1192.3" stroke="#333" stroke-width="1.2" />
<polygon points="2482.9,1396.9 2483.7,1390.9 2484.7,1384.9 2485.7,1379 2486.9,1373 2488.1,1367 2489.3,1361 2490.2,1355 2490.2,1349.1 2490.2,1343.1 2490.2,1337.1 2490.2,1331.1 2490.2,1325.1 2490.2,1319.1 2490.2,1313.2 2490.2,1307.2 2489.5,1301.2 2488.2,1295.2 2487,1289.2 2485.9,1283.3 2484.8,1277.3 2483.8,1271.3 2483,1265.3 2482.4,1259.3 2481.8,1253.4 2481.4,1247.4 2481,1241.4 2480.7,1235.4 2480.5,1229.4 2480.3,1223.5 2480.2,1217.5 2480.1,1211.5 2480.1,1205.5 2480.1,1199.5 2480.1,1193.6 2480.1,1187.6 2480.1,1181.6 2480.1,1175.6 2480.1,1169.6 2480.1,1163.6 2480.1,1157.7 2478.3,1157.7 2478.3,1163.6 2478.3,1169.6 2478.3,1175.6 2478.3,1181.6 2478.3,1187.6 2478.3,1193.6 2478.3,1199.5 2478.3,1205.5 2478.3,1211.5 2478.2,1217.5 2478.1,1223.5 2477.9,1229.4 2477.7,1235.4 2477.4,1241.4 2477,1247.4 2476.6,1253.4 2476,1259.3 2475.4,1265.3 2474.6,1271.3 2473.6,1277.3 2472.5,1283.3 2471.4,1289.2 2470.2,1295.2 2468.9,1301.2 2468.2,1307.2 2468.2,1313.2 2468.2,1319.1 2468.2,1325.1 2468.2,1331.1 2468.2,1337.1 2468.2,1343.1 2468.2,1349.1 2468.2,1355 2469.1,1361 2470.3,1367 2471.5,1373 2472.7,1379 2473.7,1384.9 2474.7,1390.9 2475.5,1396.9" fill="#c6c6c6" stroke="#555555" stroke-width="1.8" stroke-linejoin="round" fill-opacity="0.85"/>
<line x1="2479.2" y1="1393" x2="2479.2" y2="1161.6" stroke="#333" stroke-width="1.2" />
<rect x="2475.6" y="1266.6" width="7.2" height="70" fill="#404040" rx="1"/>
<circle cx="2479.2" cy="1313.3" r="2.2" fill="#fff"/>
<line x1="2476.2" y1="1182.6" x2="2482.2" y2="1182.6" stroke="#333" stroke-width="1.2" />
<polygon points="2532,1381.3 2532.1,1376.7 2532.3,1372.1 2532.4,1367.5 2532.6,1362.9 2532.9,1358.2 2533.2,1353.6 2533.6,1349 2534.1,1344.4 2534.6,1339.8 2535.3,1335.1 2536.1,1330.5 2536.9,1325.9 2537.9,1321.3 2538.9,1316.7 2540,1312 2541,1307.4 2542,1302.8 2542,1298.2 2542,1293.6 2542,1289 2542,1284.3 2542,1279.7 2542,1275.1 2542,1270.5 2542,1265.9 2542,1261.2 2541.8,1256.6 2540.8,1252 2539.8,1247.4 2538.7,1242.8 2537.7,1238.1 2536.8,1233.5 2535.9,1228.9 2535.2,1224.3 2534.5,1219.7 2534,1215 2533.5,1210.4 2533.2,1205.8 2532.9,1201.2 2532.6,1196.6 2529.4,1196.6 2529.1,1201.2 2528.8,1205.8 2528.5,1210.4 2528,1215 2527.5,1219.7 2526.8,1224.3 2526.1,1228.9 2525.2,1233.5 2524.3,1238.1 2523.3,1242.8 2522.2,1247.4 2521.2,1252 2520.2,1256.6 2520,1261.2 2520,1265.9 2520,1270.5 2520,1275.1 2520,1279.7 2520,1284.3 2520,1289 2520,1293.6 2520,1298.2 2520,1302.8 2521,1307.4 2522,1312 2523.1,1316.7 2524.1,1321.3 2525.1,1325.9 2525.9,1330.5 2526.7,1335.1 2527.4,1339.8 2527.9,1344.4 2528.4,1349 2528.8,1353.6 2529.1,1358.2 2529.4,1362.9 2529.6,1367.5 2529.7,1372.1 2529.9,1376.7 2530,1381.3" fill="#a9d3f1" stroke="#1a88cf" stroke-width="1.8" stroke-linejoin="round" fill-opacity="0.85"/>
<line x1="2531" y1="1377.5" x2="2531" y2="1200.5" stroke="#333" stroke-width="1.2" />
<rect x="2527.4" y="1264.6" width="7.2" height="54.5" fill="#404040" rx="1"/>
<circle cx="2531" cy="1291.9" r="2.2" fill="#fff"/>
<line x1="2528" y1="1199.3" x2="2534" y2="1199.3" stroke="#333" stroke-width="1.2" />
<polygon points="2558.2,1377.5 2558.2,1373.5 2558.2,1369.5 2558.3,1365.5 2558.4,1361.5 2558.6,1357.5 2558.8,1353.5 2559.1,1349.5 2559.4,1345.6 2559.7,1341.6 2560.2,1337.6 2560.8,1333.6 2561.4,1329.6 2562.2,1325.6 2563.1,1321.6 2564.2,1317.6 2565.2,1313.7 2566.4,1309.7 2567.5,1305.7 2568.3,1301.7 2568.3,1297.7 2568.3,1293.7 2568.3,1289.7 2568.3,1285.7 2568.3,1281.8 2568.3,1277.8 2568.3,1273.8 2568.3,1269.8 2568.3,1265.8 2567.3,1261.8 2566.2,1257.8 2565.1,1253.8 2564,1249.9 2563,1245.9 2562.1,1241.9 2561.3,1237.9 2560.7,1233.9 2560.1,1229.9 2559.7,1225.9 2559.3,1221.9 2559,1218 2555.6,1218 2555.3,1221.9 2554.9,1225.9 2554.5,1229.9 2553.9,1233.9 2553.3,1237.9 2552.5,1241.9 2551.6,1245.9 2550.6,1249.9 2549.5,1253.8 2548.4,1257.8 2547.3,1261.8 2546.3,1265.8 2546.3,1269.8 2546.3,1273.8 2546.3,1277.8 2546.3,1281.8 2546.3,1285.7 2546.3,1289.7 2546.3,1293.7 2546.3,1297.7 2546.3,1301.7 2547.1,1305.7 2548.2,1309.7 2549.4,1313.7 2550.4,1317.6 2551.5,1321.6 2552.4,1325.6 2553.2,1329.6 2553.8,1333.6 2554.4,1337.6 2554.9,1341.6 2555.2,1345.6 2555.5,1349.5 2555.8,1353.5 2556,1357.5 2556.2,1361.5 2556.3,1365.5 2556.4,1369.5 2556.4,1373.5 2556.4,1377.5" fill="#f6dcb2" stroke="#d8921e" stroke-width="1.8" stroke-linejoin="round" fill-opacity="0.85"/>
<line x1="2557.3" y1="1373.6" x2="2557.3" y2="1221.9" stroke="#333" stroke-width="1.2" />
<rect x="2553.7" y="1274.4" width="7.2" height="31.1" fill="#404040" rx="1"/>
<circle cx="2557.3" cy="1288" r="2.2" fill="#fff"/>
<line x1="2554.3" y1="1342.8" x2="2560.3" y2="1342.8" stroke="#333" stroke-width="1.2" />
<line x1="2554.3" y1="1237" x2="2560.3" y2="1237" stroke="#333" stroke-width="1.2" />
<polygon points="2584.7,1383.3 2584.9,1379.5 2585.2,1375.8 2585.5,1372.1 2586,1368.3 2586.5,1364.6 2587.1,1360.8 2587.9,1357.1 2588.7,1353.3 2589.7,1349.6 2590.7,1345.8 2591.7,1342.1 2592.7,1338.4 2593.3,1334.6 2593.3,1330.9 2593.3,1327.1 2593.3,1323.4 2593.3,1319.6 2593.3,1315.9 2593.3,1312.1 2593.3,1308.4 2593.3,1304.7 2593,1300.9 2592,1297.2 2591,1293.4 2589.9,1289.7 2589,1285.9 2588.1,1282.2 2587.3,1278.4 2586.7,1274.7 2586.1,1271 2585.6,1267.2 2585.3,1263.5 2585,1259.7 2584.7,1256 2584.5,1252.2 2584.4,1248.5 2584.2,1244.8 2584.2,1241 2584.2,1237.3 2584.2,1233.5 2582.4,1233.5 2582.4,1237.3 2582.4,1241 2582.4,1244.8 2582.2,1248.5 2582.1,1252.2 2581.9,1256 2581.6,1259.7 2581.3,1263.5 2581,1267.2 2580.5,1271 2579.9,1274.7 2579.3,1278.4 2578.5,1282.2 2577.6,1285.9 2576.7,1289.7 2575.6,1293.4 2574.6,1297.2 2573.6,1300.9 2573.3,1304.7 2573.3,1308.4 2573.3,1312.1 2573.3,1315.9 2573.3,1319.6 2573.3,1323.4 2573.3,1327.1 2573.3,1330.9 2573.3,1334.6 2573.9,1338.4 2574.9,1342.1 2575.9,1345.8 2576.9,1349.6 2577.9,1353.3 2578.7,1357.1 2579.5,1360.8 2580.1,1364.6 2580.6,1368.3 2581.1,1372.1 2581.4,1375.8 2581.7,1379.5 2581.9,1383.3" fill="#f6c6a8" stroke="#d2581c" stroke-width="1.8" stroke-linejoin="round" fill-opacity="0.85"/>
<line x1="2583.3" y1="1379.4" x2="2583.3" y2="1237.4" stroke="#333" stroke-width="1.2" />
<rect x="2579.7" y="1299.7" width="7.2" height="37" fill="#404040" rx="1"/>
<circle cx="2583.3" cy="1319.1" r="2.2" fill="#fff"/>
<line x1="2580.3" y1="1381" x2="2586.3" y2="1381" stroke="#333" stroke-width="1.2" />
<line x1="2580.3" y1="1255.3" x2="2586.3" y2="1255.3" stroke="#333" stroke-width="1.2" />
<polygon points="2611.4,1387.2 2611.7,1381.8 2612.1,1376.4 2612.5,1371 2613.1,1365.6 2613.9,1360.2 2614.7,1354.8 2615.7,1349.4 2616.8,1344 2618,1338.6 2619.3,1333.2 2620.5,1327.8 2620.8,1322.4 2620.8,1317 2620.8,1311.6 2620.8,1306.2 2620.8,1300.8 2620.8,1295.4 2620.8,1290 2620.8,1284.6 2620.5,1279.2 2619.3,1273.8 2618,1268.4 2616.8,1263 2615.7,1257.6 2614.7,1252.2 2613.8,1246.8 2613.1,1241.4 2612.5,1236 2612.1,1230.7 2611.7,1225.3 2611.4,1219.9 2611.2,1214.5 2611,1209.1 2610.8,1203.7 2610.7,1198.3 2610.7,1192.9 2610.7,1187.5 2610.7,1182.1 2610.7,1176.7 2610.7,1171.3 2608.9,1171.3 2608.9,1176.7 2608.9,1182.1 2608.9,1187.5 2608.9,1192.9 2608.9,1198.3 2608.8,1203.7 2608.6,1209.1 2608.4,1214.5 2608.2,1219.9 2607.9,1225.3 2607.5,1230.7 2607.1,1236 2606.5,1241.4 2605.8,1246.8 2604.9,1252.2 2603.9,1257.6 2602.8,1263 2601.6,1268.4 2600.3,1273.8 2599.1,1279.2 2598.8,1284.6 2598.8,1290 2598.8,1295.4 2598.8,1300.8 2598.8,1306.2 2598.8,1311.6 2598.8,1317 2598.8,1322.4 2599.1,1327.8 2600.3,1333.2 2601.6,1338.6 2602.8,1344 2603.9,1349.4 2604.9,1354.8 2605.7,1360.2 2606.5,1365.6 2607.1,1371 2607.5,1376.4 2607.9,1381.8 2608.2,1387.2" fill="#c6c6c6" stroke="#555555" stroke-width="1.8" stroke-linejoin="round" fill-opacity="0.85"/>
<line x1="2609.8" y1="1383.3" x2="2609.8" y2="1175.2" stroke="#333" stroke-width="1.2" />
<rect x="2606.2" y="1276.3" width="7.2" height="48.6" fill="#404040" rx="1"/>
<circle cx="2609.8" cy="1301.6" r="2.2" fill="#fff"/>
<line x1="2606.8" y1="1383.3" x2="2612.8" y2="1383.3" stroke="#333" stroke-width="1.2" />
<line x1="2606.8" y1="1218" x2="2612.8" y2="1218" stroke="#333" stroke-width="1.2" />
<polygon points="2662.5,1396.9 2663,1393.5 2663.7,1390.1 2664.6,1386.7 2665.7,1383.3 2667.2,1379.9 2668.8,1376.5 2670.4,1373.1 2670.9,1369.7 2670.9,1366.3 2670.9,1362.9 2670.9,1359.5 2670.9,1356.1 2670.9,1352.7 2669.7,1349.2 2668.1,1345.8 2666.5,1342.4 2665.2,1339 2664.2,1335.6 2663.4,1332.2 2662.8,1328.8 2662.4,1325.4 2662.1,1322 2661.8,1318.6 2661.8,1315.2 2661.8,1311.8 2661.8,1308.4 2661.8,1305 2661.8,1301.6 2661.8,1298.2 2661.8,1294.8 2661.8,1291.4 2661.8,1288 2661.8,1284.6 2661.8,1281.2 2661.8,1277.8 2661.8,1274.4 2661.8,1271 2661.8,1267.6 2661.8,1264.2 2661.8,1260.8 2660,1260.8 2660,1264.2 2660,1267.6 2660,1271 2660,1274.4 2660,1277.8 2660,1281.2 2660,1284.6 2660,1288 2660,1291.4 2660,1294.8 2660,1298.2 2660,1301.6 2660,1305 2660,1308.4 2660,1311.8 2660,1315.2 2660,1318.6 2659.7,1322 2659.4,1325.4 2659,1328.8 2658.4,1332.2 2657.6,1335.6 2656.6,1339 2655.3,1342.4 2653.7,1345.8 2652.1,1349.2 2650.9,1352.7 2650.9,1356.1 2650.9,1359.5 2650.9,1362.9 2650.9,1366.3 2650.9,1369.7 2651.4,1373.1 2653,1376.5 2654.6,1379.9 2656.1,1383.3 2657.2,1386.7 2658.1,1390.1 2658.8,1393.5 2659.3,1396.9" fill="#a9d3f1" stroke="#1a88cf" stroke-width="1.8" stroke-linejoin="round" fill-opacity="0.85"/>
<line x1="2660.9" y1="1393" x2="2660.9" y2="1264.6" stroke="#333" stroke-width="1.2" />
<rect x="2657.3" y="1340.5" width="7.2" height="25.3" fill="#404040" rx="1"/>
<circle cx="2660.9" cy="1354.1" r="2.2" fill="#fff"/>
<line x1="2657.9" y1="1396.1" x2="2663.9" y2="1396.1" stroke="#333" stroke-width="1.2" />
<line x1="2657.9" y1="1310.2" x2="2663.9" y2="1310.2" stroke="#333" stroke-width="1.2" />
<polygon points="2689.3,1369.7 2689.7,1364.2 2690.3,1358.7 2690.9,1353.2 2691.8,1347.7 2692.7,1342.2 2693.9,1336.7 2695.1,1331.2 2696.5,1325.7 2697.9,1320.2 2699.2,1314.7 2699.2,1309.2 2699.2,1303.7 2699.2,1298.2 2699.2,1292.7 2699.2,1287.3 2699.2,1281.8 2699.2,1276.3 2699.2,1270.8 2698.3,1265.3 2696.9,1259.8 2695.6,1254.3 2694.3,1248.8 2693.1,1243.3 2692,1237.8 2691.2,1232.3 2690.5,1226.8 2689.9,1221.3 2689.4,1215.8 2689.1,1210.3 2688.8,1204.8 2688.5,1199.3 2688.4,1193.8 2688.2,1188.3 2688.1,1182.9 2688.1,1177.4 2688.1,1171.9 2688.1,1166.4 2688.1,1160.9 2688.1,1155.4 2688.1,1149.9 2686.3,1149.9 2686.3,1155.4 2686.3,1160.9 2686.3,1166.4 2686.3,1171.9 2686.3,1177.4 2686.3,1182.9 2686.2,1188.3 2686,1193.8 2685.9,1199.3 2685.6,1204.8 2685.3,1210.3 2685,1215.8 2684.5,1221.3 2683.9,1226.8 2683.2,1232.3 2682.4,1237.8 2681.3,1243.3 2680.1,1248.8 2678.8,1254.3 2677.5,1259.8 2676.1,1265.3 2675.2,1270.8 2675.2,1276.3 2675.2,1281.8 2675.2,1287.3 2675.2,1292.7 2675.2,1298.2 2675.2,1303.7 2675.2,1309.2 2675.2,1314.7 2676.5,1320.2 2677.9,1325.7 2679.3,1331.2 2680.5,1336.7 2681.7,1342.2 2682.6,1347.7 2683.5,1353.2 2684.1,1358.7 2684.7,1364.2 2685.1,1369.7" fill="#f6dcb2" stroke="#d8921e" stroke-width="1.8" stroke-linejoin="round" fill-opacity="0.85"/>
<line x1="2687.2" y1="1365.8" x2="2687.2" y2="1153.8" stroke="#333" stroke-width="1.2" />
<rect x="2683.6" y="1266.6" width="7.2" height="46.7" fill="#404040" rx="1"/>
<circle cx="2687.2" cy="1291.9" r="2.2" fill="#fff"/>
<line x1="2684.2" y1="1369.3" x2="2690.2" y2="1369.3" stroke="#333" stroke-width="1.2" />
<line x1="2684.2" y1="1210.6" x2="2690.2" y2="1210.6" stroke="#333" stroke-width="1.2" />
<polygon points="2715,1381.3 2715.4,1374.1 2716,1366.9 2716.8,1359.8 2717.7,1352.6 2719,1345.4 2720.4,1338.2 2721.9,1331 2723.4,1323.8 2724.2,1316.6 2724.2,1309.4 2724.2,1302.2 2724.2,1295 2724.2,1287.8 2724.2,1280.6 2724.2,1273.4 2723.1,1266.2 2721.5,1259 2720,1251.8 2718.7,1244.6 2717.5,1237.4 2716.6,1230.2 2715.8,1223 2715.3,1215.8 2714.9,1208.6 2714.6,1201.4 2714.3,1194.2 2714.1,1187 2714.1,1179.8 2714.1,1172.6 2714.1,1165.4 2714.1,1158.2 2714.1,1151.1 2714.1,1143.9 2714.1,1136.7 2714.1,1129.5 2714.1,1122.3 2714.1,1115.1 2714.1,1107.9 2714.1,1100.7 2714.1,1093.5 2712.3,1093.5 2712.3,1100.7 2712.3,1107.9 2712.3,1115.1 2712.3,1122.3 2712.3,1129.5 2712.3,1136.7 2712.3,1143.9 2712.3,1151.1 2712.3,1158.2 2712.3,1165.4 2712.3,1172.6 2712.3,1179.8 2712.3,1187 2712.1,1194.2 2711.8,1201.4 2711.5,1208.6 2711.1,1215.8 2710.6,1223 2709.8,1230.2 2708.9,1237.4 2707.7,1244.6 2706.4,1251.8 2704.9,1259 2703.3,1266.2 2702.2,1273.4 2702.2,1280.6 2702.2,1287.8 2702.2,1295 2702.2,1302.2 2702.2,1309.4 2702.2,1316.6 2703,1323.8 2704.5,1331 2706,1338.2 2707.4,1345.4 2708.7,1352.6 2709.6,1359.8 2710.4,1366.9 2711,1374.1 2711.4,1381.3" fill="#f6c6a8" stroke="#d2581c" stroke-width="1.8" stroke-linejoin="round" fill-opacity="0.85"/>
<line x1="2713.2" y1="1377.5" x2="2713.2" y2="1097.4" stroke="#333" stroke-width="1.2" />
<rect x="2709.6" y="1264.6" width="7.2" height="48.6" fill="#404040" rx="1"/>
<circle cx="2713.2" cy="1289.9" r="2.2" fill="#fff"/>
<line x1="2710.2" y1="1371.6" x2="2716.2" y2="1371.6" stroke="#333" stroke-width="1.2" />
<line x1="2710.2" y1="1206.3" x2="2716.2" y2="1206.3" stroke="#333" stroke-width="1.2" />
<polygon points="2740.6,1396.9 2740.6,1390.6 2740.6,1384.4 2740.8,1378.1 2741,1371.8 2741.2,1365.5 2741.5,1359.3 2741.8,1353 2742.3,1346.7 2742.8,1340.4 2743.5,1334.2 2744.4,1327.9 2745.4,1321.6 2746.5,1315.4 2747.7,1309.1 2749,1302.8 2750.3,1296.5 2750.7,1290.3 2750.7,1284 2750.7,1277.7 2750.7,1271.4 2750.7,1265.2 2750.7,1258.9 2750.7,1252.6 2750.7,1246.4 2750.2,1240.1 2748.9,1233.8 2747.6,1227.5 2746.4,1221.3 2745.3,1215 2744.3,1208.7 2743.5,1202.4 2742.8,1196.2 2742.2,1189.9 2741.8,1183.6 2741.4,1177.4 2741.2,1171.1 2740.9,1164.8 2740.8,1158.5 2740.6,1152.3 2740.6,1146 2738.8,1146 2738.8,1152.3 2738.6,1158.5 2738.5,1164.8 2738.2,1171.1 2738,1177.4 2737.6,1183.6 2737.2,1189.9 2736.6,1196.2 2735.9,1202.4 2735.1,1208.7 2734.1,1215 2733,1221.3 2731.8,1227.5 2730.5,1233.8 2729.2,1240.1 2728.7,1246.4 2728.7,1252.6 2728.7,1258.9 2728.7,1265.2 2728.7,1271.4 2728.7,1277.7 2728.7,1284 2728.7,1290.3 2729.1,1296.5 2730.4,1302.8 2731.7,1309.1 2732.9,1315.4 2734,1321.6 2735,1327.9 2735.9,1334.2 2736.6,1340.4 2737.1,1346.7 2737.6,1353 2737.9,1359.3 2738.2,1365.5 2738.4,1371.8 2738.6,1378.1 2738.8,1384.4 2738.8,1390.6 2738.8,1396.9" fill="#c6c6c6" stroke="#555555" stroke-width="1.8" stroke-linejoin="round" fill-opacity="0.85"/>
<line x1="2739.7" y1="1393" x2="2739.7" y2="1149.9" stroke="#333" stroke-width="1.2" />
<rect x="2736.1" y="1245.2" width="7.2" height="64.2" fill="#404040" rx="1"/>
<circle cx="2739.7" cy="1272.4" r="2.2" fill="#fff"/>
<line x1="2736.7" y1="1386.4" x2="2742.7" y2="1386.4" stroke="#333" stroke-width="1.2" />
<line x1="2736.7" y1="1168.2" x2="2742.7" y2="1168.2" stroke="#333" stroke-width="1.2" />
<line x1="2309.5" y1="1396.9" x2="2309.5" y2="1401.9" stroke="#777" stroke-width="1.6" />
<text x="2309.5" y="1419" font-size="15.5" fill="#444" text-anchor="middle">Predicted</text>
<line x1="2439.4" y1="1396.9" x2="2439.4" y2="1401.9" stroke="#777" stroke-width="1.6" />
<text x="2439.4" y="1419" font-size="15.5" fill="#444" text-anchor="middle">Good</text>
<line x1="2570" y1="1396.9" x2="2570" y2="1401.9" stroke="#777" stroke-width="1.6" />
<text x="2570" y="1419" font-size="15.5" fill="#444" text-anchor="middle">Bad</text>
<line x1="2699.9" y1="1396.9" x2="2699.9" y2="1401.9" stroke="#777" stroke-width="1.6" />
<text x="2699.9" y="1419" font-size="15.5" fill="#444" text-anchor="middle">Explode</text>
<rect x="2497" y="1113.4" width="13.3" height="7.3" fill="#404040" rx="1"/>
<text x="2517.7" y="1122.2" font-size="17" fill="#111" textLength="76.8" lengthAdjust="spacingAndGlyphs">25%~75%</text>
<polygon points="2503.8,1136 2499.8,1143 2507.8,1143" fill="none" stroke="#444" stroke-width="1.5"/>
<text x="2517.7" y="1145.3" font-size="17" fill="#111" textLength="41.3" lengthAdjust="spacingAndGlyphs">Mean</text>
<circle cx="2503.8" cy="1162.1" r="2.4" fill="none" stroke="#444" stroke-width="1.3"/>
<text x="2517.7" y="1168" font-size="17" fill="#111" textLength="55.2" lengthAdjust="spacingAndGlyphs">Median</text>
<line x1="2834.7" y1="1356.8" x2="3158.4" y2="1356.8" stroke="#c4c4c4" stroke-width="1.2" stroke-dasharray="2.5,2"/>
<line x1="2843.2" y1="1371.6" x2="3005" y2="1090.1" stroke="#c4c4c4" stroke-width="1.2" stroke-dasharray="2.5,2"/>
<line x1="2988" y1="1090.1" x2="3149.9" y2="1371.6" stroke="#c4c4c4" stroke-width="1.2" stroke-dasharray="2.5,2"/>
<line x1="2843.2" y1="1342" x2="3149.9" y2="1342" stroke="#6a6a6a" stroke-width="1.7" />
<line x1="2860.3" y1="1371.6" x2="3013.5" y2="1104.9" stroke="#6a6a6a" stroke-width="1.7" />
<line x1="2979.5" y1="1104.9" x2="3132.8" y2="1371.6" stroke="#6a6a6a" stroke-width="1.7" />
<line x1="2851.7" y1="1327.2" x2="3141.3" y2="1327.2" stroke="#c4c4c4" stroke-width="1.2" stroke-dasharray="2.5,2"/>
<line x1="2877.3" y1="1371.6" x2="3022.1" y2="1119.7" stroke="#c4c4c4" stroke-width="1.2" stroke-dasharray="2.5,2"/>
<line x1="2971" y1="1119.7" x2="3115.8" y2="1371.6" stroke="#c4c4c4" stroke-width="1.2" stroke-dasharray="2.5,2"/>
<line x1="2860.3" y1="1312.3" x2="3132.8" y2="1312.3" stroke="#6a6a6a" stroke-width="1.7" />
<line x1="2894.3" y1="1371.6" x2="3030.6" y2="1134.6" stroke="#6a6a6a" stroke-width="1.7" />
<line x1="2962.4" y1="1134.6" x2="3098.8" y2="1371.6" stroke="#6a6a6a" stroke-width="1.7" />
<line x1="2868.8" y1="1297.5" x2="3124.3" y2="1297.5" stroke="#c4c4c4" stroke-width="1.2" stroke-dasharray="2.5,2"/>
<line x1="2911.4" y1="1371.6" x2="3039.1" y2="1149.4" stroke="#c4c4c4" stroke-width="1.2" stroke-dasharray="2.5,2"/>
<line x1="2953.9" y1="1149.4" x2="3081.7" y2="1371.6" stroke="#c4c4c4" stroke-width="1.2" stroke-dasharray="2.5,2"/>
<line x1="2877.3" y1="1282.7" x2="3115.8" y2="1282.7" stroke="#6a6a6a" stroke-width="1.7" />
<line x1="2928.4" y1="1371.6" x2="3047.6" y2="1164.2" stroke="#6a6a6a" stroke-width="1.7" />
<line x1="2945.4" y1="1164.2" x2="3064.7" y2="1371.6" stroke="#6a6a6a" stroke-width="1.7" />
<line x1="2885.8" y1="1267.9" x2="3107.3" y2="1267.9" stroke="#c4c4c4" stroke-width="1.2" stroke-dasharray="2.5,2"/>
<line x1="2945.4" y1="1371.6" x2="3056.1" y2="1179" stroke="#c4c4c4" stroke-width="1.2" stroke-dasharray="2.5,2"/>
<line x1="2936.9" y1="1179" x2="3047.7" y2="1371.6" stroke="#c4c4c4" stroke-width="1.2" stroke-dasharray="2.5,2"/>
<line x1="2894.3" y1="1253.1" x2="3098.7" y2="1253.1" stroke="#6a6a6a" stroke-width="1.7" />
<line x1="2962.5" y1="1371.6" x2="3064.7" y2="1193.8" stroke="#6a6a6a" stroke-width="1.7" />
<line x1="2928.4" y1="1193.8" x2="3030.6" y2="1371.6" stroke="#6a6a6a" stroke-width="1.7" />
<line x1="2902.8" y1="1238.3" x2="3090.2" y2="1238.3" stroke="#c4c4c4" stroke-width="1.2" stroke-dasharray="2.5,2"/>
<line x1="2979.5" y1="1371.6" x2="3073.2" y2="1208.6" stroke="#c4c4c4" stroke-width="1.2" stroke-dasharray="2.5,2"/>
<line x1="2919.9" y1="1208.6" x2="3013.6" y2="1371.6" stroke="#c4c4c4" stroke-width="1.2" stroke-dasharray="2.5,2"/>
<line x1="2911.3" y1="1223.4" x2="3081.7" y2="1223.4" stroke="#6a6a6a" stroke-width="1.7" />
<line x1="2996.6" y1="1371.6" x2="3081.7" y2="1223.4" stroke="#6a6a6a" stroke-width="1.7" />
<line x1="2911.3" y1="1223.4" x2="2996.6" y2="1371.6" stroke="#6a6a6a" stroke-width="1.7" />
<line x1="2919.9" y1="1208.6" x2="3073.2" y2="1208.6" stroke="#c4c4c4" stroke-width="1.2" stroke-dasharray="2.5,2"/>
<line x1="3013.6" y1="1371.6" x2="3090.2" y2="1238.3" stroke="#c4c4c4" stroke-width="1.2" stroke-dasharray="2.5,2"/>
<line x1="2902.8" y1="1238.3" x2="2979.5" y2="1371.6" stroke="#c4c4c4" stroke-width="1.2" stroke-dasharray="2.5,2"/>
<line x1="2928.4" y1="1193.8" x2="3064.7" y2="1193.8" stroke="#6a6a6a" stroke-width="1.7" />
<line x1="3030.6" y1="1371.6" x2="3098.7" y2="1253.1" stroke="#6a6a6a" stroke-width="1.7" />
<line x1="2894.3" y1="1253.1" x2="2962.5" y2="1371.6" stroke="#6a6a6a" stroke-width="1.7" />
<line x1="2936.9" y1="1179" x2="3056.1" y2="1179" stroke="#c4c4c4" stroke-width="1.2" stroke-dasharray="2.5,2"/>
<line x1="3047.7" y1="1371.6" x2="3107.3" y2="1267.9" stroke="#c4c4c4" stroke-width="1.2" stroke-dasharray="2.5,2"/>
<line x1="2885.8" y1="1267.9" x2="2945.4" y2="1371.6" stroke="#c4c4c4" stroke-width="1.2" stroke-dasharray="2.5,2"/>
<line x1="2945.4" y1="1164.2" x2="3047.6" y2="1164.2" stroke="#6a6a6a" stroke-width="1.7" />
<line x1="3064.7" y1="1371.6" x2="3115.8" y2="1282.7" stroke="#6a6a6a" stroke-width="1.7" />
<line x1="2877.3" y1="1282.7" x2="2928.4" y2="1371.6" stroke="#6a6a6a" stroke-width="1.7" />
<line x1="2953.9" y1="1149.4" x2="3039.1" y2="1149.4" stroke="#c4c4c4" stroke-width="1.2" stroke-dasharray="2.5,2"/>
<line x1="3081.7" y1="1371.6" x2="3124.3" y2="1297.5" stroke="#c4c4c4" stroke-width="1.2" stroke-dasharray="2.5,2"/>
<line x1="2868.8" y1="1297.5" x2="2911.4" y2="1371.6" stroke="#c4c4c4" stroke-width="1.2" stroke-dasharray="2.5,2"/>
<line x1="2962.4" y1="1134.6" x2="3030.6" y2="1134.6" stroke="#6a6a6a" stroke-width="1.7" />
<line x1="3098.8" y1="1371.6" x2="3132.8" y2="1312.3" stroke="#6a6a6a" stroke-width="1.7" />
<line x1="2860.3" y1="1312.3" x2="2894.3" y2="1371.6" stroke="#6a6a6a" stroke-width="1.7" />
<line x1="2971" y1="1119.7" x2="3022.1" y2="1119.7" stroke="#c4c4c4" stroke-width="1.2" stroke-dasharray="2.5,2"/>
<line x1="3115.8" y1="1371.6" x2="3141.3" y2="1327.2" stroke="#c4c4c4" stroke-width="1.2" stroke-dasharray="2.5,2"/>
<line x1="2851.7" y1="1327.2" x2="2877.3" y2="1371.6" stroke="#c4c4c4" stroke-width="1.2" stroke-dasharray="2.5,2"/>
<line x1="2979.5" y1="1104.9" x2="3013.5" y2="1104.9" stroke="#6a6a6a" stroke-width="1.7" />
<line x1="3132.8" y1="1371.6" x2="3149.9" y2="1342" stroke="#6a6a6a" stroke-width="1.7" />
<line x1="2843.2" y1="1342" x2="2860.3" y2="1371.6" stroke="#6a6a6a" stroke-width="1.7" />
<line x1="2988" y1="1090.1" x2="3005" y2="1090.1" stroke="#c4c4c4" stroke-width="1.2" stroke-dasharray="2.5,2"/>
<line x1="3149.9" y1="1371.6" x2="3158.4" y2="1356.8" stroke="#c4c4c4" stroke-width="1.2" stroke-dasharray="2.5,2"/>
<line x1="2834.7" y1="1356.8" x2="2843.2" y2="1371.6" stroke="#c4c4c4" stroke-width="1.2" stroke-dasharray="2.5,2"/>
<polygon points="2996.5,1075.3 2826.2,1371.6 3166.9,1371.6" fill="none" stroke="#555" stroke-width="2.2"/>
<line x1="2826.2" y1="1371.6" x2="2822.7" y2="1377.6" stroke="#555" stroke-width="1.5" />
<text x="2826.2" y="1391.4" font-size="15" fill="#444" text-anchor="middle" textLength="20" lengthAdjust="spacingAndGlyphs">0.0</text>
<line x1="3166.9" y1="1371.6" x2="3173.9" y2="1371.6" stroke="#555" stroke-width="1.5" />
<text x="3177.9" y="1377.1" font-size="15" fill="#444" textLength="20" lengthAdjust="spacingAndGlyphs">0.0</text>
<line x1="2996.5" y1="1075.3" x2="2993" y2="1069.3" stroke="#555" stroke-width="1.5" />
<text x="2982" y="1064.3" font-size="15" fill="#444" text-anchor="middle" textLength="20" lengthAdjust="spacingAndGlyphs">0.0</text>
<line x1="2860.3" y1="1371.6" x2="2856.8" y2="1377.6" stroke="#555" stroke-width="1.5" />
<text x="2860.3" y="1391.4" font-size="15" fill="#444" text-anchor="middle" textLength="20" lengthAdjust="spacingAndGlyphs">0.1</text>
<line x1="3149.9" y1="1342" x2="3156.9" y2="1342" stroke="#555" stroke-width="1.5" />
<text x="3160.9" y="1347.5" font-size="15" fill="#444" textLength="20" lengthAdjust="spacingAndGlyphs">0.1</text>
<line x1="2979.5" y1="1104.9" x2="2976" y2="1098.9" stroke="#555" stroke-width="1.5" />
<text x="2965" y="1093.9" font-size="15" fill="#444" text-anchor="middle" textLength="20" lengthAdjust="spacingAndGlyphs">0.1</text>
<line x1="2894.3" y1="1371.6" x2="2890.8" y2="1377.6" stroke="#555" stroke-width="1.5" />
<text x="2894.3" y="1391.4" font-size="15" fill="#444" text-anchor="middle" textLength="20" lengthAdjust="spacingAndGlyphs">0.2</text>
<line x1="3132.8" y1="1312.3" x2="3139.8" y2="1312.3" stroke="#555" stroke-width="1.5" />
<text x="3143.8" y="1317.8" font-size="15" fill="#444" textLength="20" lengthAdjust="spacingAndGlyphs">0.2</text>
<line x1="2962.4" y1="1134.6" x2="2958.9" y2="1128.6" stroke="#555" stroke-width="1.5" />
<text x="2947.9" y="1123.6" font-size="15" fill="#444" text-anchor="middle" textLength="20" lengthAdjust="spacingAndGlyphs">0.2</text>
<line x1="2928.4" y1="1371.6" x2="2924.9" y2="1377.6" stroke="#555" stroke-width="1.5" />
<text x="2928.4" y="1391.4" font-size="15" fill="#444" text-anchor="middle" textLength="20" lengthAdjust="spacingAndGlyphs">0.3</text>
<line x1="3115.8" y1="1282.7" x2="3122.8" y2="1282.7" stroke="#555" stroke-width="1.5" />
<text x="3126.8" y="1288.2" font-size="15" fill="#444" textLength="20" lengthAdjust="spacingAndGlyphs">0.3</text>
<line x1="2945.4" y1="1164.2" x2="2941.9" y2="1158.2" stroke="#555" stroke-width="1.5" />
<text x="2930.9" y="1153.2" font-size="15" fill="#444" text-anchor="middle" textLength="20" lengthAdjust="spacingAndGlyphs">0.3</text>
<line x1="2962.5" y1="1371.6" x2="2959" y2="1377.6" stroke="#555" stroke-width="1.5" />
<text x="2962.5" y="1391.4" font-size="15" fill="#444" text-anchor="middle" textLength="20" lengthAdjust="spacingAndGlyphs">0.4</text>
<line x1="3098.7" y1="1253.1" x2="3105.7" y2="1253.1" stroke="#555" stroke-width="1.5" />
<text x="3109.7" y="1258.6" font-size="15" fill="#444" textLength="20" lengthAdjust="spacingAndGlyphs">0.4</text>
<line x1="2928.4" y1="1193.8" x2="2924.9" y2="1187.8" stroke="#555" stroke-width="1.5" />
<text x="2913.9" y="1182.8" font-size="15" fill="#444" text-anchor="middle" textLength="20" lengthAdjust="spacingAndGlyphs">0.4</text>
<line x1="2996.6" y1="1371.6" x2="2993.1" y2="1377.6" stroke="#555" stroke-width="1.5" />
<text x="2996.6" y="1391.4" font-size="15" fill="#444" text-anchor="middle" textLength="20" lengthAdjust="spacingAndGlyphs">0.5</text>
<line x1="3081.7" y1="1223.4" x2="3088.7" y2="1223.4" stroke="#555" stroke-width="1.5" />
<text x="3092.7" y="1228.9" font-size="15" fill="#444" textLength="20" lengthAdjust="spacingAndGlyphs">0.5</text>
<line x1="2911.3" y1="1223.4" x2="2907.8" y2="1217.4" stroke="#555" stroke-width="1.5" />
<text x="2896.8" y="1212.4" font-size="15" fill="#444" text-anchor="middle" textLength="20" lengthAdjust="spacingAndGlyphs">0.5</text>
<line x1="3030.6" y1="1371.6" x2="3027.1" y2="1377.6" stroke="#555" stroke-width="1.5" />
<text x="3030.6" y="1391.4" font-size="15" fill="#444" text-anchor="middle" textLength="20" lengthAdjust="spacingAndGlyphs">0.6</text>
<line x1="3064.7" y1="1193.8" x2="3071.7" y2="1193.8" stroke="#555" stroke-width="1.5" />
<text x="3075.7" y="1199.3" font-size="15" fill="#444" textLength="20" lengthAdjust="spacingAndGlyphs">0.6</text>
<line x1="2894.3" y1="1253.1" x2="2890.8" y2="1247.1" stroke="#555" stroke-width="1.5" />
<text x="2879.8" y="1242.1" font-size="15" fill="#444" text-anchor="middle" textLength="20" lengthAdjust="spacingAndGlyphs">0.6</text>
<line x1="3064.7" y1="1371.6" x2="3061.2" y2="1377.6" stroke="#555" stroke-width="1.5" />
<text x="3064.7" y="1391.4" font-size="15" fill="#444" text-anchor="middle" textLength="20" lengthAdjust="spacingAndGlyphs">0.7</text>
<line x1="3047.6" y1="1164.2" x2="3054.6" y2="1164.2" stroke="#555" stroke-width="1.5" />
<text x="3058.6" y="1169.7" font-size="15" fill="#444" textLength="20" lengthAdjust="spacingAndGlyphs">0.7</text>
<line x1="2877.3" y1="1282.7" x2="2873.8" y2="1276.7" stroke="#555" stroke-width="1.5" />
<text x="2862.8" y="1271.7" font-size="15" fill="#444" text-anchor="middle" textLength="20" lengthAdjust="spacingAndGlyphs">0.7</text>
<line x1="3098.8" y1="1371.6" x2="3095.3" y2="1377.6" stroke="#555" stroke-width="1.5" />
<text x="3098.8" y="1391.4" font-size="15" fill="#444" text-anchor="middle" textLength="20" lengthAdjust="spacingAndGlyphs">0.8</text>
<line x1="3030.6" y1="1134.6" x2="3037.6" y2="1134.6" stroke="#555" stroke-width="1.5" />
<text x="3041.6" y="1140.1" font-size="15" fill="#444" textLength="20" lengthAdjust="spacingAndGlyphs">0.8</text>
<line x1="2860.3" y1="1312.3" x2="2856.8" y2="1306.3" stroke="#555" stroke-width="1.5" />
<text x="2845.8" y="1301.3" font-size="15" fill="#444" text-anchor="middle" textLength="20" lengthAdjust="spacingAndGlyphs">0.8</text>
<line x1="3132.8" y1="1371.6" x2="3129.3" y2="1377.6" stroke="#555" stroke-width="1.5" />
<text x="3132.8" y="1391.4" font-size="15" fill="#444" text-anchor="middle" textLength="20" lengthAdjust="spacingAndGlyphs">0.9</text>
<line x1="3013.5" y1="1104.9" x2="3020.5" y2="1104.9" stroke="#555" stroke-width="1.5" />
<text x="3024.5" y="1110.4" font-size="15" fill="#444" textLength="20" lengthAdjust="spacingAndGlyphs">0.9</text>
<line x1="2843.2" y1="1342" x2="2839.7" y2="1336" stroke="#555" stroke-width="1.5" />
<text x="2828.7" y="1331" font-size="15" fill="#444" text-anchor="middle" textLength="20" lengthAdjust="spacingAndGlyphs">0.9</text>
<line x1="3166.9" y1="1371.6" x2="3163.4" y2="1377.6" stroke="#555" stroke-width="1.5" />
<text x="3166.9" y="1391.4" font-size="15" fill="#444" text-anchor="middle" textLength="20" lengthAdjust="spacingAndGlyphs">1.0</text>
<line x1="2996.5" y1="1075.3" x2="3003.5" y2="1075.3" stroke="#555" stroke-width="1.5" />
<text x="3007.5" y="1080.8" font-size="15" fill="#444" textLength="20" lengthAdjust="spacingAndGlyphs">1.0</text>
<line x1="2826.2" y1="1371.6" x2="2822.7" y2="1365.6" stroke="#555" stroke-width="1.5" />
<text x="2811.7" y="1360.6" font-size="15" fill="#444" text-anchor="middle" textLength="20" lengthAdjust="spacingAndGlyphs">1.0</text>
<text x="2997" y="1412" font-size="17" fill="#333" text-anchor="middle">IR</text>
<text x="2873.4" y="1207" font-size="17" fill="#333" text-anchor="middle" textLength="70" lengthAdjust="spacingAndGlyphs" transform="rotate(-60 2873.4 1207)">Numerical</text>
<text x="3119.4" y="1206" font-size="17" fill="#333" text-anchor="middle" textLength="31" lengthAdjust="spacingAndGlyphs" transform="rotate(60 3119.4 1206)">RGB</text>
<circle cx="2953.3" cy="1234.8" r="3.6" fill="url(#pB)"/>
<circle cx="2944.9" cy="1234.5" r="3.6" fill="url(#pB)"/>
<circle cx="2969" cy="1236.9" r="3.6" fill="url(#pB)"/>
<circle cx="2920.6" cy="1243.4" r="3.6" fill="url(#pB)"/>
<circle cx="2985.8" cy="1230.9" r="3.6" fill="url(#pR)"/>
<circle cx="2963.4" cy="1224" r="3.6" fill="url(#pB)"/>
<circle cx="3015.5" cy="1207" r="3.6" fill="url(#pR)"/>
<circle cx="2950.1" cy="1238.1" r="3.6" fill="url(#pB)"/>
<circle cx="2954.2" cy="1211.6" r="3.6" fill="url(#pB)"/>
<circle cx="3009.8" cy="1227" r="3.6" fill="url(#pR)"/>
<circle cx="2992.5" cy="1236.9" r="3.6" fill="url(#pR)"/>
<circle cx="2993.3" cy="1163.5" r="3.6" fill="url(#pO)"/>
<circle cx="2949.9" cy="1238.7" r="3.6" fill="url(#pB)"/>
<circle cx="2989.6" cy="1144.7" r="3.6" fill="url(#pG)"/>
<circle cx="3051.5" cy="1212.6" r="3.6" fill="url(#pR)"/>
<circle cx="2948" cy="1195.1" r="3.6" fill="url(#pG)"/>
<circle cx="2960.6" cy="1208.4" r="3.6" fill="url(#pO)"/>
<circle cx="3003.8" cy="1241.2" r="3.6" fill="url(#pR)"/>
<circle cx="2947.1" cy="1221.4" r="3.6" fill="url(#pB)"/>
<circle cx="2967.7" cy="1223" r="3.6" fill="url(#pR)"/>
<circle cx="2972.1" cy="1203.2" r="3.6" fill="url(#pB)"/>
<circle cx="2991.8" cy="1158.8" r="3.6" fill="url(#pG)"/>
<circle cx="2994.9" cy="1147.1" r="3.6" fill="url(#pO)"/>
<circle cx="3007.5" cy="1237.4" r="3.6" fill="url(#pR)"/>
<circle cx="2995" cy="1191.1" r="3.6" fill="url(#pR)"/>
<circle cx="2996.6" cy="1210.6" r="3.6" fill="url(#pR)"/>
<circle cx="2920.4" cy="1250.1" r="3.6" fill="url(#pB)"/>
<circle cx="3000.4" cy="1198.6" r="3.6" fill="url(#pR)"/>
<circle cx="2948.7" cy="1252.7" r="3.6" fill="url(#pB)"/>
<circle cx="2981.4" cy="1248.8" r="3.6" fill="url(#pR)"/>
<circle cx="2952.3" cy="1233.5" r="3.6" fill="url(#pB)"/>
<circle cx="2933.1" cy="1226.9" r="3.6" fill="url(#pB)"/>
<circle cx="3003.6" cy="1186.9" r="3.6" fill="url(#pB)"/>
<circle cx="2950" cy="1199.2" r="3.6" fill="url(#pB)"/>
<circle cx="2998.5" cy="1226.2" r="3.6" fill="url(#pR)"/>
<circle cx="2985.9" cy="1163.8" r="3.6" fill="url(#pG)"/>
<circle cx="2954.8" cy="1209.8" r="3.6" fill="url(#pB)"/>
<circle cx="2963.7" cy="1216.7" r="3.6" fill="url(#pB)"/>
<circle cx="3038.5" cy="1281.7" r="3.6" fill="url(#pR)"/>
<circle cx="2945" cy="1229.7" r="3.6" fill="url(#pB)"/>
<circle cx="2968.8" cy="1203.9" r="3.6" fill="url(#pR)"/>
<circle cx="2936.1" cy="1235.8" r="3.6" fill="url(#pB)"/>
<circle cx="3021.7" cy="1234" r="3.6" fill="url(#pR)"/>
<circle cx="2997.4" cy="1207.5" r="3.6" fill="url(#pR)"/>
<circle cx="2993.7" cy="1116.6" r="3.6" fill="url(#pO)"/>
<circle cx="2949.8" cy="1234" r="3.6" fill="url(#pO)"/>
<circle cx="2991.2" cy="1199.1" r="3.6" fill="url(#pB)"/>
<circle cx="2994.8" cy="1216.7" r="3.6" fill="url(#pR)"/>
<circle cx="2920.8" cy="1242.7" r="3.6" fill="url(#pB)"/>
<circle cx="3010.5" cy="1237.9" r="3.6" fill="url(#pR)"/>
<circle cx="2965.5" cy="1256.1" r="3.6" fill="url(#pO)"/>
<circle cx="2978.2" cy="1221.6" r="3.6" fill="url(#pR)"/>
<circle cx="2992" cy="1209.4" r="3.6" fill="url(#pR)"/>
<circle cx="2978.3" cy="1219.6" r="3.6" fill="url(#pB)"/>
<circle cx="2979.3" cy="1225.2" r="3.6" fill="url(#pR)"/>
<circle cx="2956" cy="1230.2" r="3.6" fill="url(#pB)"/>
<circle cx="2989.9" cy="1162" r="3.6" fill="url(#pO)"/>
<circle cx="2959.3" cy="1231.6" r="3.6" fill="url(#pB)"/>
<circle cx="2956.5" cy="1199.1" r="3.6" fill="url(#pG)"/>
<circle cx="2926.5" cy="1209.2" r="3.6" fill="url(#pB)"/>
<circle cx="3007.1" cy="1221.1" r="3.6" fill="url(#pR)"/>
<circle cx="2962" cy="1224.8" r="3.6" fill="url(#pB)"/>
<circle cx="3031.9" cy="1235.4" r="3.6" fill="url(#pR)"/>
<circle cx="2994.1" cy="1233.7" r="3.6" fill="url(#pR)"/>
<circle cx="2983" cy="1178.1" r="3.6" fill="url(#pB)"/>
<circle cx="2916.7" cy="1249.3" r="3.6" fill="url(#pO)"/>
<circle cx="2966.4" cy="1168.3" r="3.6" fill="url(#pB)"/>
<circle cx="2955.3" cy="1254.5" r="3.6" fill="url(#pO)"/>
<circle cx="2943.5" cy="1235.1" r="3.6" fill="url(#pB)"/>
<circle cx="2960.2" cy="1192.2" r="3.6" fill="url(#pB)"/>
<circle cx="3024.2" cy="1273.6" r="3.6" fill="url(#pR)"/>
<circle cx="2983.1" cy="1234.6" r="3.6" fill="url(#pR)"/>
<circle cx="2981.8" cy="1242.7" r="3.6" fill="url(#pB)"/>
<circle cx="2972.4" cy="1254.2" r="3.6" fill="url(#pB)"/>
<circle cx="3043.1" cy="1250.6" r="3.6" fill="url(#pR)"/>
<circle cx="2995.6" cy="1234.4" r="3.6" fill="url(#pR)"/>
<circle cx="2998" cy="1225" r="3.6" fill="url(#pR)"/>
<circle cx="2937.2" cy="1205.2" r="3.6" fill="url(#pB)"/>
<circle cx="2998.2" cy="1129.3" r="3.6" fill="url(#pG)"/>
<circle cx="2959.6" cy="1170.1" r="3.6" fill="url(#pB)"/>
<circle cx="2999.7" cy="1147.6" r="3.6" fill="url(#pO)"/>
<circle cx="2965.7" cy="1216.1" r="3.6" fill="url(#pB)"/>
<circle cx="2982.9" cy="1176.3" r="3.6" fill="url(#pG)"/>
<circle cx="2948.3" cy="1254.9" r="3.6" fill="url(#pO)"/>
<circle cx="2993.4" cy="1185.7" r="3.6" fill="url(#pG)"/>
<circle cx="2945.5" cy="1212.6" r="3.6" fill="url(#pB)"/>
<circle cx="2977.6" cy="1170.7" r="3.6" fill="url(#pB)"/>
<circle cx="2951.7" cy="1224.5" r="3.6" fill="url(#pB)"/>
<circle cx="2998.1" cy="1197.1" r="3.6" fill="url(#pR)"/>
<circle cx="2991.9" cy="1198.7" r="3.6" fill="url(#pR)"/>
<circle cx="2940.4" cy="1183.2" r="3.6" fill="url(#pB)"/>
<circle cx="3023.7" cy="1240.7" r="3.6" fill="url(#pR)"/>
<circle cx="2973.5" cy="1187" r="3.6" fill="url(#pO)"/>
<circle cx="3050.6" cy="1182.7" r="3.6" fill="url(#pR)"/>
<circle cx="2937.1" cy="1263.4" r="3.6" fill="url(#pO)"/>
<circle cx="2982.3" cy="1222.6" r="3.6" fill="url(#pR)"/>
<circle cx="2984.2" cy="1154.9" r="3.6" fill="url(#pO)"/>
<circle cx="3054.8" cy="1219.5" r="3.6" fill="url(#pR)"/>
<circle cx="2984.4" cy="1144" r="3.6" fill="url(#pG)"/>
<circle cx="2989.7" cy="1185.6" r="3.6" fill="url(#pO)"/>
<circle cx="2953.5" cy="1212.4" r="3.6" fill="url(#pO)"/>
<circle cx="2994.6" cy="1148" r="3.6" fill="url(#pG)"/>
<circle cx="2963.1" cy="1255.4" r="3.6" fill="url(#pO)"/>
<circle cx="2957" cy="1270.5" r="3.6" fill="url(#pB)"/>
<circle cx="3017.8" cy="1218.3" r="3.6" fill="url(#pR)"/>
<circle cx="2986.4" cy="1199" r="3.6" fill="url(#pR)"/>
<circle cx="2963.4" cy="1248.2" r="3.6" fill="url(#pB)"/>
<circle cx="2936.4" cy="1220.2" r="3.6" fill="url(#pB)"/>
<circle cx="2958" cy="1242" r="3.6" fill="url(#pB)"/>
<circle cx="2963.8" cy="1210.7" r="3.6" fill="url(#pB)"/>
<circle cx="2992.8" cy="1235.4" r="3.6" fill="url(#pR)"/>
<circle cx="2945.2" cy="1256.7" r="3.6" fill="url(#pO)"/>
<circle cx="2929" cy="1208.7" r="3.6" fill="url(#pB)"/>
<circle cx="2952.6" cy="1245.9" r="3.6" fill="url(#pB)"/>
<circle cx="3024.5" cy="1240.4" r="3.6" fill="url(#pR)"/>
<circle cx="2999.2" cy="1144.5" r="3.6" fill="url(#pO)"/>
<circle cx="2949.5" cy="1218.1" r="3.6" fill="url(#pB)"/>
<circle cx="2934.6" cy="1192.6" r="3.6" fill="url(#pB)"/>
<circle cx="3011.7" cy="1231.2" r="3.6" fill="url(#pR)"/>
<circle cx="2941.7" cy="1243.5" r="3.6" fill="url(#pB)"/>
<circle cx="2966.3" cy="1193" r="3.6" fill="url(#pB)"/>
<circle cx="2980.9" cy="1134.2" r="3.6" fill="url(#pO)"/>
<circle cx="2992.4" cy="1125.3" r="3.6" fill="url(#pO)"/>
<circle cx="2914.9" cy="1268.1" r="3.6" fill="url(#pO)"/>
<circle cx="2997" cy="1209.1" r="3.6" fill="url(#pR)"/>
<circle cx="2954.4" cy="1238.5" r="3.6" fill="url(#pB)"/>
<circle cx="3005.8" cy="1195" r="3.6" fill="url(#pR)"/>
<circle cx="2991" cy="1187.8" r="3.6" fill="url(#pR)"/>
<circle cx="2987.1" cy="1231.7" r="3.6" fill="url(#pR)"/>
<circle cx="2949.1" cy="1242.8" r="3.6" fill="url(#pB)"/>
<circle cx="2961.7" cy="1237" r="3.6" fill="url(#pB)"/>
<circle cx="3008.1" cy="1233.9" r="3.6" fill="url(#pR)"/>
<circle cx="2989.3" cy="1126.7" r="3.6" fill="url(#pO)"/>
<circle cx="3025.3" cy="1250.8" r="3.6" fill="url(#pR)"/>
<circle cx="2986.1" cy="1149.2" r="3.6" fill="url(#pG)"/>
<circle cx="2945.7" cy="1231.7" r="3.6" fill="url(#pO)"/>
<circle cx="2983" cy="1155.4" r="3.6" fill="url(#pO)"/>
<circle cx="2961.2" cy="1188.7" r="3.6" fill="url(#pO)"/>
<circle cx="2989" cy="1170.9" r="3.6" fill="url(#pO)"/>
<circle cx="2936.6" cy="1253.2" r="3.6" fill="url(#pB)"/>
<circle cx="2999.1" cy="1169.2" r="3.6" fill="url(#pG)"/>
<circle cx="2995.9" cy="1200.6" r="3.6" fill="url(#pR)"/>
<circle cx="2967" cy="1251.7" r="3.6" fill="url(#pB)"/>
<circle cx="2947" cy="1196.8" r="3.6" fill="url(#pB)"/>
<circle cx="2990.1" cy="1125.6" r="3.6" fill="url(#pG)"/>
<circle cx="3053.7" cy="1234.8" r="3.6" fill="url(#pR)"/>
<circle cx="2990" cy="1244.8" r="3.6" fill="url(#pB)"/>
<circle cx="2995.7" cy="1220.9" r="3.6" fill="url(#pR)"/>
<circle cx="2941.7" cy="1220" r="3.6" fill="url(#pB)"/>
<circle cx="2949.8" cy="1240.5" r="3.6" fill="url(#pB)"/>
<circle cx="2989" cy="1179.7" r="3.6" fill="url(#pO)"/>
<circle cx="2931.5" cy="1221.7" r="3.6" fill="url(#pB)"/>
<circle cx="3022" cy="1241.8" r="3.6" fill="url(#pR)"/>
<circle cx="3005.1" cy="1205.6" r="3.6" fill="url(#pR)"/>
<circle cx="2962.8" cy="1251.8" r="3.6" fill="url(#pB)"/>
<circle cx="2956.7" cy="1245.5" r="3.6" fill="url(#pO)"/>
<circle cx="2980.4" cy="1158.9" r="3.6" fill="url(#pB)"/>
<circle cx="2966.2" cy="1199.5" r="3.6" fill="url(#pO)"/>
<circle cx="2996.8" cy="1144.5" r="3.6" fill="url(#pO)"/>
<circle cx="2952.5" cy="1198.4" r="3.6" fill="url(#pB)"/>
<circle cx="2986.5" cy="1229.1" r="3.6" fill="url(#pB)"/>
<circle cx="2991.6" cy="1134.3" r="3.6" fill="url(#pO)"/>
<circle cx="2929.4" cy="1237.5" r="3.6" fill="url(#pO)"/>
<circle cx="2964.8" cy="1218.4" r="3.6" fill="url(#pB)"/>
<circle cx="2952" cy="1236.1" r="3.6" fill="url(#pB)"/>
<circle cx="3008.2" cy="1225.6" r="3.6" fill="url(#pR)"/>
<circle cx="2947.8" cy="1225.8" r="3.6" fill="url(#pB)"/>
<circle cx="2982.9" cy="1108.6" r="3.6" fill="url(#pO)"/>
<circle cx="2925.3" cy="1210" r="3.6" fill="url(#pB)"/>
<circle cx="2981" cy="1122.4" r="3.6" fill="url(#pG)"/>
<circle cx="2959.2" cy="1202.7" r="3.6" fill="url(#pB)"/>
<circle cx="2938.8" cy="1242.4" r="3.6" fill="url(#pB)"/>
<circle cx="3004.6" cy="1184.7" r="3.6" fill="url(#pB)"/>
<circle cx="2938.2" cy="1234.6" r="3.6" fill="url(#pB)"/>
<circle cx="3051.3" cy="1235.6" r="3.6" fill="url(#pR)"/>
<circle cx="2988.2" cy="1144.4" r="3.6" fill="url(#pO)"/>
<circle cx="2949.8" cy="1196.7" r="3.6" fill="url(#pG)"/>
<circle cx="2997.7" cy="1232.1" r="3.6" fill="url(#pR)"/>
<circle cx="2972.7" cy="1166" r="3.6" fill="url(#pB)"/>
<circle cx="2989.7" cy="1155.3" r="3.6" fill="url(#pG)"/>
<circle cx="3010.5" cy="1222.4" r="3.6" fill="url(#pR)"/>
<circle cx="2995.4" cy="1143.3" r="3.6" fill="url(#pO)"/>
<circle cx="2996.3" cy="1161.5" r="3.6" fill="url(#pO)"/>
<circle cx="2949" cy="1241.1" r="3.6" fill="url(#pB)"/>
<circle cx="2944" cy="1202.5" r="3.6" fill="url(#pB)"/>
<circle cx="2996.2" cy="1224.7" r="3.6" fill="url(#pR)"/>
<circle cx="2972.5" cy="1201.6" r="3.6" fill="url(#pB)"/>
<circle cx="2996" cy="1149" r="3.6" fill="url(#pO)"/>
<circle cx="3050.4" cy="1237.7" r="3.6" fill="url(#pR)"/>
<circle cx="2960" cy="1228.5" r="3.6" fill="url(#pB)"/>
<circle cx="2955.2" cy="1224.8" r="3.6" fill="url(#pB)"/>
<circle cx="3001.3" cy="1222.9" r="3.6" fill="url(#pR)"/>
<circle cx="2941.1" cy="1226.7" r="3.6" fill="url(#pB)"/>
<circle cx="2947.4" cy="1227.5" r="3.6" fill="url(#pB)"/>
<circle cx="2987.9" cy="1198.2" r="3.6" fill="url(#pR)"/>
<circle cx="2924.5" cy="1214.9" r="3.6" fill="url(#pB)"/>
<circle cx="2956" cy="1226.8" r="3.6" fill="url(#pB)"/>
<circle cx="3009.2" cy="1228" r="3.6" fill="url(#pR)"/>
<circle cx="3008.1" cy="1192" r="3.6" fill="url(#pR)"/>
<circle cx="2960.9" cy="1216.5" r="3.6" fill="url(#pB)"/>
<circle cx="2987.4" cy="1136.2" r="3.6" fill="url(#pO)"/>
<circle cx="2996.7" cy="1222.1" r="3.6" fill="url(#pR)"/>
<circle cx="2934.8" cy="1214.8" r="3.6" fill="url(#pB)"/>
<circle cx="2999.4" cy="1266.1" r="3.6" fill="url(#pR)"/>
<circle cx="2990.1" cy="1223.8" r="3.6" fill="url(#pR)"/>
<circle cx="2943.6" cy="1214.5" r="3.6" fill="url(#pB)"/>
<circle cx="2961.5" cy="1253.8" r="3.6" fill="url(#pB)"/>
<circle cx="2941.9" cy="1265.6" r="3.6" fill="url(#pO)"/>
<circle cx="2958.4" cy="1240.1" r="3.6" fill="url(#pB)"/>
<circle cx="2932.3" cy="1229.3" r="3.6" fill="url(#pB)"/>
<circle cx="2946.6" cy="1220.7" r="3.6" fill="url(#pB)"/>
<circle cx="2990.3" cy="1122.8" r="3.6" fill="url(#pO)"/>
<circle cx="2996" cy="1138.9" r="3.6" fill="url(#pO)"/>
<circle cx="3001.6" cy="1146.5" r="3.6" fill="url(#pO)"/>
<circle cx="2995.2" cy="1175.7" r="3.6" fill="url(#pR)"/>
<circle cx="2998.8" cy="1208" r="3.6" fill="url(#pR)"/>
<circle cx="2922.2" cy="1238.4" r="3.6" fill="url(#pB)"/>
<circle cx="2954.9" cy="1208" r="3.6" fill="url(#pB)"/>
<circle cx="2914.6" cy="1228.6" r="3.6" fill="url(#pB)"/>
<circle cx="2986.9" cy="1188.8" r="3.6" fill="url(#pG)"/>
<circle cx="2949" cy="1232.4" r="3.6" fill="url(#pB)"/>
<circle cx="3058.3" cy="1235.4" r="3.6" fill="url(#pR)"/>
<circle cx="2965.1" cy="1198.6" r="3.6" fill="url(#pB)"/>
<circle cx="3004.7" cy="1239.9" r="3.6" fill="url(#pR)"/>
<circle cx="2979.5" cy="1180.4" r="3.6" fill="url(#pG)"/>
<circle cx="2987.7" cy="1131.6" r="3.6" fill="url(#pO)"/>
<circle cx="2979.1" cy="1186.8" r="3.6" fill="url(#pB)"/>
<circle cx="2966.9" cy="1239.2" r="3.6" fill="url(#pB)"/>
<circle cx="2924.5" cy="1235.4" r="3.6" fill="url(#pO)"/>
<circle cx="3067.5" cy="1227.9" r="3.6" fill="url(#pR)"/>
<circle cx="3042.1" cy="1231.6" r="3.6" fill="url(#pR)"/>
<circle cx="2987.1" cy="1176.6" r="3.6" fill="url(#pG)"/>
<circle cx="2993.3" cy="1240.2" r="3.6" fill="url(#pR)"/>
<circle cx="2970" cy="1235.2" r="3.6" fill="url(#pB)"/>
<circle cx="2995.6" cy="1113.2" r="3.6" fill="url(#pO)"/>
<circle cx="2939.9" cy="1239.6" r="3.6" fill="url(#pB)"/>
<circle cx="2981" cy="1203.7" r="3.6" fill="url(#pR)"/>
<circle cx="3024.5" cy="1238.5" r="3.6" fill="url(#pR)"/>
<circle cx="2994.3" cy="1197.9" r="3.6" fill="url(#pR)"/>
<circle cx="2954.4" cy="1225.7" r="3.6" fill="url(#pB)"/>
<circle cx="2988" cy="1222" r="3.6" fill="url(#pR)"/>
<circle cx="2990" cy="1163.4" r="3.6" fill="url(#pG)"/>
<circle cx="2989.6" cy="1155.2" r="3.6" fill="url(#pG)"/>
<circle cx="2994" cy="1216.7" r="3.6" fill="url(#pR)"/>
<circle cx="3042.1" cy="1211.3" r="3.6" fill="url(#pR)"/>
<circle cx="2984.2" cy="1173.5" r="3.6" fill="url(#pB)"/>
<circle cx="2927" cy="1219.7" r="3.6" fill="url(#pB)"/>
<circle cx="2957.6" cy="1247.8" r="3.6" fill="url(#pO)"/>
<circle cx="2943.9" cy="1252.8" r="3.6" fill="url(#pO)"/>
<circle cx="2987.6" cy="1177.3" r="3.6" fill="url(#pO)"/>
<circle cx="2997" cy="1157" r="3.6" fill="url(#pO)"/>
<circle cx="3039.5" cy="1263.2" r="3.6" fill="url(#pR)"/>
<circle cx="2958.6" cy="1222" r="3.6" fill="url(#pB)"/>
<circle cx="2951.2" cy="1248.5" r="3.6" fill="url(#pB)"/>
<circle cx="2980.2" cy="1220" r="3.6" fill="url(#pR)"/>
<circle cx="2973.9" cy="1225.4" r="3.6" fill="url(#pR)"/>
<circle cx="2994.6" cy="1265.3" r="3.6" fill="url(#pR)"/>
<circle cx="2922.1" cy="1262.6" r="3.6" fill="url(#pO)"/>
<circle cx="2991.5" cy="1149.2" r="3.6" fill="url(#pO)"/>
<circle cx="3006.4" cy="1215" r="3.6" fill="url(#pR)"/>
<circle cx="3005.4" cy="1232.4" r="3.6" fill="url(#pR)"/>
<circle cx="3027.2" cy="1230.8" r="3.6" fill="url(#pR)"/>
<circle cx="2990.9" cy="1138.1" r="3.6" fill="url(#pO)"/>
<circle cx="2980.2" cy="1228.5" r="3.6" fill="url(#pB)"/>
<circle cx="2996.1" cy="1128.4" r="3.6" fill="url(#pO)"/>
<circle cx="2975.3" cy="1230.6" r="3.6" fill="url(#pB)"/>
<circle cx="2967.6" cy="1221.1" r="3.6" fill="url(#pR)"/>
<circle cx="2977" cy="1213.4" r="3.6" fill="url(#pR)"/>
<circle cx="3013.7" cy="1222.1" r="3.6" fill="url(#pR)"/>
<circle cx="2992.8" cy="1146.1" r="3.6" fill="url(#pG)"/>
<circle cx="2965.1" cy="1237.9" r="3.6" fill="url(#pB)"/>
<circle cx="2997.1" cy="1142.2" r="3.6" fill="url(#pG)"/>
<circle cx="2948.8" cy="1242.3" r="3.6" fill="url(#pO)"/>
<circle cx="2971.4" cy="1216.7" r="3.6" fill="url(#pB)"/>
<circle cx="3044.4" cy="1224.4" r="3.6" fill="url(#pR)"/>
<circle cx="3045.7" cy="1255.8" r="3.6" fill="url(#pR)"/>
<circle cx="2961.5" cy="1233.3" r="3.6" fill="url(#pB)"/>
<circle cx="3005" cy="1218.8" r="3.6" fill="url(#pR)"/>
<circle cx="2956.8" cy="1180.3" r="3.6" fill="url(#pB)"/>
<circle cx="3043.4" cy="1286.4" r="3.6" fill="url(#pR)"/>
<circle cx="2932.8" cy="1222.2" r="3.6" fill="url(#pO)"/>
<circle cx="2989.5" cy="1181.3" r="3.6" fill="url(#pB)"/>
<circle cx="2954.4" cy="1212.8" r="3.6" fill="url(#pB)"/>
<circle cx="3005.9" cy="1225" r="3.6" fill="url(#pR)"/>
<circle cx="2971.8" cy="1218.4" r="3.6" fill="url(#pB)"/>
<circle cx="3038.8" cy="1225.6" r="3.6" fill="url(#pR)"/>
<circle cx="2984.6" cy="1152.7" r="3.6" fill="url(#pG)"/>
<circle cx="3014.4" cy="1203.6" r="3.6" fill="url(#pR)"/>
<circle cx="2981.1" cy="1211.3" r="3.6" fill="url(#pR)"/>
<circle cx="2994.8" cy="1139.2" r="3.6" fill="url(#pO)"/>
<circle cx="2948.6" cy="1209.9" r="3.6" fill="url(#pB)"/>
<circle cx="2987.2" cy="1138.1" r="3.6" fill="url(#pG)"/>
<circle cx="2936.5" cy="1206.6" r="3.6" fill="url(#pB)"/>
<circle cx="2980.7" cy="1177.3" r="3.6" fill="url(#pR)"/>
<circle cx="2976.9" cy="1222.9" r="3.6" fill="url(#pB)"/>
<circle cx="2969.9" cy="1258.2" r="3.6" fill="url(#pB)"/>
<circle cx="2919" cy="1274" r="3.6" fill="url(#pO)"/>
<circle cx="2989.3" cy="1131.5" r="3.6" fill="url(#pG)"/>
<circle cx="2993.7" cy="1179.5" r="3.6" fill="url(#pB)"/>
<circle cx="3077.3" cy="1057.5" r="5" fill="url(#pB)"/>
<text x="3098.2" y="1063.3" font-size="17" fill="#111">Good</text>
<circle cx="3077.3" cy="1077.9" r="5" fill="url(#pR)"/>
<text x="3098.2" y="1083.7" font-size="17" fill="#111">Bad</text>
<circle cx="3077.3" cy="1098.3" r="5" fill="url(#pO)"/>
<text x="3098.2" y="1104.1" font-size="17" fill="#111">Explode</text>
<circle cx="3077.3" cy="1118.7" r="5" fill="url(#pG)"/>
<text x="3098.2" y="1124.5" font-size="17" fill="#111">Misjudgment</text>
<line x1="2306.1" y1="1470.4" x2="2306.1" y2="1815.5" stroke="#a9a9a9" stroke-width="1.8" stroke-dasharray="7,5"/>
<line x1="2381.3" y1="1470.4" x2="2381.3" y2="1815.5" stroke="#a9a9a9" stroke-width="1.8" stroke-dasharray="7,5"/>
<line x1="2457.5" y1="1470.4" x2="2457.5" y2="1815.5" stroke="#a9a9a9" stroke-width="1.8" stroke-dasharray="7,5"/>
<line x1="2613.3" y1="1470.4" x2="2613.3" y2="1815.5" stroke="#a9a9a9" stroke-width="1.8" stroke-dasharray="7,5"/>
<line x1="2773.6" y1="1470.4" x2="2773.6" y2="1815.5" stroke="#a9a9a9" stroke-width="1.8" stroke-dasharray="7,5"/>
<line x1="2933.5" y1="1470.4" x2="2933.5" y2="1815.5" stroke="#a9a9a9" stroke-width="1.8" stroke-dasharray="7,5"/>
<line x1="3088.9" y1="1470.4" x2="3088.9" y2="1815.5" stroke="#a9a9a9" stroke-width="1.8" stroke-dasharray="7,5"/>
<line x1="2306.1" y1="1470.4" x2="3088.9" y2="1470.4" stroke="#a9a9a9" stroke-width="1.8" stroke-dasharray="7,5"/>
<line x1="2306.1" y1="1506.1" x2="3088.9" y2="1506.1" stroke="#a9a9a9" stroke-width="1.8" stroke-dasharray="7,5"/>
<line x1="2306.1" y1="1586.5" x2="3088.9" y2="1586.5" stroke="#a9a9a9" stroke-width="1.8" stroke-dasharray="7,5"/>
<line x1="2306.1" y1="1664.2" x2="3088.9" y2="1664.2" stroke="#a9a9a9" stroke-width="1.8" stroke-dasharray="7,5"/>
<line x1="2306.1" y1="1740.8" x2="3088.9" y2="1740.8" stroke="#a9a9a9" stroke-width="1.8" stroke-dasharray="7,5"/>
<line x1="2306.1" y1="1815.5" x2="3088.9" y2="1815.5" stroke="#a9a9a9" stroke-width="1.8" stroke-dasharray="7,5"/>
<text x="2343.7" y="1486.5" font-size="15" fill="#2a2a2a" text-anchor="middle" textLength="51" lengthAdjust="spacingAndGlyphs">Ground</text>
<text x="2345.5" y="1502" font-size="15" fill="#2a2a2a" text-anchor="middle" textLength="32" lengthAdjust="spacingAndGlyphs">truth</text>
<text x="2419.4" y="1493" font-size="14.5" fill="#2a2a2a" text-anchor="middle" textLength="47" lengthAdjust="spacingAndGlyphs">Predict</text>
<text x="2535.5" y="1493" font-size="14.5" fill="#2a2a2a" text-anchor="middle" textLength="84" lengthAdjust="spacingAndGlyphs">Input images</text>
<text x="2692" y="1493" font-size="15" fill="#2a2a2a" text-anchor="middle" textLength="92.7" lengthAdjust="spacingAndGlyphs">Grad of Good</text>
<text x="2853.5" y="1493" font-size="14.5" fill="#2a2a2a" text-anchor="middle" textLength="83" lengthAdjust="spacingAndGlyphs">Grad of Bad</text>
<text x="3015" y="1493" font-size="14.5" fill="#2a2a2a" text-anchor="middle" textLength="112" lengthAdjust="spacingAndGlyphs">Grad of Explode</text>
<text x="2343.7" y="1552.9" font-size="16" fill="#2a2a2a" text-anchor="middle">Good</text>
<text x="2419.4" y="1552.9" font-size="16" fill="#2a2a2a" text-anchor="middle">Good</text>
<text x="2343.7" y="1630.7" font-size="16" fill="#2a2a2a" text-anchor="middle">Bad</text>
<text x="2419.4" y="1630.7" font-size="16" fill="#2a2a2a" text-anchor="middle">Bad</text>
<text x="2343.7" y="1707.7" font-size="16" fill="#2a2a2a" text-anchor="middle">Explode</text>
<text x="2419.4" y="1707.7" font-size="16" fill="#2a2a2a" text-anchor="middle">Explode</text>
<text x="2343.7" y="1785" font-size="16" fill="#2a2a2a" text-anchor="middle">Good</text>
<text x="2419.4" y="1785" font-size="16" fill="#2a2a2a" text-anchor="middle">Explode</text>
<g clip-path="url(#c18)">
<rect x="2464.8" y="1516.5" width="64.5" height="62.8" fill="#6c6054"/>
<rect x="2464.8" y="1516.5" width="64.5" height="62.8" fill="url(#pNoise)" opacity="0.35"/>
<rect x="2464.8" y="1516.5" width="64.5" height="62.8" fill="url(#pNoiseD)" opacity="0.35"/>
<circle cx="2504.8" cy="1544.8" r="33.5" fill="url(#gHalo)"/>
<circle cx="2504.8" cy="1544.8" r="25.8" fill="url(#gNugL)" stroke="#1e150d" stroke-width="3.4"/>
<circle cx="2504.8" cy="1544.8" r="18.6" fill="none" stroke="#4e3e28" stroke-width="2.1" opacity="0.7"/>
<circle cx="2504.8" cy="1544.8" r="14.2" fill="none" stroke="#7c684a" stroke-width="1.5" opacity="0.5"/>
<polygon points="2511.5,1546 2511,1548.4 2509.8,1550.7 2507.5,1552.2 2504.6,1552.6 2502.6,1550.4 2500.2,1548.9 2500.6,1546 2501.1,1543.7 2501.8,1540.7 2504.6,1539.7 2507.6,1539.5 2509.9,1541.2 2511.8,1543.3" fill="#a89e92" opacity="0.85"/>
<polygon points="2508.8,1545.3 2508.6,1546.9 2507.9,1548.6 2506.3,1549.5 2504.6,1548.5 2503.2,1547.9 2501.4,1547.1 2501.3,1545.3 2501.5,1543.4 2503.1,1542.6 2504.5,1541.6 2506.1,1541.8 2508,1541.9 2508.6,1543.7" fill="#cfc8be" opacity="0.8"/>
</g>
<g clip-path="url(#c19)">
<rect x="2535.8" y="1516.5" width="63.2" height="62.8" fill="#6a5e52"/>
<rect x="2535.8" y="1516.5" width="63.2" height="62.8" fill="url(#pNoise)" opacity="0.35"/>
<rect x="2535.8" y="1516.5" width="63.2" height="62.8" fill="url(#pNoiseD)" opacity="0.35"/>
<circle cx="2564.2" cy="1542.9" r="16.4" fill="url(#gHalo)"/>
<circle cx="2564.2" cy="1542.9" r="12.6" fill="url(#gNugL)" stroke="#1e150d" stroke-width="1.6"/>
<circle cx="2564.2" cy="1542.9" r="9.1" fill="none" stroke="#4e3e28" stroke-width="1" opacity="0.7"/>
<circle cx="2564.2" cy="1542.9" r="7" fill="none" stroke="#7c684a" stroke-width="0.8" opacity="0.5"/>
<polygon points="2568.9,1543.5 2568.9,1545.4 2567.1,1546.3 2565.7,1547.3 2564,1547.5 2562.2,1546.9 2561.5,1545.1 2561.3,1543.5 2561.9,1542.1 2562.2,1540.2 2564.2,1540.4 2565.6,1540.4 2567.3,1540.5 2568.3,1541.9" fill="#a89e92" opacity="0.85"/>
<polygon points="2566.9,1543.1 2566.4,1544 2566,1545.1 2564.9,1545 2564,1545.1 2563,1545 2562.7,1544 2562.4,1543.1 2562.3,1542.1 2563,1541.2 2564,1541.1 2564.9,1541.2 2565.8,1541.4 2566.7,1542.1" fill="#cfc8be" opacity="0.8"/>
</g>
<g clip-path="url(#c20)">
<rect x="2624.6" y="1516.5" width="65.1" height="62.8" fill="#393a90"/>
<circle cx="2665" cy="1544.8" r="26" fill="#4344a2" stroke="#20225e" stroke-width="3.1"/>
<circle cx="2665" cy="1544.8" r="11.7" fill="#5a5ab8" opacity="0.6"/>
<circle cx="2665" cy="1540.4" r="40.4" fill="url(#gJet)" opacity="0.92"/>
<rect x="2624.6" y="1516.5" width="65.1" height="62.8" fill="url(#pNoise)" opacity="0.25"/>
<rect x="2624.6" y="1516.5" width="65.1" height="62.8" fill="#3a3c98" opacity="0.1"/>
</g>
<g clip-path="url(#c21)">
<rect x="2695.6" y="1516.5" width="64.9" height="62.8" fill="#393a90"/>
<circle cx="2724.8" cy="1542.9" r="13" fill="#4344a2" stroke="#20225e" stroke-width="1.6"/>
<circle cx="2724.8" cy="1542.9" r="5.8" fill="#5a5ab8" opacity="0.6"/>
<circle cx="2724.8" cy="1541.6" r="44.1" fill="url(#gJet)" opacity="0.92"/>
<rect x="2695.6" y="1516.5" width="64.9" height="62.8" fill="url(#pNoise)" opacity="0.25"/>
<rect x="2695.6" y="1516.5" width="64.9" height="62.8" fill="#3a3c98" opacity="0.1"/>
</g>
<g clip-path="url(#c22)">
<rect x="2785.4" y="1516.5" width="65.6" height="62.8" fill="#393a90"/>
<circle cx="2826.1" cy="1544.8" r="26.2" fill="#4344a2" stroke="#20225e" stroke-width="3.1"/>
<circle cx="2826.1" cy="1544.8" r="11.8" fill="#5a5ab8" opacity="0.6"/>
<circle cx="2785.4" cy="1538.5" r="19.7" fill="url(#gJet2)" opacity="0.92"/>
<circle cx="2788.7" cy="1573" r="16.4" fill="url(#gJet2)" opacity="0.92"/>
<rect x="2785.4" y="1516.5" width="65.6" height="62.8" fill="url(#pNoise)" opacity="0.25"/>
<rect x="2785.4" y="1516.5" width="65.6" height="62.8" fill="#3a3c98" opacity="0.1"/>
</g>
<g clip-path="url(#c23)">
<rect x="2857.7" y="1516.5" width="63" height="62.8" fill="#393a90"/>
<circle cx="2886" cy="1542.9" r="12.6" fill="#4344a2" stroke="#20225e" stroke-width="1.5"/>
<circle cx="2886" cy="1542.9" r="5.7" fill="#5a5ab8" opacity="0.6"/>
<circle cx="2876.6" cy="1579.3" r="18.9" fill="url(#gJet2)" opacity="0.92"/>
<circle cx="2908.1" cy="1579.3" r="12.6" fill="url(#gJet2)" opacity="0.92"/>
<rect x="2857.7" y="1516.5" width="63" height="62.8" fill="url(#pNoise)" opacity="0.25"/>
<rect x="2857.7" y="1516.5" width="63" height="62.8" fill="#3a3c98" opacity="0.1"/>
</g>
<g clip-path="url(#c24)">
<rect x="2945.6" y="1516.5" width="64.3" height="62.8" fill="#393a90"/>
<circle cx="2985.5" cy="1544.8" r="25.7" fill="#4344a2" stroke="#20225e" stroke-width="3.1"/>
<circle cx="2985.5" cy="1544.8" r="11.6" fill="#5a5ab8" opacity="0.6"/>
<circle cx="2952" cy="1569.9" r="7.7" fill="url(#gJet2)" opacity="0.92"/>
<rect x="2945.6" y="1516.5" width="64.3" height="62.8" fill="url(#pNoise)" opacity="0.25"/>
<rect x="2945.6" y="1516.5" width="64.3" height="62.8" fill="#3a3c98" opacity="0.1"/>
</g>
<g clip-path="url(#c25)">
<rect x="3016.6" y="1516.5" width="64.8" height="62.8" fill="#393a90"/>
<circle cx="3045.8" cy="1542.9" r="13" fill="#4344a2" stroke="#20225e" stroke-width="1.6"/>
<circle cx="3045.8" cy="1542.9" r="5.8" fill="#5a5ab8" opacity="0.6"/>
<circle cx="3029.6" cy="1579.3" r="9.7" fill="url(#gJet2)" opacity="0.92"/>
<rect x="3016.6" y="1516.5" width="64.8" height="62.8" fill="url(#pNoise)" opacity="0.25"/>
<rect x="3016.6" y="1516.5" width="64.8" height="62.8" fill="#3a3c98" opacity="0.1"/>
</g>
<g clip-path="url(#c26)">
<rect x="2464.8" y="1594.8" width="64.5" height="61.7" fill="#5e5048"/>
<rect x="2464.8" y="1594.8" width="64.5" height="61.7" fill="url(#pNoise)" opacity="0.35"/>
<rect x="2464.8" y="1594.8" width="64.5" height="61.7" fill="url(#pNoiseD)" opacity="0.35"/>
<circle cx="2497.1" cy="1625.7" r="39.4" fill="url(#gHalo)"/>
<circle cx="2497.1" cy="1625.7" r="30.3" fill="url(#gNugD)" stroke="#1e150d" stroke-width="3.9"/>
<circle cx="2497.1" cy="1625.7" r="21.8" fill="none" stroke="#4e3e28" stroke-width="2.4" opacity="0.7"/>
<circle cx="2497.1" cy="1625.7" r="16.7" fill="none" stroke="#7c684a" stroke-width="1.8" opacity="0.5"/>
<polygon points="2510.1,1627.2 2508,1631.7 2506.7,1637.3 2501.3,1639.3 2495.5,1640.7 2489.8,1638.1 2486.1,1633.2 2486.7,1627.2 2486.5,1621.3 2491.5,1618.3 2496,1616.1 2501.2,1615.8 2507.3,1616.2 2511,1621.2" fill="#a89e92" opacity="0.85"/>
<polygon points="2504.3,1626.3 2503.9,1629.3 2502,1631.7 2499.2,1633 2496.1,1633.1 2493.3,1631.7 2491.8,1629.1 2490.2,1626.3 2490.4,1622.8 2493.1,1620.5 2495.8,1618.3 2499.3,1619 2501.7,1621.2 2504.8,1622.8" fill="#cfc8be" opacity="0.8"/>
<polyline points="2489.3,1618.8 2489.9,1621.5 2495.4,1623.5 2500.6,1625.6 2503.6,1625.3 2506.3,1629.7" fill="none" stroke="#e8e0cc" stroke-width="1.5" stroke-linejoin="round" stroke-linecap="round" opacity="0.9"/>
<polyline points="2498.6,1612 2501.6,1619.2 2499.8,1622.5 2500.6,1627.2 2503,1629.6 2502.1,1635.7" fill="none" stroke="#e8e0cc" stroke-width="1.5" stroke-linejoin="round" stroke-linecap="round" opacity="0.9"/>
</g>
<g clip-path="url(#c27)">
<rect x="2535.8" y="1594.8" width="63.2" height="61.7" fill="#6a5a50"/>
<rect x="2535.8" y="1594.8" width="63.2" height="61.7" fill="url(#pNoise)" opacity="0.35"/>
<rect x="2535.8" y="1594.8" width="63.2" height="61.7" fill="url(#pNoiseD)" opacity="0.35"/>
<circle cx="2564.2" cy="1630.6" r="34.5" fill="url(#gHalo)"/>
<circle cx="2564.2" cy="1630.6" r="26.5" fill="url(#gNugD)" stroke="#1e150d" stroke-width="3.5"/>
<circle cx="2564.2" cy="1630.6" r="19.1" fill="none" stroke="#4e3e28" stroke-width="2.1" opacity="0.7"/>
<circle cx="2564.2" cy="1630.6" r="14.6" fill="none" stroke="#7c684a" stroke-width="1.6" opacity="0.5"/>
<polygon points="2574.9,1631.9 2574.7,1636.3 2571.1,1638.9 2567.5,1640.5 2563.2,1642.5 2559.4,1639.6 2557.2,1635.9 2556.2,1631.9 2556.5,1627.6 2559.4,1624.1 2563.2,1621.5 2567.6,1623.1 2572,1623.8 2574.4,1627.6" fill="#a89e92" opacity="0.85"/>
<polygon points="2571,1631.1 2570.3,1633.8 2568.7,1636 2566.2,1637.3 2563.3,1637.4 2561.1,1635.7 2559.7,1633.6 2558.8,1631.1 2559.2,1628.4 2561.4,1626.9 2563.6,1625.8 2565.9,1626.4 2568.5,1626.4 2570.7,1628.3" fill="#cfc8be" opacity="0.8"/>
<polyline points="2558.5,1632.2 2560.6,1634.6 2563.6,1637.9 2565.5,1637.4 2568.3,1640.1 2573.1,1640.2" fill="none" stroke="#e8e0cc" stroke-width="1.3" stroke-linejoin="round" stroke-linecap="round" opacity="0.9"/>
</g>
<g clip-path="url(#c28)">
<rect x="2624.6" y="1594.8" width="65.1" height="61.7" fill="#393a90"/>
<circle cx="2657.1" cy="1625.7" r="30.6" fill="#4344a2" stroke="#20225e" stroke-width="3.7"/>
<circle cx="2657.1" cy="1625.7" r="13.8" fill="#5a5ab8" opacity="0.6"/>
<rect x="2624.6" y="1594.8" width="65.1" height="61.7" fill="url(#pNoise)" opacity="0.25"/>
<rect x="2624.6" y="1594.8" width="65.1" height="61.7" fill="#3a3c98" opacity="0.1"/>
</g>
<g clip-path="url(#c29)">
<rect x="2695.6" y="1594.8" width="64.9" height="61.7" fill="#393a90"/>
<circle cx="2724.8" cy="1630.6" r="27.3" fill="#4344a2" stroke="#20225e" stroke-width="3.3"/>
<circle cx="2724.8" cy="1630.6" r="12.3" fill="#5a5ab8" opacity="0.6"/>
<rect x="2695.6" y="1594.8" width="64.9" height="61.7" fill="url(#pNoise)" opacity="0.25"/>
<rect x="2695.6" y="1594.8" width="64.9" height="61.7" fill="#3a3c98" opacity="0.1"/>
</g>
<g clip-path="url(#c30)">
<rect x="2785.4" y="1594.8" width="65.6" height="61.7" fill="#393a90"/>
<circle cx="2818.2" cy="1625.7" r="30.8" fill="#4344a2" stroke="#20225e" stroke-width="3.7"/>
<circle cx="2818.2" cy="1625.7" r="13.9" fill="#5a5ab8" opacity="0.6"/>
<circle cx="2818.2" cy="1628.7" r="49.2" fill="url(#gJet)" opacity="0.92"/>
<rect x="2785.4" y="1594.8" width="65.6" height="61.7" fill="url(#pNoise)" opacity="0.25"/>
<rect x="2785.4" y="1594.8" width="65.6" height="61.7" fill="#3a3c98" opacity="0.1"/>
</g>
<g clip-path="url(#c31)">
<rect x="2857.7" y="1594.8" width="63" height="61.7" fill="#393a90"/>
<circle cx="2886" cy="1630.6" r="26.5" fill="#4344a2" stroke="#20225e" stroke-width="3.2"/>
<circle cx="2886" cy="1630.6" r="11.9" fill="#5a5ab8" opacity="0.6"/>
<circle cx="2890.5" cy="1622.6" r="47.2" fill="url(#gJet)" opacity="0.92"/>
<rect x="2857.7" y="1594.8" width="63" height="61.7" fill="url(#pNoise)" opacity="0.25"/>
<rect x="2857.7" y="1594.8" width="63" height="61.7" fill="#3a3c98" opacity="0.1"/>
</g>
<g clip-path="url(#c32)">
<rect x="2945.6" y="1594.8" width="64.3" height="61.7" fill="#393a90"/>
<circle cx="2977.8" cy="1625.7" r="30.2" fill="#4344a2" stroke="#20225e" stroke-width="3.6"/>
<circle cx="2977.8" cy="1625.7" r="13.6" fill="#5a5ab8" opacity="0.6"/>
<rect x="2945.6" y="1594.8" width="64.3" height="61.7" fill="url(#pNoise)" opacity="0.25"/>
<rect x="2945.6" y="1594.8" width="64.3" height="61.7" fill="#3a3c98" opacity="0.1"/>
</g>
<g clip-path="url(#c33)">
<rect x="3016.6" y="1594.8" width="64.8" height="61.7" fill="#393a90"/>
<circle cx="3045.8" cy="1630.6" r="27.2" fill="#4344a2" stroke="#20225e" stroke-width="3.3"/>
<circle cx="3045.8" cy="1630.6" r="12.2" fill="#5a5ab8" opacity="0.6"/>
<rect x="3016.6" y="1594.8" width="64.8" height="61.7" fill="url(#pNoise)" opacity="0.25"/>
<rect x="3016.6" y="1594.8" width="64.8" height="61.7" fill="#3a3c98" opacity="0.1"/>
</g>
<g clip-path="url(#c34)">
<rect x="2464.8" y="1671.8" width="64.5" height="61.7" fill="#645850"/>
<rect x="2464.8" y="1671.8" width="64.5" height="61.7" fill="url(#pNoise)" opacity="0.35"/>
<rect x="2464.8" y="1671.8" width="64.5" height="61.7" fill="url(#pNoiseD)" opacity="0.35"/>
<circle cx="2490.6" cy="1710.1" r="35.2" fill="url(#gHalo)"/>
<circle cx="2490.6" cy="1710.1" r="27.1" fill="url(#gNug)" stroke="#1e150d" stroke-width="3.5"/>
<circle cx="2490.6" cy="1710.1" r="19.5" fill="none" stroke="#4e3e28" stroke-width="2.2" opacity="0.7"/>
<circle cx="2490.6" cy="1710.1" r="14.9" fill="none" stroke="#7c684a" stroke-width="1.6" opacity="0.5"/>
<polygon points="2498.8,1711.4 2499.2,1714.9 2497.2,1717.9 2494,1720.5 2490.4,1718 2487.6,1716.9 2485.4,1714.5 2484.6,1711.4 2485.3,1708.2 2486.5,1704.6 2490.1,1703.2 2493.6,1704.3 2496.5,1705.8 2498.7,1708.2" fill="#a89e92" opacity="0.85"/>
<polygon points="2495.5,1710.6 2495.9,1712.9 2494,1714.2 2492.2,1715.4 2489.9,1715.9 2488.1,1714.4 2487.1,1712.5 2485.6,1710.6 2486.1,1708.2 2488.3,1707 2490,1705.8 2492.4,1705.1 2494.2,1706.8 2495.1,1708.7" fill="#cfc8be" opacity="0.8"/>
<polyline points="2491.8,1681.7 2494.8,1684.2 2494.5,1689 2494.2,1694.9 2496,1696.7 2494.4,1701.8" fill="none" stroke="#e8e0cc" stroke-width="1.4" stroke-linejoin="round" stroke-linecap="round" opacity="0.9"/>
<polyline points="2490.2,1716.4 2496.2,1717.4 2499.2,1717.6 2504.6,1719.6 2511.3,1722 2515.4,1725.2" fill="none" stroke="#e8e0cc" stroke-width="1.4" stroke-linejoin="round" stroke-linecap="round" opacity="0.9"/>
</g>
<g clip-path="url(#c35)">
<rect x="2535.8" y="1671.8" width="63.2" height="61.7" fill="#6a5e52"/>
<rect x="2535.8" y="1671.8" width="63.2" height="61.7" fill="url(#pNoise)" opacity="0.35"/>
<rect x="2535.8" y="1671.8" width="63.2" height="61.7" fill="url(#pNoiseD)" opacity="0.35"/>
<circle cx="2567.4" cy="1699.6" r="39.4" fill="url(#gHalo)"/>
<circle cx="2567.4" cy="1699.6" r="30.3" fill="url(#gNugL)" stroke="#1e150d" stroke-width="3.9"/>
<circle cx="2567.4" cy="1699.6" r="21.8" fill="none" stroke="#4e3e28" stroke-width="2.4" opacity="0.7"/>
<circle cx="2567.4" cy="1699.6" r="16.7" fill="none" stroke="#7c684a" stroke-width="1.8" opacity="0.5"/>
<polygon points="2581.5,1701.1 2581.4,1707.1 2576.4,1710.4 2572.2,1715.7 2566.4,1712.1 2559.4,1713 2555.1,1707.7 2553.7,1701.1 2558.4,1696 2561.1,1691.3 2565.6,1686.8 2571.5,1689.6 2577.4,1690.5 2581.1,1695.2" fill="#a89e92" opacity="0.85"/>
<polygon points="2577.5,1700.2 2575.6,1703.8 2573.8,1707.4 2569.7,1707.6 2566,1709 2563,1706.4 2559.6,1704.2 2561,1700.2 2559.8,1696.2 2563.4,1694.4 2566.2,1692.1 2569.8,1692.1 2572.5,1694.5 2576.2,1696.2" fill="#cfc8be" opacity="0.8"/>
<polyline points="2551.5,1686.7 2556.8,1686.1 2564.2,1687 2569.9,1686.3 2575.1,1684.6 2582.4,1686.1" fill="none" stroke="#e8e0cc" stroke-width="1.5" stroke-linejoin="round" stroke-linecap="round" opacity="0.9"/>
<polyline points="2550.4,1700.1 2548,1701.5 2551.2,1703.5 2551.3,1706.7 2549.8,1711.1 2553.3,1710.6" fill="none" stroke="#e8e0cc" stroke-width="1.5" stroke-linejoin="round" stroke-linecap="round" opacity="0.9"/>
</g>
<g clip-path="url(#c36)">
<rect x="2624.6" y="1671.8" width="65.1" height="61.7" fill="#393a90"/>
<circle cx="2650.6" cy="1710.1" r="27.3" fill="#4344a2" stroke="#20225e" stroke-width="3.3"/>
<circle cx="2650.6" cy="1710.1" r="12.3" fill="#5a5ab8" opacity="0.6"/>
<circle cx="2631.1" cy="1678" r="22.8" fill="url(#gJet2)" opacity="0.92"/>
<circle cx="2644.1" cy="1733.5" r="19.5" fill="url(#gJet2)" opacity="0.92"/>
<circle cx="2683.2" cy="1674.9" r="13" fill="url(#gJet2)" opacity="0.92"/>
<rect x="2624.6" y="1671.8" width="65.1" height="61.7" fill="url(#pNoise)" opacity="0.25"/>
<rect x="2624.6" y="1671.8" width="65.1" height="61.7" fill="#3a3c98" opacity="0.1"/>
</g>
<g clip-path="url(#c37)">
<rect x="2695.6" y="1671.8" width="64.9" height="61.7" fill="#393a90"/>
<circle cx="2728.1" cy="1699.6" r="31.2" fill="#4344a2" stroke="#20225e" stroke-width="3.7"/>
<circle cx="2728.1" cy="1699.6" r="14" fill="#5a5ab8" opacity="0.6"/>
<circle cx="2750.8" cy="1730.4" r="16.2" fill="url(#gJet2)" opacity="0.92"/>
<circle cx="2702.1" cy="1678" r="13" fill="url(#gJet2)" opacity="0.92"/>
<rect x="2695.6" y="1671.8" width="64.9" height="61.7" fill="url(#pNoise)" opacity="0.25"/>
<rect x="2695.6" y="1671.8" width="64.9" height="61.7" fill="#3a3c98" opacity="0.1"/>
</g>
<g clip-path="url(#c38)">
<rect x="2785.4" y="1671.8" width="65.6" height="61.7" fill="#393a90"/>
<circle cx="2811.6" cy="1710.1" r="27.6" fill="#4344a2" stroke="#20225e" stroke-width="3.3"/>
<circle cx="2811.6" cy="1710.1" r="12.4" fill="#5a5ab8" opacity="0.6"/>
<circle cx="2795.2" cy="1678" r="26.2" fill="url(#gJet)" opacity="0.92"/>
<rect x="2785.4" y="1671.8" width="65.6" height="61.7" fill="url(#pNoise)" opacity="0.25"/>
<rect x="2785.4" y="1671.8" width="65.6" height="61.7" fill="#3a3c98" opacity="0.1"/>
</g>
<g clip-path="url(#c39)">
<rect x="2857.7" y="1671.8" width="63" height="61.7" fill="#393a90"/>
<circle cx="2889.2" cy="1699.6" r="30.2" fill="#4344a2" stroke="#20225e" stroke-width="3.6"/>
<circle cx="2889.2" cy="1699.6" r="13.6" fill="#5a5ab8" opacity="0.6"/>
<circle cx="2908.1" cy="1721.2" r="25.2" fill="url(#gJet)" opacity="0.92"/>
<circle cx="2876.6" cy="1674.9" r="15.8" fill="url(#gJet2)" opacity="0.92"/>
<rect x="2857.7" y="1671.8" width="63" height="61.7" fill="url(#pNoise)" opacity="0.25"/>
<rect x="2857.7" y="1671.8" width="63" height="61.7" fill="#3a3c98" opacity="0.1"/>
</g>
<g clip-path="url(#c40)">
<rect x="2945.6" y="1671.8" width="64.3" height="61.7" fill="#393a90"/>
<circle cx="2971.3" cy="1710.1" r="27" fill="#4344a2" stroke="#20225e" stroke-width="3.2"/>
<circle cx="2971.3" cy="1710.1" r="12.2" fill="#5a5ab8" opacity="0.6"/>
<circle cx="2982.9" cy="1705.7" r="32.2" fill="url(#gJet)" opacity="0.92"/>
<rect x="2945.6" y="1671.8" width="64.3" height="61.7" fill="url(#pNoise)" opacity="0.25"/>
<rect x="2945.6" y="1671.8" width="64.3" height="61.7" fill="#3a3c98" opacity="0.1"/>
</g>
<g clip-path="url(#c41)">
<rect x="3016.6" y="1671.8" width="64.8" height="61.7" fill="#393a90"/>
<circle cx="3049" cy="1699.6" r="31.1" fill="#4344a2" stroke="#20225e" stroke-width="3.7"/>
<circle cx="3049" cy="1699.6" r="14" fill="#5a5ab8" opacity="0.6"/>
<circle cx="3045.8" cy="1699.6" r="35.6" fill="url(#gJet2)" opacity="0.92"/>
<circle cx="3036" cy="1705.7" r="19.4" fill="url(#gJet)" opacity="0.92"/>
<rect x="3016.6" y="1671.8" width="64.8" height="61.7" fill="url(#pNoise)" opacity="0.25"/>
<rect x="3016.6" y="1671.8" width="64.8" height="61.7" fill="#3a3c98" opacity="0.1"/>
</g>
<g clip-path="url(#c42)">
<rect x="2464.8" y="1748.8" width="64.5" height="62.5" fill="#746858"/>
<rect x="2464.8" y="1748.8" width="64.5" height="62.5" fill="url(#pNoise)" opacity="0.35"/>
<rect x="2464.8" y="1748.8" width="64.5" height="62.5" fill="url(#pNoiseD)" opacity="0.35"/>
<circle cx="2497.1" cy="1797.5" r="37.7" fill="url(#gHalo)"/>
<circle cx="2497.1" cy="1797.5" r="29" fill="url(#gNugL)" stroke="#1e150d" stroke-width="3.8"/>
<circle cx="2497.1" cy="1797.5" r="20.9" fill="none" stroke="#4e3e28" stroke-width="2.3" opacity="0.7"/>
<circle cx="2497.1" cy="1797.5" r="16" fill="none" stroke="#7c684a" stroke-width="1.7" opacity="0.5"/>
<polygon points="2507.6,1799 2505.8,1802.5 2503.7,1805.5 2500.5,1807.6 2496.7,1806.9 2493.4,1805.4 2491,1802.6 2489.3,1799 2491.3,1795.5 2493.6,1792.9 2496.4,1789.8 2500.3,1791 2504.8,1791.1 2506.5,1795.1" fill="#a89e92" opacity="0.85"/>
<polygon points="2503.3,1798.1 2502.1,1800.3 2501.3,1802.7 2498.6,1802.5 2496.6,1802.6 2494.8,1801.6 2492.6,1800.5 2492,1798.1 2493.5,1796.1 2494.5,1794.2 2496.3,1792.4 2498.8,1792.9 2500.4,1794.6 2501.9,1796.1" fill="#cfc8be" opacity="0.8"/>
</g>
<g clip-path="url(#c43)">
<rect x="2535.8" y="1748.8" width="63.2" height="62.5" fill="#6c6054"/>
<rect x="2535.8" y="1748.8" width="63.2" height="62.5" fill="url(#pNoise)" opacity="0.35"/>
<rect x="2535.8" y="1748.8" width="63.2" height="62.5" fill="url(#pNoiseD)" opacity="0.35"/>
<circle cx="2570.6" cy="1783.2" r="37" fill="url(#gHalo)"/>
<circle cx="2570.6" cy="1783.2" r="28.4" fill="url(#gNugL)" stroke="#1e150d" stroke-width="3.7"/>
<circle cx="2570.6" cy="1783.2" r="20.5" fill="none" stroke="#4e3e28" stroke-width="2.3" opacity="0.7"/>
<circle cx="2570.6" cy="1783.2" r="15.6" fill="none" stroke="#7c684a" stroke-width="1.7" opacity="0.5"/>
<polygon points="2580.7,1784.6 2579.8,1788.3 2578,1792.1 2573.9,1792.9 2569.4,1795.7 2565.9,1792.2 2563,1788.9 2561.5,1784.6 2562.2,1779.9 2565.1,1775.9 2569.9,1775.3 2574.1,1775.5 2578,1777.1 2579.4,1781" fill="#a89e92" opacity="0.85"/>
<polygon points="2576.9,1783.7 2576.9,1786.5 2575.5,1789.2 2572.6,1790.2 2569.7,1789.9 2567.3,1788.6 2566.7,1785.9 2565.5,1783.7 2566,1781.3 2567.2,1778.8 2570,1778.7 2572.4,1778.2 2574.9,1779.1 2577.1,1780.9" fill="#cfc8be" opacity="0.8"/>
<polyline points="2568.8,1777.9 2568.8,1781.8 2573.6,1784.5 2574,1787.7 2575.6,1791.9 2580.8,1794.6" fill="none" stroke="#e8e0cc" stroke-width="1.4" stroke-linejoin="round" stroke-linecap="round" opacity="0.9"/>
</g>
<g clip-path="url(#c44)">
<rect x="2624.6" y="1748.8" width="65.1" height="62.5" fill="#393a90"/>
<circle cx="2657.1" cy="1797.5" r="29.3" fill="#4344a2" stroke="#20225e" stroke-width="3.5"/>
<circle cx="2657.1" cy="1797.5" r="13.2" fill="#5a5ab8" opacity="0.6"/>
<circle cx="2657.1" cy="1755" r="26" fill="url(#gJet2)" opacity="0.92"/>
<circle cx="2627.9" cy="1780" r="19.5" fill="url(#gJet2)" opacity="0.92"/>
<circle cx="2660.4" cy="1755" r="13" fill="url(#gJet)" opacity="0.92"/>
<rect x="2624.6" y="1748.8" width="65.1" height="62.5" fill="url(#pNoise)" opacity="0.25"/>
<rect x="2624.6" y="1748.8" width="65.1" height="62.5" fill="#3a3c98" opacity="0.1"/>
</g>
<g clip-path="url(#c45)">
<rect x="2695.6" y="1748.8" width="64.9" height="62.5" fill="#393a90"/>
<circle cx="2731.3" cy="1783.2" r="29.2" fill="#4344a2" stroke="#20225e" stroke-width="3.5"/>
<circle cx="2731.3" cy="1783.2" r="13.1" fill="#5a5ab8" opacity="0.6"/>
<circle cx="2728.1" cy="1758.2" r="26" fill="url(#gJet2)" opacity="0.92"/>
<circle cx="2754" cy="1786.3" r="22.7" fill="url(#gJet2)" opacity="0.92"/>
<circle cx="2702.1" cy="1773.8" r="13" fill="url(#gJet2)" opacity="0.92"/>
<rect x="2695.6" y="1748.8" width="64.9" height="62.5" fill="url(#pNoise)" opacity="0.25"/>
<rect x="2695.6" y="1748.8" width="64.9" height="62.5" fill="#3a3c98" opacity="0.1"/>
</g>
<g clip-path="url(#c46)">
<rect x="2785.4" y="1748.8" width="65.6" height="62.5" fill="#393a90"/>
<circle cx="2818.2" cy="1797.5" r="29.5" fill="#4344a2" stroke="#20225e" stroke-width="3.5"/>
<circle cx="2818.2" cy="1797.5" r="13.3" fill="#5a5ab8" opacity="0.6"/>
<circle cx="2808.4" cy="1792.5" r="32.8" fill="url(#gJet)" opacity="0.92"/>
<rect x="2785.4" y="1748.8" width="65.6" height="62.5" fill="url(#pNoise)" opacity="0.25"/>
<rect x="2785.4" y="1748.8" width="65.6" height="62.5" fill="#3a3c98" opacity="0.1"/>
</g>
<g clip-path="url(#c47)">
<rect x="2857.7" y="1748.8" width="63" height="62.5" fill="#393a90"/>
<circle cx="2892.3" cy="1783.2" r="28.4" fill="#4344a2" stroke="#20225e" stroke-width="3.4"/>
<circle cx="2892.3" cy="1783.2" r="12.8" fill="#5a5ab8" opacity="0.6"/>
<circle cx="2895.5" cy="1776.9" r="41" fill="url(#gJet)" opacity="0.92"/>
<circle cx="2870.3" cy="1758.2" r="15.8" fill="url(#gJet)" opacity="0.92"/>
<rect x="2857.7" y="1748.8" width="63" height="62.5" fill="url(#pNoise)" opacity="0.25"/>
<rect x="2857.7" y="1748.8" width="63" height="62.5" fill="#3a3c98" opacity="0.1"/>
</g>
<g clip-path="url(#c48)">
<rect x="2945.6" y="1748.8" width="64.3" height="62.5" fill="#393a90"/>
<circle cx="2977.8" cy="1797.5" r="28.9" fill="#4344a2" stroke="#20225e" stroke-width="3.5"/>
<circle cx="2977.8" cy="1797.5" r="13" fill="#5a5ab8" opacity="0.6"/>
<circle cx="2977.8" cy="1801.9" r="28.9" fill="url(#gJet2)" opacity="0.92"/>
<rect x="2945.6" y="1748.8" width="64.3" height="62.5" fill="url(#pNoise)" opacity="0.25"/>
<rect x="2945.6" y="1748.8" width="64.3" height="62.5" fill="#3a3c98" opacity="0.1"/>
</g>
<g clip-path="url(#c49)">
<rect x="3016.6" y="1748.8" width="64.8" height="62.5" fill="#393a90"/>
<circle cx="3052.2" cy="1783.2" r="29.2" fill="#4344a2" stroke="#20225e" stroke-width="3.5"/>
<circle cx="3052.2" cy="1783.2" r="13.1" fill="#5a5ab8" opacity="0.6"/>
<circle cx="3062" cy="1786.3" r="19.4" fill="url(#gJet2)" opacity="0.92"/>
<rect x="3016.6" y="1748.8" width="64.8" height="62.5" fill="url(#pNoise)" opacity="0.25"/>
<rect x="3016.6" y="1748.8" width="64.8" height="62.5" fill="#3a3c98" opacity="0.1"/>
</g>
</svg></body></html>
